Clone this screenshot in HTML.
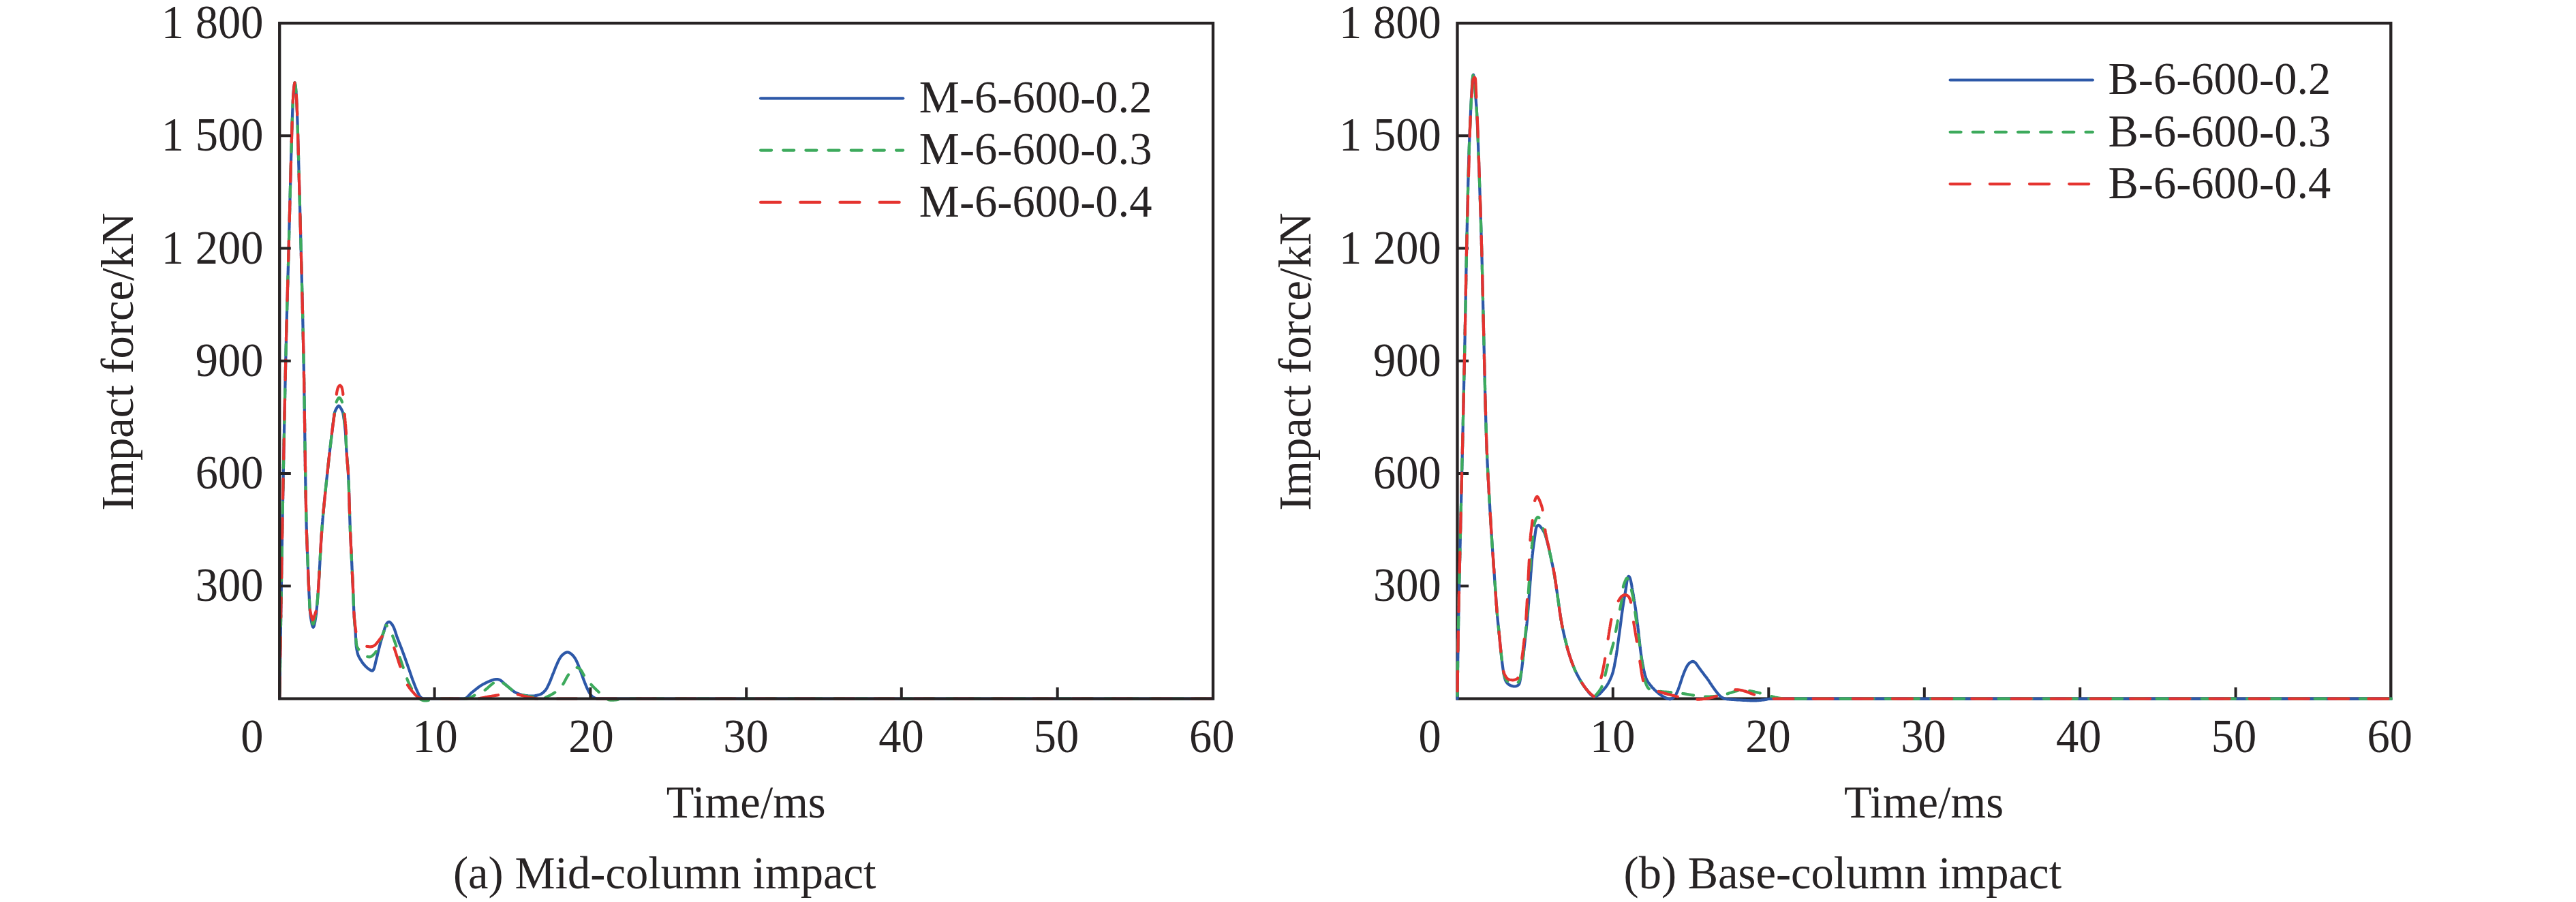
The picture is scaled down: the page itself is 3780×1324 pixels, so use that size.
<!DOCTYPE html>
<html lang="en">
<head>
<meta charset="utf-8">
<title>Impact force time histories</title>
<style>
html,body{margin:0;padding:0;background:#fff;}
body{width:3780px;height:1324px;overflow:hidden;}
svg{display:block;}
svg text{font-family:"Liberation Serif","Times New Roman",serif;font-size:66.5px;fill:#272324;}
</style>
</head>
<body>
<svg width="3780" height="1324" viewBox="0 0 3780 1324">
<rect width="3780" height="1324" fill="#ffffff"/>
<g id="chart-a">
<path d="M410.2,1025.6 410.2,1024.1 410.2,1022.6 410.3,1021.1 410.3,1019.6 410.3,1018.1 410.3,1016.6 410.4,1015.1 410.4,1013.6 410.4,1012.1 410.4,1010.6 410.5,1009.1 410.5,1007.6 410.5,1006.1 410.5,1004.6 410.6,1003.1 410.6,1001.6 410.6,1000.1 410.6,998.6 410.7,997.1 410.7,995.6 410.7,994.1 410.7,992.6 410.8,991.1 410.8,989.6 410.8,988.1 410.8,986.6 410.9,985.1 410.9,983.6 410.9,982.1 410.9,980.6 411,979.1 411,977.6 411,976.1 411,974.6 411.1,973.1 411.1,971.6 411.1,970.1 411.1,968.6 411.2,967.1 411.2,965.6 411.2,964.1 411.2,962.6 411.3,961.1 411.3,959.6 411.3,958.1 411.3,956.6 411.4,955.1 411.4,953.6 411.4,952.1 411.4,950.6 411.5,949.1 411.5,947.6 411.5,946.1 411.5,944.6 411.5,943.1 411.6,941.6 411.6,940.1 411.6,938.6 411.6,937.1 411.7,935.6 411.7,934.1 411.7,932.6 411.7,931.1 411.8,929.6 411.8,928.1 411.8,926.6 411.8,925.1 411.9,923.6 411.9,922.1 411.9,920.6 411.9,919.1 412,917.6 412,916.1 412,914.6 412,913.1 412.1,911.6 412.1,910.1 412.1,908.6 412.1,907.1 412.2,905.6 412.2,904.1 412.2,902.6 412.2,901.1 412.2,899.6 412.3,898.1 412.3,896.6 412.3,895.1 412.3,893.6 412.4,892.1 412.4,890.6 412.4,889.1 412.4,887.5 412.5,886 412.5,884.5 412.5,883 412.5,881.5 412.6,880 412.6,878.5 412.6,877 412.6,875.5 412.7,874 412.7,872.5 412.7,871 412.7,869.5 412.7,868 412.8,866.5 412.8,865 412.8,863.5 412.8,862 412.9,860.5 412.9,859 412.9,857.5 412.9,856 413,854.5 413,853 413,851.5 413,850 413.1,848.5 413.1,847 413.1,845.5 413.1,844 413.2,842.5 413.2,841 413.2,839.5 413.2,838 413.2,836.5 413.3,835 413.3,833.5 413.3,832 413.3,830.5 413.4,829 413.4,827.5 413.4,826 413.4,824.5 413.5,823 413.5,821.5 413.5,820 413.5,818.5 413.6,817 413.6,815.5 413.6,814 413.6,812.5 413.7,811 413.7,809.5 413.7,808 413.7,806.5 413.8,805 413.8,803.5 413.8,802 413.8,800.5 413.9,799 413.9,797.5 413.9,796 413.9,794.5 414,793 414,791.5 414,790 414.1,788.5 414.1,787 414.1,785.5 414.1,784 414.2,782.5 414.2,781 414.2,779.5 414.2,778 414.3,776.5 414.3,775 414.3,773.5 414.3,772 414.4,770.5 414.4,769 414.4,767.5 414.4,766 414.5,764.5 414.5,763 414.5,761.5 414.6,760 414.6,758.5 414.6,757 414.6,755.5 414.7,754 414.7,752.5 414.7,751 414.7,749.5 414.8,748 414.8,746.5 414.8,745 414.9,743.5 414.9,742 414.9,740.5 414.9,739 415,737.5 415,736 415,734.5 415.1,733 415.1,731.5 415.1,730 415.1,728.5 415.2,727 415.2,725.5 415.2,724 415.2,722.5 415.3,721 415.3,719.5 415.3,718 415.4,716.5 415.4,715 415.4,713.5 415.4,712 415.5,710.5 415.5,709 415.5,707.5 415.6,706 415.6,704.5 415.6,703 415.6,701.5 415.7,700 415.7,698.5 415.7,697 415.8,695.5 415.8,694 415.8,692.5 415.8,691 415.9,689.5 415.9,688 415.9,686.5 416,685 416,683.5 416,682 416.1,680.5 416.1,679 416.1,677.5 416.1,676 416.2,674.5 416.2,673 416.2,671.5 416.3,670 416.3,668.5 416.3,667 416.3,665.5 416.4,664 416.4,662.5 416.4,661 416.5,659.5 416.5,658 416.5,656.5 416.6,655 416.6,653.5 416.6,652 416.6,650.5 416.7,649 416.7,647.5 416.7,646 416.8,644.5 416.8,643 416.8,641.5 416.9,640 416.9,638.5 416.9,637 417,635.5 417,634 417,632.5 417,631 417.1,629.5 417.1,628 417.1,626.5 417.2,625 417.2,623.5 417.2,622 417.3,620.5 417.3,619 417.3,617.5 417.4,616 417.4,614.5 417.4,613 417.4,611.5 417.5,610 417.5,608.5 417.5,607 417.6,605.5 417.6,604 417.6,602.5 417.7,601 417.7,599.5 417.7,598 417.8,596.5 417.8,595 417.8,593.5 417.9,592 417.9,590.5 417.9,589 418,587.5 418,586 418,584.5 418.1,583 418.1,581.5 418.1,579.9 418.2,578.4 418.2,576.9 418.2,575.4 418.3,573.9 418.3,572.4 418.3,570.9 418.4,569.4 418.4,567.9 418.4,566.4 418.5,564.9 418.5,563.4 418.5,561.9 418.6,560.4 418.6,558.9 418.6,557.4 418.7,555.9 418.7,554.4 418.7,552.9 418.8,551.4 418.8,549.9 418.8,548.4 418.9,546.9 418.9,545.4 418.9,543.9 419,542.4 419,540.9 419,539.4 419.1,537.9 419.1,536.4 419.1,534.9 419.2,533.4 419.2,531.9 419.2,530.4 419.3,528.9 419.3,527.4 419.3,525.9 419.4,524.4 419.4,522.9 419.4,521.4 419.5,519.9 419.5,518.4 419.5,516.9 419.6,515.4 419.6,513.9 419.6,512.4 419.7,510.9 419.7,509.4 419.7,507.9 419.8,506.4 419.8,504.9 419.9,503.4 419.9,501.9 419.9,500.4 420,498.9 420,497.4 420,495.9 420.1,494.4 420.1,492.9 420.2,491.4 420.2,489.9 420.2,488.4 420.3,486.9 420.3,485.4 420.3,483.9 420.4,482.4 420.4,480.9 420.5,479.4 420.5,477.9 420.5,476.4 420.6,474.9 420.6,473.4 420.7,471.9 420.7,470.4 420.7,468.9 420.8,467.4 420.8,465.9 420.9,464.4 420.9,462.9 420.9,461.4 421,459.9 421,458.4 421.1,456.9 421.1,455.4 421.2,453.9 421.2,452.4 421.2,450.9 421.3,449.4 421.3,447.9 421.4,446.4 421.4,444.9 421.4,443.4 421.5,441.9 421.5,440.4 421.6,438.9 421.6,437.4 421.7,435.9 421.7,434.4 421.7,432.9 421.8,431.4 421.8,429.9 421.9,428.4 421.9,426.9 422,425.4 422,423.9 422,422.4 422.1,420.9 422.1,419.4 422.2,417.9 422.2,416.4 422.3,414.9 422.3,413.4 422.3,411.9 422.4,410.4 422.4,408.9 422.5,407.4 422.5,405.9 422.5,404.4 422.6,402.9 422.6,401.4 422.7,399.9 422.7,398.4 422.8,396.9 422.8,395.4 422.8,393.9 422.9,392.4 422.9,390.9 423,389.4 423,387.9 423.1,386.4 423.1,384.9 423.1,383.4 423.2,381.9 423.2,380.4 423.3,378.9 423.3,377.4 423.3,375.9 423.4,374.4 423.4,372.9 423.5,371.4 423.5,369.9 423.5,368.4 423.6,366.9 423.6,365.4 423.7,363.9 423.7,362.4 423.7,360.9 423.8,359.4 423.8,357.9 423.9,356.4 423.9,354.9 423.9,353.4 424,351.9 424,350.4 424.1,348.9 424.1,347.4 424.1,345.9 424.2,344.4 424.2,342.9 424.3,341.4 424.3,339.9 424.3,338.4 424.4,336.9 424.4,335.4 424.5,333.9 424.5,332.4 424.5,330.9 424.6,329.4 424.6,327.9 424.6,326.4 424.7,324.9 424.7,323.4 424.8,321.9 424.8,320.4 424.8,318.9 424.9,317.4 424.9,315.9 425,314.4 425,312.9 425,311.4 425.1,309.9 425.1,308.4 425.2,306.9 425.2,305.4 425.2,303.9 425.3,302.4 425.3,300.9 425.4,299.4 425.4,297.9 425.4,296.4 425.5,294.9 425.5,293.4 425.5,291.9 425.6,290.4 425.6,288.9 425.7,287.4 425.7,285.9 425.7,284.4 425.8,282.9 425.8,281.4 425.9,279.9 425.9,278.4 425.9,276.9 426,275.4 426,273.9 426.1,272.4 426.1,270.9 426.1,269.4 426.2,267.9 426.2,266.4 426.3,264.9 426.3,263.4 426.3,261.9 426.4,260.4 426.4,258.9 426.5,257.4 426.5,255.9 426.5,254.4 426.6,252.9 426.6,251.4 426.7,249.9 426.7,248.4 426.7,246.9 426.8,245.4 426.8,243.9 426.9,242.4 426.9,240.9 426.9,239.4 427,237.9 427,236.4 427.1,234.9 427.1,233.4 427.1,231.9 427.2,230.4 427.2,228.9 427.3,227.4 427.3,225.9 427.4,224.4 427.4,222.9 427.4,221.4 427.5,219.9 427.5,218.4 427.6,216.9 427.6,215.4 427.7,213.9 427.7,212.4 427.7,210.9 427.8,209.4 427.8,207.9 427.9,206.4 427.9,204.9 428,203.4 428,201.9 428,200.4 428.1,198.9 428.1,197.4 428.2,195.9 428.2,194.4 428.3,192.9 428.3,191.4 428.4,189.9 428.4,188.4 428.5,186.9 428.5,185.4 428.6,183.9 428.6,182.4 428.6,180.9 428.7,179.4 428.7,177.9 428.8,176.4 428.8,174.9 428.9,173.4 428.9,171.9 429,170.4 429,168.9 429.1,167.4 429.1,165.9 429.2,164.4 429.2,162.9 429.3,161.4 429.4,159.9 429.4,158.4 429.5,156.9 429.5,155.4 429.6,153.9 429.7,152.4 429.8,150.9 429.8,149.4 429.9,147.9 430,146.4 430.1,144.9 430.2,143.4 430.2,141.9 430.3,140.4 430.4,138.9 430.5,137.4 430.7,135.9 430.8,134.4 430.9,132.8 431.1,131 431.3,129.1 431.5,127.1 431.7,125.3 432,123.6 432.2,122.4 432.4,121.7 432.7,121.5 432.9,122.1 433.1,123.1 433.4,124.6 433.6,126.4 433.9,128.3 434.1,130.3 434.2,132.2 434.4,133.8 434.5,135.3 434.6,136.8 434.7,138.3 434.8,139.8 434.9,141.3 435,142.8 435.1,144.3 435.2,145.8 435.3,147.3 435.3,148.8 435.4,150.3 435.5,151.8 435.6,153.3 435.6,154.8 435.7,156.3 435.8,157.8 435.8,159.3 435.9,160.8 435.9,162.3 436,163.8 436,165.3 436.1,166.8 436.1,168.3 436.2,169.8 436.2,171.3 436.3,172.8 436.3,174.3 436.4,175.8 436.4,177.3 436.5,178.8 436.5,180.3 436.6,181.8 436.6,183.3 436.7,184.8 436.7,186.3 436.8,187.8 436.8,189.3 436.9,190.8 436.9,192.3 436.9,193.8 437,195.3 437,196.8 437.1,198.3 437.1,199.8 437.2,201.3 437.2,202.8 437.3,204.3 437.3,205.8 437.4,207.3 437.4,208.8 437.4,210.3 437.5,211.8 437.5,213.3 437.6,214.8 437.6,216.3 437.7,217.8 437.7,219.3 437.7,220.8 437.8,222.3 437.8,223.8 437.9,225.3 437.9,226.8 438,228.3 438,229.8 438,231.3 438.1,232.8 438.1,234.3 438.2,235.8 438.2,237.3 438.2,238.8 438.3,240.3 438.3,241.8 438.4,243.3 438.4,244.8 438.5,246.3 438.5,247.8 438.5,249.3 438.6,250.8 438.6,252.3 438.7,253.8 438.7,255.3 438.8,256.8 438.8,258.3 438.8,259.8 438.9,261.3 438.9,262.8 439,264.3 439,265.8 439,267.3 439.1,268.8 439.1,270.3 439.2,271.8 439.2,273.3 439.3,274.8 439.3,276.3 439.3,277.8 439.4,279.3 439.4,280.8 439.5,282.3 439.5,283.8 439.5,285.3 439.6,286.8 439.6,288.3 439.7,289.8 439.7,291.3 439.7,292.8 439.8,294.3 439.8,295.8 439.9,297.3 439.9,298.8 440,300.3 440,301.8 440,303.3 440.1,304.8 440.1,306.3 440.2,307.8 440.2,309.3 440.2,310.8 440.3,312.3 440.3,313.8 440.4,315.3 440.4,316.8 440.4,318.3 440.5,319.8 440.5,321.3 440.6,322.8 440.6,324.3 440.6,325.8 440.7,327.3 440.7,328.8 440.8,330.3 440.8,331.8 440.8,333.3 440.9,334.8 440.9,336.3 441,337.8 441,339.3 441,340.8 441.1,342.3 441.1,343.8 441.2,345.3 441.2,346.8 441.2,348.3 441.3,349.8 441.3,351.3 441.4,352.8 441.4,354.3 441.4,355.8 441.5,357.3 441.5,358.8 441.6,360.3 441.6,361.8 441.6,363.3 441.7,364.8 441.7,366.3 441.7,367.8 441.8,369.3 441.8,370.8 441.9,372.3 441.9,373.8 441.9,375.3 442,376.8 442,378.3 442.1,379.8 442.1,381.3 442.1,382.8 442.2,384.3 442.2,385.8 442.2,387.3 442.3,388.8 442.3,390.3 442.4,391.8 442.4,393.3 442.4,394.8 442.5,396.3 442.5,397.8 442.6,399.3 442.6,400.8 442.6,402.3 442.7,403.8 442.7,405.3 442.7,406.8 442.8,408.3 442.8,409.8 442.9,411.3 442.9,412.8 442.9,414.3 443,415.8 443,417.3 443,418.8 443.1,420.3 443.1,421.8 443.2,423.3 443.2,424.8 443.2,426.3 443.3,427.8 443.3,429.3 443.3,430.8 443.4,432.3 443.4,433.8 443.5,435.3 443.5,436.8 443.5,438.3 443.6,439.8 443.6,441.3 443.6,442.8 443.7,444.3 443.7,445.8 443.8,447.3 443.8,448.8 443.8,450.3 443.9,451.8 443.9,453.3 443.9,454.8 444,456.3 444,457.8 444,459.3 444.1,460.8 444.1,462.3 444.2,463.8 444.2,465.3 444.2,466.8 444.3,468.3 444.3,469.8 444.3,471.3 444.4,472.8 444.4,474.3 444.4,475.8 444.5,477.3 444.5,478.8 444.5,480.3 444.6,481.8 444.6,483.3 444.6,484.8 444.7,486.4 444.7,487.9 444.7,489.4 444.8,490.9 444.8,492.4 444.8,493.9 444.9,495.4 444.9,496.9 444.9,498.4 445,499.9 445,501.4 445,502.9 445.1,504.4 445.1,505.9 445.1,507.4 445.2,508.9 445.2,510.4 445.2,511.9 445.3,513.4 445.3,514.9 445.3,516.4 445.4,517.9 445.4,519.4 445.4,520.9 445.5,522.4 445.5,523.9 445.5,525.4 445.5,526.9 445.6,528.4 445.6,529.9 445.6,531.4 445.7,532.9 445.7,534.4 445.7,535.9 445.7,537.4 445.8,538.9 445.8,540.4 445.8,541.9 445.9,543.4 445.9,544.9 445.9,546.4 445.9,547.9 446,549.4 446,550.9 446,552.4 446,553.9 446.1,555.4 446.1,556.9 446.1,558.4 446.1,559.9 446.2,561.4 446.2,562.9 446.2,564.4 446.2,565.9 446.3,567.4 446.3,568.9 446.3,570.4 446.3,571.9 446.4,573.4 446.4,574.9 446.4,576.4 446.4,577.9 446.4,579.4 446.5,580.9 446.5,582.4 446.5,583.9 446.5,585.4 446.6,586.9 446.6,588.4 446.6,589.9 446.6,591.4 446.6,592.9 446.7,594.4 446.7,595.9 446.7,597.4 446.7,598.9 446.8,600.4 446.8,601.9 446.8,603.4 446.8,604.9 446.8,606.4 446.9,607.9 446.9,609.4 446.9,610.9 446.9,612.4 446.9,613.9 447,615.4 447,616.9 447,618.4 447,619.9 447.1,621.4 447.1,622.9 447.1,624.4 447.1,625.9 447.1,627.4 447.2,628.9 447.2,630.4 447.2,631.9 447.2,633.4 447.2,634.9 447.3,636.4 447.3,637.9 447.3,639.4 447.3,640.9 447.3,642.4 447.4,643.9 447.4,645.4 447.4,646.9 447.4,648.4 447.4,649.9 447.5,651.4 447.5,652.9 447.5,654.4 447.5,655.9 447.6,657.4 447.6,658.9 447.6,660.4 447.6,661.9 447.6,663.4 447.7,664.9 447.7,666.4 447.7,667.9 447.7,669.4 447.8,670.9 447.8,672.4 447.8,673.9 447.8,675.4 447.8,676.9 447.9,678.4 447.9,679.9 447.9,681.4 447.9,682.9 448,684.4 448,685.9 448,687.4 448,688.9 448,690.4 448.1,691.9 448.1,693.4 448.1,694.9 448.1,696.4 448.2,697.9 448.2,699.4 448.2,700.9 448.2,702.4 448.3,703.9 448.3,705.4 448.3,706.9 448.3,708.4 448.4,709.9 448.4,711.4 448.4,712.9 448.5,714.4 448.5,715.9 448.5,717.4 448.5,718.9 448.6,720.4 448.6,721.9 448.6,723.4 448.6,724.9 448.7,726.4 448.7,727.9 448.7,729.4 448.8,730.9 448.8,732.4 448.8,733.9 448.8,735.4 448.9,736.9 448.9,738.4 448.9,739.9 449,741.4 449,742.9 449,744.4 449.1,745.9 449.1,747.4 449.1,748.9 449.2,750.4 449.2,751.9 449.2,753.4 449.3,754.9 449.3,756.4 449.3,757.9 449.4,759.4 449.4,760.9 449.4,762.4 449.5,763.9 449.5,765.4 449.5,766.9 449.6,768.4 449.6,769.9 449.6,771.4 449.7,772.9 449.7,774.4 449.8,775.9 449.8,777.4 449.8,778.9 449.9,780.4 449.9,781.9 450,783.4 450,784.9 450.1,786.4 450.1,787.9 450.2,789.4 450.2,790.9 450.3,792.4 450.3,793.9 450.4,795.4 450.4,796.9 450.5,798.4 450.6,799.9 450.6,801.4 450.7,802.9 450.7,804.4 450.8,805.9 450.9,807.4 450.9,808.9 451,810.4 451,811.9 451.1,813.4 451.2,814.9 451.2,816.4 451.3,817.9 451.3,819.4 451.4,820.9 451.5,822.4 451.5,823.9 451.6,825.4 451.7,826.9 451.7,828.4 451.8,829.9 451.8,831.4 451.9,832.9 452,834.4 452,835.9 452.1,837.4 452.2,838.9 452.2,840.4 452.3,841.9 452.3,843.4 452.4,844.9 452.5,846.4 452.5,847.9 452.6,849.4 452.6,850.9 452.7,852.4 452.8,853.9 452.8,855.4 452.9,856.9 452.9,858.4 453,859.9 453.1,861.4 453.1,862.9 453.2,864.4 453.3,865.9 453.3,867.4 453.4,868.9 453.5,870.4 453.5,871.9 453.6,873.4 453.7,874.9 453.8,876.4 453.8,877.9 453.9,879.4 454,880.9 454.1,882.4 454.1,883.9 454.2,885.4 454.3,886.9 454.4,888.4 454.4,889.9 454.5,891.4 454.6,892.9 454.7,894.4 454.8,895.9 455,897.4 455.1,898.9 455.3,900.4 455.4,901.9 455.6,903.4 455.8,904.9 456,906.4 456.2,907.8 456.5,909.3 456.7,910.8 457,912.3 457.3,913.8 457.6,915.4 458,917.3 458.6,919 459.1,920.3 459.6,920.8 460.1,920.2 460.7,918.9 461.2,917.1 461.6,915.2 462,913.6 462.3,912.1 462.5,910.7 462.8,909.2 463,907.7 463.3,906.2 463.5,904.7 463.7,903.2 463.9,901.8 464.1,900.3 464.2,898.8 464.4,897.3 464.5,895.8 464.7,894.3 464.8,892.8 465,891.3 465.1,889.8 465.2,888.3 465.4,886.8 465.5,885.3 465.6,883.8 465.7,882.3 465.9,880.8 466,879.3 466.1,877.8 466.2,876.3 466.3,874.9 466.4,873.4 466.6,871.9 466.7,870.4 466.8,868.9 466.9,867.4 467,865.9 467.1,864.4 467.2,862.9 467.3,861.4 467.4,859.9 467.5,858.4 467.6,856.9 467.7,855.4 467.8,853.9 467.9,852.4 468,850.9 468.1,849.4 468.2,847.9 468.3,846.4 468.3,844.9 468.4,843.4 468.5,841.9 468.6,840.4 468.7,838.9 468.8,837.4 468.9,835.9 468.9,834.4 469,832.9 469.1,831.4 469.2,829.9 469.3,828.4 469.4,826.9 469.4,825.4 469.5,823.9 469.6,822.4 469.7,820.9 469.8,819.4 469.8,817.9 469.9,816.4 470,814.9 470.1,813.4 470.2,811.9 470.3,810.4 470.3,808.9 470.4,807.4 470.5,805.9 470.6,804.4 470.7,802.9 470.8,801.4 470.8,799.9 470.9,798.4 471,796.9 471.1,795.4 471.2,793.9 471.3,792.4 471.4,791 471.5,789.5 471.6,788 471.7,786.5 471.8,785 471.9,783.5 472,782 472.1,780.5 472.2,779 472.3,777.5 472.4,776 472.5,774.5 472.7,773 472.8,771.5 472.9,770 473,768.5 473.1,767 473.3,765.5 473.4,764 473.5,762.5 473.6,761 473.8,759.5 473.9,758 474,756.5 474.2,755 474.3,753.6 474.4,752.1 474.6,750.6 474.7,749.1 474.9,747.6 475,746.1 475.1,744.6 475.3,743.1 475.4,741.6 475.6,740.1 475.7,738.6 475.9,737.1 476,735.6 476.2,734.1 476.3,732.6 476.5,731.1 476.6,729.7 476.8,728.2 476.9,726.7 477.1,725.2 477.2,723.7 477.4,722.2 477.5,720.7 477.7,719.2 477.9,717.7 478,716.2 478.2,714.7 478.3,713.2 478.5,711.7 478.6,710.2 478.8,708.8 479,707.3 479.1,705.8 479.3,704.3 479.4,702.8 479.6,701.3 479.8,699.8 479.9,698.3 480.1,696.8 480.2,695.3 480.4,693.8 480.6,692.3 480.7,690.8 480.9,689.4 481,687.9 481.2,686.4 481.3,684.9 481.5,683.4 481.7,681.9 481.8,680.4 482,678.9 482.2,677.4 482.3,675.9 482.5,674.4 482.7,672.9 482.8,671.4 483,670 483.2,668.5 483.4,667 483.5,665.5 483.7,664 483.9,662.5 484,661 484.2,659.5 484.4,658 484.6,656.5 484.7,655 484.9,653.6 485.1,652.1 485.3,650.6 485.5,649.1 485.6,647.6 485.8,646.1 486,644.6 486.2,643.1 486.3,641.6 486.5,640.1 486.7,638.7 486.9,637.2 487,635.7 487.2,634.2 487.4,632.7 487.6,631.2 487.7,629.7 487.9,628.2 488.1,626.7 488.3,625.2 488.4,623.7 488.6,622.2 488.8,620.7 489,619.2 489.2,617.7 489.4,616.2 489.6,614.7 489.8,613.2 490,611.8 490.3,610.3 490.5,608.8 490.7,607.4 491,605.9 491.4,604.5 492,603.1 492.6,601.7 493.3,600.3 494,599 494.9,597.6 495.9,596.3 497,595.7 498.1,596.3 499.1,597.6 500,599.1 500.8,600.4 501.5,601.7 502.1,603.1 502.7,604.5 503.2,605.9 503.5,607.4 503.7,608.8 504,610.3 504.2,611.7 504.4,613.2 504.6,614.7 504.9,616.2 505.1,617.7 505.3,619.1 505.5,620.6 505.7,622.1 505.8,623.6 506,625.2 506.2,626.7 506.3,628.2 506.5,629.7 506.6,631.2 506.8,632.7 506.9,634.2 507,635.7 507.1,637.2 507.2,638.7 507.3,640.2 507.4,641.7 507.4,643.2 507.5,644.7 507.6,646.2 507.7,647.7 507.8,649.2 507.8,650.7 507.9,652.1 508,653.6 508.1,655.1 508.2,656.6 508.2,658.1 508.3,659.6 508.4,661.1 508.5,662.6 508.6,664.1 508.7,665.6 508.8,667.1 508.9,668.6 509,670.1 509.2,671.6 509.3,673.1 509.4,674.6 509.5,676.1 509.7,677.6 509.8,679.1 509.9,680.6 510.1,682.1 510.2,683.6 510.3,685.1 510.4,686.6 510.6,688.1 510.7,689.6 510.8,691.1 510.9,692.6 511,694.1 511,695.6 511.1,697.1 511.2,698.6 511.2,700.1 511.3,701.6 511.4,703.1 511.5,704.6 511.5,706.1 511.6,707.6 511.6,709.1 511.7,710.6 511.8,712.1 511.8,713.6 511.9,715.1 511.9,716.6 512,718.1 512,719.6 512.1,721.1 512.1,722.6 512.2,724.1 512.2,725.6 512.3,727.1 512.3,728.6 512.4,730.1 512.4,731.6 512.5,733.1 512.5,734.6 512.5,736.1 512.6,737.6 512.6,739.1 512.7,740.6 512.7,742.1 512.8,743.6 512.8,745.1 512.8,746.6 512.9,748.1 512.9,749.6 513,751.1 513,752.6 513.1,754.1 513.1,755.6 513.2,757.1 513.2,758.6 513.3,760.1 513.3,761.6 513.4,763.1 513.4,764.6 513.5,766.1 513.5,767.6 513.6,769.1 513.6,770.6 513.7,772.1 513.7,773.6 513.8,775.1 513.9,776.6 513.9,778.1 514,779.6 514,781.1 514.1,782.6 514.2,784.1 514.2,785.6 514.3,787.1 514.4,788.6 514.4,790.1 514.5,791.6 514.6,793.1 514.7,794.5 514.7,796 514.8,797.5 514.9,799 514.9,800.5 515,802 515.1,803.5 515.2,805 515.2,806.5 515.3,808 515.4,809.5 515.4,811 515.5,812.5 515.6,814 515.7,815.5 515.7,817 515.8,818.5 515.9,820 516,821.5 516,823 516.1,824.5 516.2,826 516.3,827.5 516.3,829 516.4,830.5 516.5,832 516.5,833.5 516.6,835 516.7,836.5 516.8,838 516.8,839.5 516.9,841 517,842.5 517.1,844 517.1,845.5 517.2,847 517.3,848.5 517.3,850 517.4,851.5 517.5,853 517.5,854.5 517.6,856 517.7,857.5 517.8,859 517.8,860.5 517.9,862 518,863.5 518,865 518.1,866.5 518.1,868 518.2,869.5 518.2,871 518.3,872.5 518.4,874 518.4,875.5 518.5,877 518.5,878.5 518.6,880 518.6,881.5 518.7,883 518.7,884.5 518.8,886 518.9,887.5 518.9,889 519,890.5 519.1,892 519.1,893.5 519.2,895 519.3,896.5 519.3,898 519.4,899.5 519.5,901 519.6,902.5 519.7,904 519.8,905.5 519.9,907 520,908.5 520.1,910 520.3,911.5 520.4,913 520.5,914.5 520.6,916 520.7,917.5 520.9,918.9 521,920.4 521.1,921.9 521.2,923.4 521.3,924.9 521.4,926.4 521.6,927.9 521.7,929.4 521.8,930.9 521.8,932.4 521.9,933.9 522,935.4 522.1,936.9 522.1,938.4 522.2,939.9 522.3,941.4 522.4,942.9 522.4,944.4 522.5,945.9 522.7,947.4 522.8,948.9 523,950.4 523.3,951.9 523.5,953.4 523.8,954.9 524.1,956.4 524.4,957.8 524.8,959.2 525.2,960.6 525.7,962 526.3,963.4 527,964.8 527.7,966.1 528.5,967.4 529.3,968.7 530.1,970 530.9,971.2 531.7,972.5 532.6,973.7 533.6,974.9 534.5,976 535.6,977.2 536.6,978.3 537.7,979.3 538.8,980.3 540.2,981.4 541.7,982.5 543.2,983.5 544.6,984.2 545.8,984.6 546.7,984.5 547.3,983.9 548,983.1 548.5,981.9 549.1,980.5 549.5,979 550,977.3 550.4,975.5 550.8,973.7 551.2,971.9 551.6,970.3 552,968.7 552.4,967.3 552.7,965.8 553.1,964.4 553.5,962.9 553.8,961.5 554.1,960 554.5,958.5 554.8,957.1 555.2,955.6 555.5,954.2 555.9,952.7 556.3,951.2 556.7,949.8 557,948.3 557.4,946.9 557.8,945.4 558.2,944 558.6,942.5 559,941.1 559.4,939.6 559.9,938.2 560.3,936.8 560.7,935.3 561.1,933.9 561.5,932.4 561.9,931 562.4,929.6 562.8,928.1 563.2,926.7 563.7,925.2 564.1,923.8 564.5,922.3 565,920.8 565.5,919.4 566,918 566.6,916.7 567.3,915.4 568.4,914.2 569.7,913.1 571,912.8 572.1,913.2 573.2,914.1 574.3,915.3 575.4,916.6 576.3,918.1 577,919.5 577.7,920.8 578.3,922.2 578.8,923.5 579.3,924.9 579.8,926.4 580.3,927.8 580.7,929.3 581.2,930.7 581.6,932.2 582.1,933.6 582.6,935 583.1,936.4 583.7,937.9 584.2,939.3 584.7,940.7 585.3,942.1 585.8,943.5 586.4,944.8 586.9,946.2 587.5,947.6 588,949 588.6,950.4 589.1,951.8 589.6,953.2 590.2,954.6 590.7,956 591.2,957.4 591.7,958.9 592.3,960.3 592.8,961.7 593.3,963.1 593.8,964.5 594.3,965.9 594.8,967.3 595.3,968.7 595.8,970.2 596.3,971.6 596.8,973 597.3,974.4 597.8,975.8 598.3,977.2 598.8,978.6 599.3,980.1 599.8,981.5 600.3,982.9 600.8,984.3 601.3,985.7 601.8,987.2 602.3,988.6 602.7,990 603.2,991.4 603.7,992.8 604.2,994.2 604.7,995.7 605.2,997.1 605.7,998.5 606.3,999.9 606.8,1001.3 607.3,1002.7 607.9,1004.1 608.4,1005.5 609,1006.9 609.5,1008.3 610.1,1009.7 610.7,1011.1 611.3,1012.4 611.9,1013.8 612.5,1015.2 613.2,1016.7 613.9,1018.2 614.6,1019.7 615.4,1021.1 616.3,1022.4 617.2,1023.4 618.2,1024.3 619.3,1024.8 620.7,1025.2 622.3,1025.5 623.9,1025.6 625.4,1025.6 626.9,1025.6 628.4,1025.6 629.9,1025.6 631.4,1025.6 632.9,1025.6 634.4,1025.6 635.9,1025.6 637.4,1025.6 638.9,1025.6 640.4,1025.6 641.9,1025.6 643.4,1025.6 644.9,1025.6 646.4,1025.6 647.9,1025.6 649.4,1025.6 650.9,1025.6 652.4,1025.6 653.9,1025.6 655.4,1025.6 656.9,1025.6 658.4,1025.6 659.9,1025.6 661.4,1025.6 662.9,1025.6 664.4,1025.6 665.9,1025.6 667.4,1025.6 668.9,1025.6 670.4,1025.6 671.9,1025.6 673.4,1025.6 674.9,1025.6 676.4,1025.6 678,1025.6 679.5,1025.6 680.9,1025.6 682.2,1025.4 683.4,1024.9 684.6,1024.1 685.8,1023.1 686.9,1022 688.1,1020.8 689.2,1019.5 690.3,1018.3 691.5,1017.2 692.6,1016.3 693.8,1015.4 695,1014.4 696.2,1013.5 697.3,1012.5 698.5,1011.6 699.7,1010.6 700.9,1009.7 702.1,1008.8 703.3,1007.9 704.5,1007.1 705.8,1006.2 707,1005.5 708.3,1004.7 709.6,1004 711,1003.3 712.3,1002.6 713.7,1002 715,1001.3 716.4,1000.7 717.8,1000.1 719.2,999.5 720.6,999 722,998.4 723.4,998 724.8,997.6 726.3,997.3 727.8,997.1 729.3,997 730.8,997.2 732.3,997.6 733.6,998.2 734.9,998.9 736.1,999.8 737.2,1000.8 738.4,1001.8 739.5,1002.8 740.7,1003.8 741.9,1004.8 743,1005.8 744.2,1006.8 745.3,1007.8 746.4,1008.8 747.6,1009.8 748.7,1010.8 749.9,1011.8 751,1012.8 752.2,1013.7 753.4,1014.6 754.6,1015.4 755.9,1016.2 757.2,1016.8 758.5,1017.5 759.9,1018 761.3,1018.6 762.7,1019.1 764.2,1019.5 765.7,1019.9 767.1,1020.2 768.6,1020.5 770.1,1020.7 771.6,1021 773.1,1021.2 774.6,1021.4 776.1,1021.5 777.6,1021.6 779.1,1021.7 780.6,1021.7 782.1,1021.6 783.6,1021.5 785.1,1021.2 786.6,1020.9 788.1,1020.6 789.5,1020.2 791,1019.8 792.3,1019.4 793.7,1018.8 795,1018.1 796.3,1017.2 797.5,1016.2 798.6,1015.1 799.6,1014.1 800.5,1013 801.4,1011.8 802.2,1010.5 802.9,1009.2 803.6,1007.8 804.3,1006.4 805,1005 805.6,1003.7 806.2,1002.3 806.8,1000.9 807.4,999.6 808,998.2 808.5,996.8 809,995.4 809.6,994 810.1,992.6 810.7,991.1 811.2,989.7 811.8,988.4 812.4,987 812.9,985.6 813.5,984.2 814,982.8 814.6,981.3 815.1,979.9 815.7,978.5 816.3,977.2 816.9,975.8 817.5,974.4 818.1,973 818.7,971.7 819.3,970.4 820,969 820.7,967.7 821.5,966.3 822.3,965 823.2,963.8 824.1,962.6 825.1,961.6 826.2,960.6 827.5,959.5 828.8,958.6 830.2,957.9 831.6,957.4 832.9,957.3 834.3,957.6 835.7,958.2 837,959.1 838.4,960 839.5,961.1 840.6,962.1 841.6,963.2 842.5,964.4 843.4,965.7 844.2,967 844.9,968.3 845.6,969.6 846.3,971 846.9,972.3 847.5,973.7 848.1,975.1 848.6,976.4 849.2,977.9 849.7,979.3 850.3,980.7 850.8,982.1 851.3,983.5 851.8,984.9 852.4,986.3 852.9,987.7 853.4,989.1 853.9,990.6 854.4,992 854.9,993.4 855.4,994.8 855.9,996.2 856.4,997.6 857,999 857.5,1000.4 858,1001.8 858.6,1003.2 859.1,1004.6 859.7,1006 860.3,1007.4 860.9,1008.8 861.5,1010.2 862.1,1011.6 862.8,1012.9 863.4,1014.3 864.1,1015.5 864.9,1016.9 865.7,1018.2 866.6,1019.5 867.5,1020.7 868.6,1021.8 869.6,1022.7 870.8,1023.5 872.1,1024.2 873.6,1024.9 875.1,1025.3 876.6,1025.6 878,1025.6 879.5,1025.6 881,1025.6 882.6,1025.6 884.1,1025.6 885.6,1025.6 887.1,1025.6 888.6,1025.6 890.1,1025.6 891.6,1025.6 893.1,1025.6 894.6,1025.6 896.1,1025.6 897.6,1025.6 899.1,1025.6 900.6,1025.6 902.1,1025.6 903.6,1025.6 905.1,1025.6 906.6,1025.6 908.1,1025.6 909.6,1025.6 911.1,1025.6 912.6,1025.6 914.1,1025.6 915.6,1025.6 917.1,1025.6 918.6,1025.6 920.1,1025.6 921.6,1025.6 923.1,1025.6 924.6,1025.6 926.1,1025.6 927.6,1025.6 929.1,1025.6 930.6,1025.6 932.1,1025.6 933.6,1025.6 935.1,1025.6 936.6,1025.6 938.1,1025.6 939.6,1025.6 941.1,1025.6 942.6,1025.6 944.1,1025.6 945.6,1025.6 947.1,1025.6 948.6,1025.6 950.1,1025.6 951.6,1025.6 953.1,1025.6 954.6,1025.6 956.1,1025.6 957.6,1025.6 959.1,1025.6 960.6,1025.6 962.1,1025.6 963.6,1025.6 965.1,1025.6 966.6,1025.6 968.1,1025.6 969.6,1025.6 971.1,1025.6 972.6,1025.6 974.1,1025.6 975.6,1025.6 977.1,1025.6 978.6,1025.6 980.1,1025.6 981.6,1025.6 983.1,1025.6 984.6,1025.6 986.1,1025.6 987.6,1025.6 989.1,1025.6 990.6,1025.6 992.1,1025.6 993.6,1025.6 995.1,1025.6 996.6,1025.6 998.1,1025.6 999.6,1025.6 1001.1,1025.6 1002.6,1025.6 1004.1,1025.6 1005.6,1025.6 1007.1,1025.6 1008.6,1025.6 1010.1,1025.6 1011.6,1025.6 1013.1,1025.6 1014.6,1025.6 1016.1,1025.6 1017.6,1025.6 1019.1,1025.6 1020.6,1025.6 1022.1,1025.6 1023.6,1025.6 1025.1,1025.6 1026.6,1025.6 1028.1,1025.6 1029.6,1025.6 1031.1,1025.6 1032.6,1025.6 1034.1,1025.6 1035.6,1025.6 1037.1,1025.6 1038.6,1025.6 1040.1,1025.6 1041.6,1025.6 1043.1,1025.6 1044.6,1025.6 1046.1,1025.6 1047.6,1025.6 1049.1,1025.6 1050.6,1025.6 1052.1,1025.6 1053.6,1025.6 1055.1,1025.6 1056.6,1025.6 1058.1,1025.6 1059.6,1025.6 1061.1,1025.6 1062.6,1025.6 1064.1,1025.6 1065.6,1025.6 1067.1,1025.6 1068.6,1025.6 1070.1,1025.6 1071.6,1025.6 1073.2,1025.6 1074.7,1025.6 1076.2,1025.6 1077.7,1025.6 1079.2,1025.6 1080.7,1025.6 1082.2,1025.6 1083.7,1025.6 1085.2,1025.6 1086.7,1025.6 1088.2,1025.6 1089.7,1025.6 1091.2,1025.6 1092.7,1025.6 1094.2,1025.6 1095.7,1025.6 1097.2,1025.6 1098.7,1025.6 1100.2,1025.6 1101.7,1025.6 1103.2,1025.6 1104.7,1025.6 1106.2,1025.6 1107.7,1025.6 1109.2,1025.6 1110.7,1025.6 1112.2,1025.6 1113.7,1025.6 1115.2,1025.6 1116.7,1025.6 1118.2,1025.6 1119.7,1025.6 1121.2,1025.6 1122.7,1025.6 1124.2,1025.6 1125.7,1025.6 1127.2,1025.6 1128.7,1025.6 1130.2,1025.6 1131.7,1025.6 1133.2,1025.6 1134.7,1025.6 1136.2,1025.6 1137.7,1025.6 1139.2,1025.6 1140.7,1025.6 1142.2,1025.6 1143.7,1025.6 1145.2,1025.6 1146.7,1025.6 1148.2,1025.6 1149.7,1025.6 1151.2,1025.6 1152.7,1025.6 1154.2,1025.6 1155.7,1025.6 1157.2,1025.6 1158.7,1025.6 1160.2,1025.6 1161.7,1025.6 1163.2,1025.6 1164.7,1025.6 1166.2,1025.6 1167.7,1025.6 1169.2,1025.6 1170.7,1025.6 1172.2,1025.6 1173.7,1025.6 1175.2,1025.6 1176.7,1025.6 1178.2,1025.6 1179.7,1025.6 1181.2,1025.6 1182.7,1025.6 1184.2,1025.6 1185.7,1025.6 1187.2,1025.6 1188.7,1025.6 1190.2,1025.6 1191.7,1025.6 1193.2,1025.6 1194.7,1025.6 1196.2,1025.6 1197.7,1025.6 1199.2,1025.6 1200.7,1025.6 1202.2,1025.6 1203.7,1025.6 1205.2,1025.6 1206.7,1025.6 1208.2,1025.6 1209.7,1025.6 1211.2,1025.6 1212.7,1025.6 1214.2,1025.6 1215.7,1025.6 1217.2,1025.6 1218.7,1025.6 1220.2,1025.6 1221.7,1025.6 1223.2,1025.6 1224.7,1025.6 1226.2,1025.6 1227.7,1025.6 1229.2,1025.6 1230.7,1025.6 1232.2,1025.6 1233.7,1025.6 1235.2,1025.6 1236.7,1025.6 1238.2,1025.6 1239.7,1025.6 1241.2,1025.6 1242.7,1025.6 1244.2,1025.6 1245.7,1025.6 1247.2,1025.6 1248.7,1025.6 1250.2,1025.6 1251.7,1025.6 1253.2,1025.6 1254.7,1025.6 1256.2,1025.6 1257.7,1025.6 1259.2,1025.6 1260.7,1025.6 1262.2,1025.6 1263.7,1025.6 1265.2,1025.6 1266.7,1025.6 1268.2,1025.6 1269.7,1025.6 1271.2,1025.6 1272.7,1025.6 1274.2,1025.6 1275.8,1025.6 1277.3,1025.6 1278.8,1025.6 1280.3,1025.6 1281.8,1025.6 1283.3,1025.6 1284.8,1025.6 1286.3,1025.6 1287.8,1025.6 1289.3,1025.6 1290.8,1025.6 1292.3,1025.6 1293.8,1025.6 1295.3,1025.6 1296.8,1025.6 1298.3,1025.6 1299.8,1025.6 1301.3,1025.6 1302.8,1025.6 1304.3,1025.6 1305.8,1025.6 1307.3,1025.6 1308.8,1025.6 1310.3,1025.6 1311.8,1025.6 1313.3,1025.6 1314.8,1025.6 1316.3,1025.6 1317.8,1025.6 1319.3,1025.6 1320.8,1025.6 1322.3,1025.6 1323.8,1025.6 1325.3,1025.6 1326.8,1025.6 1328.3,1025.6 1329.8,1025.6 1331.3,1025.6 1332.8,1025.6 1334.3,1025.6 1335.8,1025.6 1337.3,1025.6 1338.8,1025.6 1340.3,1025.6 1341.8,1025.6 1343.3,1025.6 1344.8,1025.6 1346.3,1025.6 1347.8,1025.6 1349.3,1025.6 1350.8,1025.6 1352.3,1025.6 1353.8,1025.6 1355.3,1025.6 1356.8,1025.6 1358.3,1025.6 1359.8,1025.6 1361.3,1025.6 1362.8,1025.6 1364.3,1025.6 1365.8,1025.6 1367.3,1025.6 1368.8,1025.6 1370.3,1025.6 1371.8,1025.6 1373.3,1025.6 1374.8,1025.6 1376.3,1025.6 1377.8,1025.6 1379.3,1025.6 1380.8,1025.6 1382.3,1025.6 1383.8,1025.6 1385.3,1025.6 1386.8,1025.6 1388.3,1025.6 1389.8,1025.6 1391.3,1025.6 1392.8,1025.6 1394.3,1025.6 1395.8,1025.6 1397.3,1025.6 1398.8,1025.6 1400.3,1025.6 1401.8,1025.6 1403.3,1025.6 1404.8,1025.6 1406.3,1025.6 1407.8,1025.6 1409.3,1025.6 1410.8,1025.6 1412.3,1025.6 1413.8,1025.6 1415.3,1025.6 1416.8,1025.6 1418.3,1025.6 1419.8,1025.6 1421.3,1025.6 1422.8,1025.6 1424.3,1025.6 1425.8,1025.6 1427.3,1025.6 1428.8,1025.6 1430.3,1025.6 1431.8,1025.6 1433.3,1025.6 1434.8,1025.6 1436.3,1025.6 1437.8,1025.6 1439.3,1025.6 1440.8,1025.6 1442.3,1025.6 1443.8,1025.6 1445.3,1025.6 1446.8,1025.6 1448.3,1025.6 1449.8,1025.6 1451.3,1025.6 1452.8,1025.6 1454.3,1025.6 1455.8,1025.6 1457.3,1025.6 1458.8,1025.6 1460.3,1025.6 1461.8,1025.6 1463.3,1025.6 1464.8,1025.6 1466.3,1025.6 1467.8,1025.6 1469.3,1025.6 1470.8,1025.6 1472.3,1025.6 1473.8,1025.6 1475.3,1025.6 1476.8,1025.6 1478.4,1025.6 1479.9,1025.6 1481.4,1025.6 1482.9,1025.6 1484.4,1025.6 1485.9,1025.6 1487.4,1025.6 1488.9,1025.6 1490.4,1025.6 1491.9,1025.6 1493.4,1025.6 1494.9,1025.6 1496.4,1025.6 1497.9,1025.6 1499.4,1025.6 1500.9,1025.6 1502.4,1025.6 1503.9,1025.6 1505.4,1025.6 1506.9,1025.6 1508.4,1025.6 1509.9,1025.6 1511.4,1025.6 1512.9,1025.6 1514.4,1025.6 1515.9,1025.6 1517.4,1025.6 1518.9,1025.6 1520.4,1025.6 1521.9,1025.6 1523.4,1025.6 1524.9,1025.6 1526.4,1025.6 1527.9,1025.6 1529.4,1025.6 1530.9,1025.6 1532.4,1025.6 1533.9,1025.6 1535.4,1025.6 1536.9,1025.6 1538.4,1025.6 1539.9,1025.6 1541.4,1025.6 1542.9,1025.6 1544.4,1025.6 1545.9,1025.6 1547.4,1025.6 1548.9,1025.6 1550.4,1025.6 1551.9,1025.6 1553.4,1025.6 1554.9,1025.6 1556.4,1025.6 1557.9,1025.6 1559.4,1025.6 1560.9,1025.6 1562.4,1025.6 1563.9,1025.6 1565.4,1025.6 1566.9,1025.6 1568.4,1025.6 1569.9,1025.6 1571.4,1025.6 1572.9,1025.6 1574.4,1025.6 1575.9,1025.6 1577.4,1025.6 1578.9,1025.6 1580.4,1025.6 1581.9,1025.6 1583.4,1025.6 1584.9,1025.6 1586.4,1025.6 1587.9,1025.6 1589.4,1025.6 1590.9,1025.6 1592.4,1025.6 1593.9,1025.6 1595.4,1025.6 1596.9,1025.6 1598.4,1025.6 1599.9,1025.6 1601.4,1025.6 1602.9,1025.6 1604.4,1025.6 1605.9,1025.6 1607.4,1025.6 1608.9,1025.6 1610.4,1025.6 1611.9,1025.6 1613.4,1025.6 1614.9,1025.6 1616.4,1025.6 1617.9,1025.6 1619.4,1025.6 1620.9,1025.6 1622.4,1025.6 1623.9,1025.6 1625.4,1025.6 1626.9,1025.6 1628.4,1025.6 1629.9,1025.6 1631.4,1025.6 1632.9,1025.6 1634.4,1025.6 1635.9,1025.6 1637.4,1025.6 1638.9,1025.6 1640.4,1025.6 1641.9,1025.6 1643.4,1025.6 1644.9,1025.6 1646.4,1025.6 1647.9,1025.6 1649.4,1025.6 1650.9,1025.6 1652.4,1025.6 1653.9,1025.6 1655.4,1025.6 1656.9,1025.6 1658.4,1025.6 1659.9,1025.6 1661.4,1025.6 1662.9,1025.6 1664.4,1025.6 1665.9,1025.6 1667.4,1025.6 1668.9,1025.6 1670.4,1025.6 1671.9,1025.6 1673.4,1025.6 1674.9,1025.6 1676.4,1025.6 1677.9,1025.6 1679.5,1025.6 1681,1025.6 1682.5,1025.6 1684,1025.6 1685.5,1025.6 1687,1025.6 1688.5,1025.6 1690,1025.6 1691.5,1025.6 1693,1025.6 1694.5,1025.6 1696,1025.6 1697.5,1025.6 1699,1025.6 1700.5,1025.6 1702,1025.6 1703.5,1025.6 1705,1025.6 1706.5,1025.6 1708,1025.6 1709.5,1025.6 1711,1025.6 1712.5,1025.6 1714,1025.6 1715.5,1025.6 1717,1025.6 1718.5,1025.6 1720,1025.6 1721.5,1025.6 1723,1025.6 1724.5,1025.6 1726,1025.6 1727.5,1025.6 1729,1025.6 1730.5,1025.6 1732,1025.6 1733.5,1025.6 1735,1025.6 1736.5,1025.6 1738,1025.6 1739.5,1025.6 1741,1025.6 1742.5,1025.6 1744,1025.6 1745.5,1025.6 1747,1025.6 1748.5,1025.6 1750,1025.6 1751.5,1025.6 1753,1025.6 1754.5,1025.6 1756,1025.6 1757.5,1025.6 1759,1025.6 1760.5,1025.6 1762,1025.6 1763.5,1025.6 1765,1025.6 1766.5,1025.6 1768,1025.6 1769.5,1025.6 1771,1025.6 1772.5,1025.6 1774,1025.6 1775.5,1025.6 1777,1025.6 1778.5,1025.6 1780,1025.6" fill="none" stroke="#2d58a8" stroke-width="4.2" stroke-linecap="round" stroke-linejoin="round"/>
<path d="M410.2,1025.6 410.2,1024.1 410.2,1022.6 410.3,1021.1 410.3,1019.6 410.3,1018.1 410.3,1016.6 410.4,1015.1 410.4,1013.6 410.4,1012.1 410.4,1010.6 410.5,1009.1 410.5,1007.6 410.5,1006.1 410.5,1004.6 410.6,1003.1 410.6,1001.6 410.6,1000.1 410.6,998.6 410.7,997.1 410.7,995.6 410.7,994.1 410.7,992.6 410.8,991.1 410.8,989.6 410.8,988.1 410.8,986.6 410.9,985.1 410.9,983.6 410.9,982.1 410.9,980.6 411,979.1 411,977.6 411,976.1 411,974.6 411.1,973.1 411.1,971.6 411.1,970.1 411.1,968.5 411.2,967 411.2,965.5 411.2,964 411.2,962.5 411.3,961 411.3,959.5 411.3,958 411.3,956.5 411.4,955 411.4,953.5 411.4,952 411.4,950.5 411.5,949 411.5,947.5 411.5,946 411.5,944.5 411.6,943 411.6,941.5 411.6,940 411.6,938.5 411.6,937 411.7,935.5 411.7,934 411.7,932.5 411.7,931 411.8,929.5 411.8,928 411.8,926.5 411.8,925 411.9,923.5 411.9,922 411.9,920.5 411.9,919 412,917.5 412,916 412,914.5 412,913 412.1,911.5 412.1,910 412.1,908.5 412.1,907 412.2,905.5 412.2,904 412.2,902.5 412.2,901 412.2,899.5 412.3,898 412.3,896.5 412.3,895 412.3,893.5 412.4,892 412.4,890.5 412.4,889 412.4,887.5 412.5,886 412.5,884.5 412.5,883 412.5,881.5 412.6,880 412.6,878.5 412.6,877 412.6,875.5 412.7,874 412.7,872.5 412.7,871 412.7,869.5 412.7,868 412.8,866.5 412.8,865 412.8,863.5 412.8,862 412.9,860.5 412.9,859 412.9,857.4 412.9,855.9 413,854.4 413,852.9 413,851.4 413,849.9 413.1,848.4 413.1,846.9 413.1,845.4 413.1,843.9 413.2,842.4 413.2,840.9 413.2,839.4 413.2,837.9 413.2,836.4 413.3,834.9 413.3,833.4 413.3,831.9 413.3,830.4 413.4,828.9 413.4,827.4 413.4,825.9 413.4,824.4 413.5,822.9 413.5,821.4 413.5,819.9 413.5,818.4 413.6,816.9 413.6,815.4 413.6,813.9 413.6,812.4 413.7,810.9 413.7,809.4 413.7,807.9 413.7,806.4 413.8,804.9 413.8,803.4 413.8,801.9 413.8,800.4 413.9,798.9 413.9,797.4 413.9,795.9 413.9,794.4 414,792.9 414,791.4 414,789.9 414.1,788.4 414.1,786.9 414.1,785.4 414.1,783.9 414.2,782.4 414.2,780.9 414.2,779.4 414.2,777.9 414.3,776.4 414.3,774.9 414.3,773.4 414.3,771.9 414.4,770.4 414.4,768.9 414.4,767.4 414.5,765.9 414.5,764.4 414.5,762.9 414.5,761.4 414.6,759.9 414.6,758.4 414.6,756.9 414.6,755.4 414.7,753.9 414.7,752.4 414.7,750.9 414.8,749.4 414.8,747.9 414.8,746.4 414.8,744.9 414.9,743.3 414.9,741.8 414.9,740.3 414.9,738.8 415,737.3 415,735.8 415,734.3 415.1,732.8 415.1,731.3 415.1,729.8 415.1,728.3 415.2,726.8 415.2,725.3 415.2,723.8 415.2,722.3 415.3,720.8 415.3,719.3 415.3,717.8 415.4,716.3 415.4,714.8 415.4,713.3 415.4,711.8 415.5,710.3 415.5,708.8 415.5,707.3 415.6,705.8 415.6,704.3 415.6,702.8 415.6,701.3 415.7,699.8 415.7,698.3 415.7,696.8 415.8,695.3 415.8,693.8 415.8,692.3 415.8,690.8 415.9,689.3 415.9,687.8 415.9,686.3 416,684.8 416,683.3 416,681.8 416.1,680.3 416.1,678.8 416.1,677.3 416.1,675.8 416.2,674.3 416.2,672.8 416.2,671.3 416.3,669.8 416.3,668.3 416.3,666.8 416.3,665.3 416.4,663.8 416.4,662.3 416.4,660.8 416.5,659.3 416.5,657.8 416.5,656.3 416.6,654.8 416.6,653.3 416.6,651.8 416.7,650.3 416.7,648.8 416.7,647.3 416.7,645.8 416.8,644.3 416.8,642.8 416.8,641.3 416.9,639.8 416.9,638.3 416.9,636.8 417,635.3 417,633.8 417,632.3 417,630.8 417.1,629.3 417.1,627.8 417.1,626.3 417.2,624.7 417.2,623.2 417.2,621.7 417.3,620.2 417.3,618.7 417.3,617.2 417.4,615.7 417.4,614.2 417.4,612.7 417.5,611.2 417.5,609.7 417.5,608.2 417.5,606.7 417.6,605.2 417.6,603.7 417.6,602.2 417.7,600.7 417.7,599.2 417.7,597.7 417.8,596.2 417.8,594.7 417.8,593.2 417.9,591.7 417.9,590.2 417.9,588.7 418,587.2 418,585.7 418,584.2 418.1,582.7 418.1,581.2 418.1,579.7 418.2,578.2 418.2,576.7 418.2,575.2 418.3,573.7 418.3,572.2 418.3,570.7 418.4,569.2 418.4,567.7 418.4,566.2 418.5,564.7 418.5,563.2 418.5,561.7 418.6,560.2 418.6,558.7 418.6,557.2 418.7,555.7 418.7,554.2 418.7,552.7 418.8,551.2 418.8,549.7 418.8,548.2 418.9,546.7 418.9,545.2 418.9,543.7 419,542.2 419,540.7 419,539.2 419.1,537.7 419.1,536.2 419.1,534.7 419.2,533.2 419.2,531.7 419.2,530.2 419.3,528.7 419.3,527.2 419.3,525.7 419.4,524.2 419.4,522.7 419.4,521.2 419.5,519.7 419.5,518.2 419.5,516.7 419.6,515.2 419.6,513.7 419.6,512.2 419.7,510.7 419.7,509.2 419.8,507.7 419.8,506.2 419.8,504.7 419.9,503.2 419.9,501.7 419.9,500.2 420,498.7 420,497.1 420,495.6 420.1,494.1 420.1,492.6 420.2,491.1 420.2,489.6 420.2,488.1 420.3,486.6 420.3,485.1 420.4,483.6 420.4,482.1 420.4,480.6 420.5,479.1 420.5,477.6 420.5,476.1 420.6,474.6 420.6,473.1 420.7,471.6 420.7,470.1 420.7,468.6 420.8,467.1 420.8,465.6 420.9,464.1 420.9,462.6 421,461.1 421,459.6 421,458.1 421.1,456.6 421.1,455.1 421.2,453.6 421.2,452.1 421.2,450.6 421.3,449.1 421.3,447.6 421.4,446.1 421.4,444.6 421.5,443.1 421.5,441.6 421.5,440.1 421.6,438.6 421.6,437.1 421.7,435.6 421.7,434.1 421.7,432.6 421.8,431.1 421.8,429.6 421.9,428.1 421.9,426.6 422,425.1 422,423.6 422,422.1 422.1,420.6 422.1,419.1 422.2,417.6 422.2,416.1 422.3,414.6 422.3,413.1 422.3,411.6 422.4,410.1 422.4,408.6 422.5,407.1 422.5,405.6 422.6,404.1 422.6,402.6 422.6,401.1 422.7,399.6 422.7,398.1 422.8,396.6 422.8,395.1 422.9,393.6 422.9,392.1 422.9,390.6 423,389.1 423,387.6 423.1,386.1 423.1,384.6 423.1,383.1 423.2,381.6 423.2,380.1 423.3,378.6 423.3,377.1 423.3,375.6 423.4,374.1 423.4,372.6 423.5,371.1 423.5,369.6 423.6,368.1 423.6,366.6 423.6,365.1 423.7,363.6 423.7,362.1 423.8,360.6 423.8,359.1 423.8,357.6 423.9,356.1 423.9,354.6 424,353.1 424,351.6 424,350.1 424.1,348.6 424.1,347.1 424.1,345.6 424.2,344 424.2,342.5 424.3,341 424.3,339.5 424.3,338 424.4,336.5 424.4,335 424.5,333.5 424.5,332 424.5,330.5 424.6,329 424.6,327.5 424.7,326 424.7,324.5 424.7,323 424.8,321.5 424.8,320 424.9,318.5 424.9,317 424.9,315.5 425,314 425,312.5 425,311 425.1,309.5 425.1,308 425.2,306.5 425.2,305 425.2,303.5 425.3,302 425.3,300.5 425.4,299 425.4,297.5 425.4,296 425.5,294.5 425.5,293 425.6,291.5 425.6,290 425.6,288.5 425.7,287 425.7,285.5 425.8,284 425.8,282.5 425.8,281 425.9,279.5 425.9,278 426,276.5 426,275 426,273.5 426.1,272 426.1,270.5 426.1,269 426.2,267.5 426.2,266 426.3,264.5 426.3,263 426.3,261.5 426.4,260 426.4,258.5 426.5,257 426.5,255.5 426.5,254 426.6,252.5 426.6,251 426.7,249.5 426.7,248 426.8,246.5 426.8,245 426.8,243.5 426.9,242 426.9,240.5 427,239 427,237.5 427,236 427.1,234.5 427.1,233 427.2,231.5 427.2,230 427.2,228.5 427.3,227 427.3,225.5 427.4,224 427.4,222.5 427.5,221 427.5,219.5 427.5,218 427.6,216.5 427.6,215 427.7,213.5 427.7,212 427.8,210.5 427.8,209 427.8,207.5 427.9,206 427.9,204.5 428,203 428,201.5 428.1,200 428.1,198.5 428.2,196.9 428.2,195.4 428.2,193.9 428.3,192.4 428.3,190.9 428.4,189.4 428.4,187.9 428.5,186.4 428.5,184.9 428.6,183.4 428.6,181.9 428.7,180.4 428.7,178.9 428.8,177.4 428.8,175.9 428.9,174.4 428.9,172.9 429,171.4 429,169.9 429.1,168.4 429.1,166.9 429.2,165.4 429.2,163.9 429.3,162.4 429.3,160.9 429.4,159.4 429.4,157.9 429.5,156.4 429.6,154.9 429.6,153.4 429.7,151.9 429.8,150.4 429.9,148.9 429.9,147.4 430,145.9 430.1,144.4 430.2,142.9 430.3,141.4 430.4,139.9 430.5,138.4 430.6,136.9 430.7,135.4 430.8,133.9 430.9,132.3 431.1,130.4 431.3,128.4 431.6,126.5 431.8,124.7 432,123.2 432.3,122.1 432.5,121.5 432.7,121.6 433,122.3 433.2,123.6 433.5,125.1 433.7,127 433.9,128.9 434.1,130.9 434.3,132.7 434.4,134.3 434.5,135.8 434.6,137.3 434.7,138.8 434.8,140.3 434.9,141.8 435,143.3 435.1,144.8 435.2,146.3 435.3,147.8 435.4,149.3 435.4,150.8 435.5,152.3 435.6,153.8 435.7,155.3 435.7,156.8 435.8,158.3 435.8,159.8 435.9,161.3 436,162.8 436,164.3 436.1,165.8 436.1,167.3 436.2,168.8 436.2,170.3 436.3,171.8 436.3,173.3 436.4,174.8 436.4,176.3 436.5,177.8 436.5,179.3 436.5,180.8 436.6,182.3 436.6,183.8 436.7,185.3 436.7,186.8 436.8,188.3 436.8,189.8 436.9,191.3 436.9,192.8 437,194.3 437,195.8 437.1,197.3 437.1,198.8 437.1,200.3 437.2,201.8 437.2,203.3 437.3,204.8 437.3,206.3 437.4,207.8 437.4,209.3 437.5,210.8 437.5,212.3 437.5,213.8 437.6,215.3 437.6,216.8 437.7,218.3 437.7,219.8 437.8,221.3 437.8,222.8 437.8,224.3 437.9,225.8 437.9,227.3 438,228.8 438,230.3 438.1,231.9 438.1,233.4 438.1,234.9 438.2,236.4 438.2,237.9 438.3,239.4 438.3,240.9 438.3,242.4 438.4,243.9 438.4,245.4 438.5,246.9 438.5,248.4 438.6,249.9 438.6,251.4 438.6,252.9 438.7,254.4 438.7,255.9 438.8,257.4 438.8,258.9 438.8,260.4 438.9,261.9 438.9,263.4 439,264.9 439,266.4 439.1,267.9 439.1,269.4 439.1,270.9 439.2,272.4 439.2,273.9 439.3,275.4 439.3,276.9 439.3,278.4 439.4,279.9 439.4,281.4 439.5,282.9 439.5,284.4 439.6,285.9 439.6,287.4 439.6,288.9 439.7,290.4 439.7,291.9 439.8,293.4 439.8,294.9 439.8,296.4 439.9,297.9 439.9,299.4 440,300.9 440,302.4 440,303.9 440.1,305.4 440.1,306.9 440.2,308.4 440.2,309.9 440.3,311.4 440.3,312.9 440.3,314.4 440.4,315.9 440.4,317.4 440.5,318.9 440.5,320.4 440.5,321.9 440.6,323.4 440.6,324.9 440.7,326.4 440.7,327.9 440.7,329.4 440.8,330.9 440.8,332.4 440.9,333.9 440.9,335.4 440.9,336.9 441,338.4 441,339.9 441.1,341.4 441.1,342.9 441.1,344.4 441.2,345.9 441.2,347.4 441.3,348.9 441.3,350.4 441.3,351.9 441.4,353.4 441.4,354.9 441.4,356.4 441.5,357.9 441.5,359.4 441.6,360.9 441.6,362.4 441.6,363.9 441.7,365.4 441.7,366.9 441.8,368.4 441.8,369.9 441.8,371.4 441.9,372.9 441.9,374.4 442,375.9 442,377.4 442,378.9 442.1,380.4 442.1,382 442.1,383.5 442.2,385 442.2,386.5 442.3,388 442.3,389.5 442.3,391 442.4,392.5 442.4,394 442.5,395.5 442.5,397 442.5,398.5 442.6,400 442.6,401.5 442.6,403 442.7,404.5 442.7,406 442.8,407.5 442.8,409 442.8,410.5 442.9,412 442.9,413.5 442.9,415 443,416.5 443,418 443.1,419.5 443.1,421 443.1,422.5 443.2,424 443.2,425.5 443.2,427 443.3,428.5 443.3,430 443.4,431.5 443.4,433 443.4,434.5 443.5,436 443.5,437.5 443.5,439 443.6,440.5 443.6,442 443.7,443.5 443.7,445 443.7,446.5 443.8,448 443.8,449.5 443.8,451 443.9,452.5 443.9,454 444,455.5 444,457 444,458.5 444.1,460 444.1,461.5 444.1,463 444.2,464.5 444.2,466 444.2,467.5 444.3,469 444.3,470.5 444.3,472 444.4,473.5 444.4,475 444.4,476.5 444.5,478 444.5,479.5 444.6,481 444.6,482.5 444.6,484 444.7,485.5 444.7,487 444.7,488.5 444.8,490 444.8,491.5 444.8,493 444.9,494.5 444.9,496 444.9,497.5 445,499 445,500.5 445,502 445.1,503.5 445.1,505 445.1,506.5 445.2,508 445.2,509.5 445.2,511 445.3,512.5 445.3,514 445.3,515.5 445.3,517.1 445.4,518.6 445.4,520.1 445.4,521.6 445.5,523.1 445.5,524.6 445.5,526.1 445.6,527.6 445.6,529.1 445.6,530.6 445.6,532.1 445.7,533.6 445.7,535.1 445.7,536.6 445.8,538.1 445.8,539.6 445.8,541.1 445.8,542.6 445.9,544.1 445.9,545.6 445.9,547.1 445.9,548.6 446,550.1 446,551.6 446,553.1 446,554.6 446.1,556.1 446.1,557.6 446.1,559.1 446.1,560.6 446.2,562.1 446.2,563.6 446.2,565.1 446.2,566.6 446.3,568.1 446.3,569.6 446.3,571.1 446.3,572.6 446.4,574.1 446.4,575.6 446.4,577.1 446.4,578.6 446.5,580.1 446.5,581.6 446.5,583.1 446.5,584.6 446.5,586.1 446.6,587.6 446.6,589.1 446.6,590.6 446.6,592.1 446.7,593.6 446.7,595.1 446.7,596.6 446.7,598.1 446.7,599.6 446.8,601.1 446.8,602.6 446.8,604.1 446.8,605.6 446.9,607.1 446.9,608.6 446.9,610.1 446.9,611.6 446.9,613.1 447,614.6 447,616.1 447,617.6 447,619.1 447,620.6 447.1,622.1 447.1,623.6 447.1,625.2 447.1,626.7 447.1,628.2 447.2,629.7 447.2,631.2 447.2,632.7 447.2,634.2 447.3,635.7 447.3,637.2 447.3,638.7 447.3,640.2 447.3,641.7 447.4,643.2 447.4,644.7 447.4,646.2 447.4,647.7 447.4,649.2 447.5,650.7 447.5,652.2 447.5,653.7 447.5,655.2 447.5,656.7 447.6,658.2 447.6,659.7 447.6,661.2 447.6,662.7 447.7,664.2 447.7,665.7 447.7,667.2 447.7,668.7 447.7,670.2 447.8,671.7 447.8,673.2 447.8,674.7 447.8,676.2 447.9,677.7 447.9,679.2 447.9,680.7 447.9,682.2 447.9,683.7 448,685.2 448,686.7 448,688.2 448,689.7 448.1,691.2 448.1,692.7 448.1,694.2 448.1,695.7 448.2,697.2 448.2,698.7 448.2,700.2 448.2,701.7 448.3,703.2 448.3,704.7 448.3,706.2 448.3,707.7 448.4,709.2 448.4,710.7 448.4,712.2 448.4,713.7 448.5,715.2 448.5,716.7 448.5,718.2 448.5,719.7 448.6,721.2 448.6,722.7 448.6,724.2 448.7,725.7 448.7,727.2 448.7,728.7 448.7,730.2 448.8,731.7 448.8,733.2 448.8,734.7 448.9,736.3 448.9,737.8 448.9,739.3 448.9,740.8 449,742.3 449,743.8 449,745.3 449.1,746.8 449.1,748.3 449.1,749.8 449.2,751.3 449.2,752.8 449.2,754.3 449.3,755.8 449.3,757.3 449.3,758.8 449.4,760.3 449.4,761.8 449.4,763.3 449.5,764.8 449.5,766.3 449.5,767.8 449.6,769.3 449.6,770.8 449.7,772.3 449.7,773.8 449.7,775.3 449.8,776.8 449.8,778.3 449.9,779.8 449.9,781.3 450,782.8 450,784.3 450.1,785.8 450.1,787.3 450.2,788.8 450.2,790.3 450.3,791.8 450.3,793.3 450.4,794.8 450.4,796.3 450.5,797.8 450.5,799.3 450.6,800.8 450.7,802.3 450.7,803.8 450.8,805.3 450.8,806.8 450.9,808.3 451,809.8 451,811.3 451.1,812.8 451.1,814.3 451.2,815.8 451.3,817.3 451.3,818.8 451.4,820.3 451.5,821.8 451.5,823.3 451.6,824.8 451.6,826.3 451.7,827.8 451.8,829.3 451.8,830.8 451.9,832.3 451.9,833.8 452,835.3 452.1,836.8 452.1,838.3 452.2,839.8 452.3,841.3 452.3,842.8 452.4,844.3 452.4,845.8 452.5,847.3 452.5,848.8 452.6,850.3 452.7,851.8 452.7,853.3 452.8,854.8 452.9,856.3 452.9,857.8 453,859.3 453,860.8 453.1,862.3 453.2,863.8 453.2,865.3 453.3,866.8 453.4,868.3 453.4,869.8 453.5,871.3 453.6,872.8 453.6,874.3 453.7,875.8 453.8,877.3 453.9,878.8 453.9,880.3 454,881.8 454.1,883.3 454.2,884.8 454.2,886.3 454.3,887.8 454.4,889.3 454.5,890.8 454.6,892.3 454.7,893.8 454.8,895.3 455,896.8 455.2,898.3 455.4,899.8 455.6,901.3 455.8,902.7 456.1,904.2 456.4,905.7 456.6,907.2 456.9,908.7 457.2,910.1 457.6,911.9 458.1,913.7 458.6,915.3 459.2,916.2 459.7,915.9 460.3,914.7 460.8,913 461.3,911.1 461.7,909.5 462.1,908.1 462.4,906.6 462.7,905.1 463.1,903.7 463.3,902.2 463.6,900.7 463.9,899.2 464.1,897.7 464.4,896.3 464.6,894.8 464.8,893.3 464.9,891.8 465.1,890.3 465.2,888.8 465.3,887.3 465.5,885.8 465.6,884.3 465.7,882.8 465.8,881.3 466,879.9 466.1,878.4 466.2,876.9 466.3,875.4 466.4,873.9 466.5,872.4 466.7,870.9 466.8,869.4 466.9,867.9 467,866.4 467.1,864.9 467.2,863.4 467.3,861.9 467.4,860.4 467.5,858.9 467.6,857.4 467.7,855.9 467.8,854.4 467.9,852.9 467.9,851.4 468,849.9 468.1,848.4 468.2,846.9 468.3,845.4 468.4,843.9 468.5,842.4 468.6,840.9 468.6,839.4 468.7,837.9 468.8,836.4 468.9,834.9 469,833.4 469.1,831.9 469.1,830.4 469.2,828.9 469.3,827.4 469.4,825.9 469.5,824.4 469.6,822.9 469.6,821.4 469.7,819.9 469.8,818.4 469.9,816.9 470,815.4 470,813.9 470.1,812.4 470.2,810.9 470.3,809.4 470.4,807.9 470.5,806.4 470.6,804.9 470.6,803.4 470.7,801.9 470.8,800.4 470.9,798.9 471,797.4 471.1,795.9 471.2,794.4 471.3,792.9 471.4,791.4 471.5,789.9 471.6,788.4 471.7,786.9 471.8,785.4 471.9,783.9 472,782.4 472.1,780.9 472.2,779.4 472.3,777.9 472.4,776.4 472.5,774.9 472.6,773.4 472.7,771.9 472.9,770.4 473,768.9 473.1,767.4 473.2,765.9 473.3,764.5 473.5,763 473.6,761.5 473.7,760 473.9,758.5 474,757 474.1,755.5 474.3,754 474.4,752.5 474.5,751 474.7,749.5 474.8,748 475,746.5 475.1,745 475.2,743.5 475.4,742 475.5,740.5 475.7,739 475.8,737.5 476,736 476.1,734.6 476.3,733.1 476.4,731.6 476.6,730.1 476.7,728.6 476.9,727.1 477,725.6 477.2,724.1 477.3,722.6 477.5,721.1 477.7,719.6 477.8,718.1 478,716.6 478.1,715.1 478.3,713.6 478.4,712.1 478.6,710.6 478.8,709.2 478.9,707.7 479.1,706.2 479.2,704.7 479.4,703.2 479.6,701.7 479.7,700.2 479.9,698.7 480,697.2 480.2,695.7 480.4,694.2 480.5,692.7 480.7,691.2 480.8,689.7 481,688.3 481.1,686.8 481.3,685.3 481.5,683.8 481.6,682.3 481.8,680.8 482,679.3 482.1,677.8 482.3,676.3 482.4,674.8 482.6,673.3 482.8,671.8 483,670.3 483.1,668.8 483.3,667.4 483.5,665.9 483.6,664.4 483.8,662.9 484,661.4 484.2,659.9 484.3,658.4 484.5,656.9 484.7,655.4 484.9,653.9 485,652.4 485.2,650.9 485.4,649.5 485.6,648 485.7,646.5 485.9,645 486.1,643.5 486.3,642 486.5,640.5 486.6,639 486.8,637.5 487,636 487.2,634.6 487.4,633.1 487.5,631.6 487.7,630.1 487.9,628.6 488.1,627.1 488.3,625.6 488.5,624.1 488.7,622.6 488.9,621.1 489.1,619.7 489.3,618.2 489.5,616.7 489.7,615.2 489.9,613.7 490.1,612.2 490.3,610.7 490.5,609.2 490.7,607.8 490.9,606.3 491.1,604.8 491.3,603.3 491.5,601.8 491.8,600.3 492,598.8 492.2,597.3 492.5,595.8 492.8,594.4 493,592.9 493.3,591.5 493.7,590 494.2,588.6 494.9,587.2 495.6,585.9 496.6,584.5 497.7,583.7 498.9,584.3 499.9,585.7 500.7,587 501.3,588.4 501.9,589.8 502.3,591.2 502.6,592.7 502.8,594.1 503.1,595.6 503.3,597.1 503.5,598.6 503.7,600.1 503.9,601.6 504,603.1 504.2,604.6 504.4,606.1 504.5,607.6 504.6,609.1 504.8,610.6 504.9,612.1 505.1,613.6 505.2,615 505.4,616.5 505.5,618 505.6,619.5 505.8,621 505.9,622.5 506,624 506.2,625.5 506.3,627 506.4,628.5 506.6,630 506.7,631.5 506.8,633 506.9,634.5 507,636 507.1,637.5 507.2,639 507.3,640.5 507.4,642 507.5,643.5 507.6,645 507.6,646.5 507.7,648 507.8,649.5 507.9,651 508,652.5 508,654 508.1,655.5 508.2,657 508.3,658.5 508.4,660 508.5,661.5 508.5,663 508.6,664.5 508.7,666 508.8,667.5 508.9,669 509.1,670.5 509.2,672 509.3,673.5 509.4,675 509.6,676.5 509.7,678 509.8,679.5 510,680.9 510.1,682.4 510.2,683.9 510.3,685.4 510.5,686.9 510.6,688.4 510.7,689.9 510.8,691.4 510.9,692.9 511,694.4 511,695.9 511.1,697.4 511.2,698.9 511.3,700.4 511.3,701.9 511.4,703.4 511.5,704.9 511.5,706.4 511.6,707.9 511.7,709.4 511.7,710.9 511.8,712.4 511.8,713.9 511.9,715.4 511.9,716.9 512,718.4 512,719.9 512.1,721.4 512.1,722.9 512.2,724.4 512.2,725.9 512.3,727.4 512.3,728.9 512.4,730.4 512.4,731.9 512.5,733.4 512.5,734.9 512.6,736.4 512.6,737.9 512.6,739.4 512.7,740.9 512.7,742.4 512.8,743.9 512.8,745.4 512.9,746.9 512.9,748.4 512.9,749.9 513,751.4 513,752.9 513.1,754.4 513.1,755.9 513.2,757.4 513.2,758.9 513.3,760.4 513.3,761.9 513.4,763.4 513.4,764.9 513.5,766.5 513.5,768 513.6,769.5 513.6,771 513.7,772.5 513.8,774 513.8,775.5 513.9,777 513.9,778.5 514,780 514.1,781.5 514.1,783 514.2,784.5 514.3,786 514.3,787.5 514.4,789 514.5,790.5 514.5,792 514.6,793.5 514.7,795 514.7,796.5 514.8,798 514.9,799.5 515,801 515,802.5 515.1,804 515.2,805.5 515.2,807 515.3,808.5 515.4,810 515.5,811.5 515.5,813 515.6,814.5 515.7,816 515.8,817.5 515.8,819 515.9,820.5 516,822 516.1,823.5 516.1,825 516.2,826.5 516.3,828 516.3,829.5 516.4,831 516.5,832.5 516.6,834 516.6,835.4 516.7,836.9 516.8,838.4 516.9,839.9 516.9,841.4 517,842.9 517.1,844.4 517.1,845.9 517.2,847.4 517.3,848.9 517.4,850.4 517.4,851.9 517.5,853.4 517.6,854.9 517.6,856.4 517.7,857.9 517.8,859.4 517.8,860.9 517.9,862.4 518,863.9 518,865.4 518.1,866.9 518.2,868.4 518.2,870 518.3,871.5 518.3,873 518.4,874.5 518.4,876 518.5,877.5 518.5,879 518.6,880.5 518.7,882 518.7,883.5 518.8,885 518.8,886.5 518.9,888 519,889.5 519,891 519.1,892.5 519.2,894 519.2,895.5 519.3,897 519.4,898.5 519.5,900 519.5,901.5 519.6,903 519.7,904.4 519.8,905.9 519.9,907.4 520,908.9 520.1,910.4 520.3,911.9 520.4,913.4 520.5,914.9 520.6,916.4 520.7,917.9 520.9,919.4 521,920.9 521.1,922.4 521.2,923.9 521.3,925.4 521.5,926.9 521.6,928.4 521.7,929.9 521.8,931.4 521.9,932.9 522,934.4 522.2,936 522.3,937.5 522.4,939 522.5,940.5 522.7,942 522.8,943.5 523,945 523.2,946.4 523.5,947.8 523.9,949.2 524.6,950.5 525.4,951.9 526.3,953.2 527.2,954.4 528.2,955.6 529.1,956.8 530,957.9 531.1,959 532.2,960 533.4,961 534.7,961.8 536,962.5 537.4,963.2 538.9,963.8 540.4,964.2 541.9,964.3 543.2,964.2 544.6,963.6 545.9,962.8 547.1,961.8 548.2,960.8 549.3,959.7 550.3,958.5 551.2,957.3 552.1,956.1 552.8,954.8 553.4,953.4 553.9,952.1 554.4,950.7 554.9,949.3 555.4,947.8 555.8,946.4 556.3,944.9 556.8,943.5 557.3,942 557.8,940.6 558.3,939.2 558.9,937.8 559.5,936.4 560.1,935 560.7,933.7 561.2,932.3 561.8,930.9 562.4,929.5 563,928.1 563.5,926.5" fill="none" stroke="#3daa5c" stroke-width="4.2" stroke-linecap="round" stroke-linejoin="round" stroke-dasharray="16 17.15" stroke-dashoffset="25.7"/>
<path d="M566.4,918 567.3,918.3 568.6,919.4 569.8,920.7 570.6,922 571.4,923.2 572.2,924.6 572.9,925.9 573.5,927.3 574.1,928.7 574.7,930 575.3,931.4 575.9,932.8 576.4,934.2 576.9,935.6 577.5,937 578,938.4 578.5,939.8 579,941.2 579.5,942.7 580,944.1 580.5,945.5 581,946.9 581.5,948.4 581.9,949.8 582.4,951.2 582.8,952.6 583.3,954.1 583.7,955.5 584.1,957 584.6,958.4 585,959.8 585.5,961.3 585.9,962.7 586.4,964.1 586.8,965.6 587.3,967 587.8,968.4 588.3,969.8 588.8,971.2 589.2,972.7 589.7,974.1 590.2,975.5 590.7,976.9 591.2,978.4 591.7,979.8 592.1,981.2 592.6,982.6 593.1,984.1 593.5,985.5 594,986.9 594.4,988.4 594.9,989.8 595.4,991.2 595.9,992.6 596.4,994 596.9,995.4 597.5,996.8 598,998.2 598.6,999.6 599.2,1001 599.8,1002.4 600.4,1003.7 601.1,1005.1 601.7,1006.4 602.4,1007.8 603.1,1009.2 603.8,1010.5 604.5,1011.9 605.3,1013.2 606,1014.5 606.8,1015.8 607.6,1017.1 608.4,1018.3 609.2,1019.5 610.1,1020.7 611.1,1021.8 612.1,1023 613.2,1024.1 614.4,1025 615.7,1025.8 616.9,1026.5 618.3,1027.1 619.8,1027.7 621.3,1028.2 622.8,1028.5 624.2,1028.5 625.7,1028.4 627.2,1028.2 628.7,1027.9 630.1,1027.6 631.6,1027.3 633.1,1027 634.6,1026.6 636,1026.2 637.5,1025.9 639,1025.7 640.5,1025.6 642,1025.6 643.5,1025.6 645,1025.6 646.5,1025.6 648,1025.6 649.5,1025.6 651,1025.6 652.5,1025.6 654,1025.6 655.5,1025.6 657,1025.6 658.5,1025.6 660,1025.6" fill="none" stroke="#3daa5c" stroke-width="4.2" stroke-linecap="round" stroke-linejoin="round" stroke-dasharray="16 17.15" stroke-dashoffset="14.5"/>
<path d="M660,1025.6 661.5,1025.6 663.1,1025.6 664.6,1025.6 666.1,1025.6 667.6,1025.6 669.2,1025.6 670.7,1025.6 672.2,1025.6 673.8,1025.6 675.3,1025.6 676.8,1025.6 678.4,1025.6 679.9,1025.6 681.4,1025.6 683,1025.6 684.5,1025.6 686,1025.5 687.4,1025.2 688.8,1024.7 690.2,1024.1 691.6,1023.3 693,1022.5 694.4,1021.7 695.7,1021 697.1,1020.3 698.5,1019.7 699.9,1019.1 701.3,1018.4 702.8,1017.8 704.2,1017.1 705.5,1016.5 706.9,1015.8 708.2,1015.1 709.5,1014.3 710.8,1013.5 712,1012.6 713.2,1011.7 714.4,1010.8 715.6,1009.8 716.7,1008.7 717.9,1007.7 719,1006.7 720.2,1005.7 721.4,1004.7 722.6,1003.7 723.8,1002.7 725,1001.6 726.3,1000.5 727.5,999.6 728.8,998.8 730.1,998.5 731.5,998.6 732.9,999.2 734.3,1000 735.7,1000.9 737.1,1001.7 738.3,1002.6 739.6,1003.5 740.8,1004.4 742,1005.3 743.2,1006.3 744.4,1007.3 745.6,1008.2 746.8,1009.2 748,1010.2 749.2,1011.1 750.4,1012 751.6,1012.9 752.9,1013.8 754.2,1014.6 755.5,1015.4 756.8,1016.2 758.2,1017 759.5,1017.7 760.9,1018.4 762.3,1019 763.7,1019.5 765.2,1019.9 766.6,1020.2 768.1,1020.6 769.6,1020.9 771.1,1021.2 772.6,1021.5 774.1,1021.8 775.7,1022.1 777.2,1022.3 778.7,1022.6 780.2,1022.9 781.7,1023.1 783.2,1023.4 784.7,1023.7 786.2,1023.9 787.7,1024.2 789.2,1024.4 790.7,1024.7 792.3,1024.9 793.8,1025.2 795.3,1025.4 796.8,1025.6" fill="none" stroke="#3daa5c" stroke-width="4.2" stroke-linecap="round" stroke-linejoin="round" stroke-dasharray="16 17.15" stroke-dashoffset="11.6"/>
<path d="M796.8,1025.6 798.2,1025 799.5,1024.4 800.9,1023.7 802.2,1023 803.6,1022.4 805,1021.7 806.3,1021 807.7,1020.3 809,1019.6 810.3,1018.9 811.6,1018.1 812.9,1017.4 814.1,1016.5 815.3,1015.6 816.5,1014.7 817.7,1013.8 818.8,1012.8 819.9,1011.7 821,1010.6 822.1,1009.6 823.1,1008.4 824.1,1007.3 825,1006.2 825.8,1005 826.6,1003.7 827.4,1002.4 828.1,1001.1 828.8,999.8 829.5,998.4 830.2,997.1 830.9,995.7 831.7,994.4 832.4,993.1 833.2,991.8 834,990.5 834.8,989.2 835.6,987.9 836.5,986.6 837.4,985.4 838.3,984.2 839.3,983.1 840.4,982.2 841.7,981.3 843.1,980.5 844.6,980 846,979.8 847.4,980 848.8,980.6 850.2,981.5 851.4,982.4 852.4,983.5 853.3,984.7 854,986 854.7,987.3 855.4,988.7 856.1,990.1 857,991.3 857.8,992.6 858.7,993.8 859.6,995 860.5,996.2 861.4,997.5 862.3,998.6 863.2,999.8 864.2,1001 865.1,1002.2 866.1,1003.3 867.1,1004.4 868.1,1005.5 869.1,1006.6 870.2,1007.7 871.2,1008.8 872.3,1009.8 873.4,1010.9 874.5,1011.9 875.6,1013 876.6,1014 877.7,1015 878.8,1016.1 879.9,1017.2 880.9,1018.3 882,1019.3 883.1,1020.4 884.1,1021.4 885.3,1022.4 886.4,1023.3 887.7,1024.3 888.9,1025.2 890.2,1026 891.6,1026.7 893,1027.1 894.4,1027.4 895.9,1027.6 897.4,1027.7 898.9,1027.7 900.4,1027.6 902,1027.5 903.5,1027.4 904.9,1027.2 906.4,1026.9 907.9,1026.5 909.3,1026.1 910.8,1025.7 912.3,1025.6 913.8,1025.6 915.3,1025.6 916.8,1025.6 918.3,1025.6 919.8,1025.6 921.3,1025.6 922.8,1025.6 924.3,1025.6 925.8,1025.6 927.3,1025.6 928.8,1025.6 930.3,1025.6 931.8,1025.6 933.3,1025.6 934.8,1025.6 936.3,1025.6 937.9,1025.6 939.4,1025.6 940.9,1025.6 942.4,1025.6 943.9,1025.6 945.4,1025.6 946.9,1025.6 948.4,1025.6 949.9,1025.6 951.4,1025.6 952.9,1025.6 954.4,1025.6 955.9,1025.6 957.4,1025.6 958.9,1025.6 960.4,1025.6 961.9,1025.6 963.4,1025.6 964.9,1025.6 966.4,1025.6 967.9,1025.6 969.4,1025.6 970.9,1025.6 972.4,1025.6 973.9,1025.6 975.4,1025.6 977,1025.6 978.5,1025.6 980,1025.6 981.5,1025.6 983,1025.6 984.5,1025.6 986,1025.6 987.5,1025.6 989,1025.6 990.5,1025.6 992,1025.6 993.5,1025.6 995,1025.6 996.5,1025.6 998,1025.6 999.5,1025.6 1001,1025.6 1002.5,1025.6 1004,1025.6 1005.5,1025.6 1007,1025.6 1008.5,1025.6 1010,1025.6 1011.5,1025.6 1013,1025.6 1014.5,1025.6 1016.1,1025.6 1017.6,1025.6 1019.1,1025.6 1020.6,1025.6 1022.1,1025.6 1023.6,1025.6 1025.1,1025.6 1026.6,1025.6 1028.1,1025.6 1029.6,1025.6 1031.1,1025.6 1032.6,1025.6 1034.1,1025.6 1035.6,1025.6 1037.1,1025.6 1038.6,1025.6 1040.1,1025.6 1041.6,1025.6 1043.1,1025.6 1044.6,1025.6 1046.1,1025.6 1047.6,1025.6 1049.1,1025.6 1050.6,1025.6 1052.1,1025.6 1053.6,1025.6 1055.2,1025.6 1056.7,1025.6 1058.2,1025.6 1059.7,1025.6 1061.2,1025.6 1062.7,1025.6 1064.2,1025.6 1065.7,1025.6 1067.2,1025.6 1068.7,1025.6 1070.2,1025.6 1071.7,1025.6 1073.2,1025.6 1074.7,1025.6 1076.2,1025.6 1077.7,1025.6 1079.2,1025.6 1080.7,1025.6 1082.2,1025.6 1083.7,1025.6 1085.2,1025.6 1086.7,1025.6 1088.2,1025.6 1089.7,1025.6 1091.2,1025.6 1092.7,1025.6 1094.3,1025.6 1095.8,1025.6 1097.3,1025.6 1098.8,1025.6 1100.3,1025.6 1101.8,1025.6 1103.3,1025.6 1104.8,1025.6 1106.3,1025.6 1107.8,1025.6 1109.3,1025.6 1110.8,1025.6 1112.3,1025.6 1113.8,1025.6 1115.3,1025.6 1116.8,1025.6 1118.3,1025.6 1119.8,1025.6 1121.3,1025.6 1122.8,1025.6 1124.3,1025.6 1125.8,1025.6 1127.3,1025.6 1128.8,1025.6 1130.3,1025.6 1131.8,1025.6 1133.3,1025.6 1134.9,1025.6 1136.4,1025.6 1137.9,1025.6 1139.4,1025.6 1140.9,1025.6 1142.4,1025.6 1143.9,1025.6 1145.4,1025.6 1146.9,1025.6 1148.4,1025.6 1149.9,1025.6 1151.4,1025.6 1152.9,1025.6 1154.4,1025.6 1155.9,1025.6 1157.4,1025.6 1158.9,1025.6 1160.4,1025.6 1161.9,1025.6 1163.4,1025.6 1164.9,1025.6 1166.4,1025.6 1167.9,1025.6 1169.4,1025.6 1170.9,1025.6 1172.4,1025.6 1174,1025.6 1175.5,1025.6 1177,1025.6 1178.5,1025.6 1180,1025.6 1181.5,1025.6 1183,1025.6 1184.5,1025.6 1186,1025.6 1187.5,1025.6 1189,1025.6 1190.5,1025.6 1192,1025.6 1193.5,1025.6 1195,1025.6 1196.5,1025.6 1198,1025.6 1199.5,1025.6 1201,1025.6 1202.5,1025.6 1204,1025.6 1205.5,1025.6 1207,1025.6 1208.5,1025.6 1210,1025.6 1211.5,1025.6 1213.1,1025.6 1214.6,1025.6 1216.1,1025.6 1217.6,1025.6 1219.1,1025.6 1220.6,1025.6 1222.1,1025.6 1223.6,1025.6 1225.1,1025.6 1226.6,1025.6 1228.1,1025.6 1229.6,1025.6 1231.1,1025.6 1232.6,1025.6 1234.1,1025.6 1235.6,1025.6 1237.1,1025.6 1238.6,1025.6 1240.1,1025.6 1241.6,1025.6 1243.1,1025.6 1244.6,1025.6 1246.1,1025.6 1247.6,1025.6 1249.1,1025.6 1250.6,1025.6 1252.2,1025.6 1253.7,1025.6 1255.2,1025.6 1256.7,1025.6 1258.2,1025.6 1259.7,1025.6 1261.2,1025.6 1262.7,1025.6 1264.2,1025.6 1265.7,1025.6 1267.2,1025.6 1268.7,1025.6 1270.2,1025.6 1271.7,1025.6 1273.2,1025.6 1274.7,1025.6 1276.2,1025.6 1277.7,1025.6 1279.2,1025.6 1280.7,1025.6 1282.2,1025.6 1283.7,1025.6 1285.2,1025.6 1286.7,1025.6 1288.2,1025.6 1289.7,1025.6 1291.3,1025.6 1292.8,1025.6 1294.3,1025.6 1295.8,1025.6 1297.3,1025.6 1298.8,1025.6 1300.3,1025.6 1301.8,1025.6 1303.3,1025.6 1304.8,1025.6 1306.3,1025.6 1307.8,1025.6 1309.3,1025.6 1310.8,1025.6 1312.3,1025.6 1313.8,1025.6 1315.3,1025.6 1316.8,1025.6 1318.3,1025.6 1319.8,1025.6 1321.3,1025.6 1322.8,1025.6 1324.3,1025.6 1325.8,1025.6 1327.3,1025.6 1328.8,1025.6 1330.4,1025.6 1331.9,1025.6 1333.4,1025.6 1334.9,1025.6 1336.4,1025.6 1337.9,1025.6 1339.4,1025.6 1340.9,1025.6 1342.4,1025.6 1343.9,1025.6 1345.4,1025.6 1346.9,1025.6 1348.4,1025.6 1349.9,1025.6 1351.4,1025.6 1352.9,1025.6 1354.4,1025.6 1355.9,1025.6 1357.4,1025.6 1358.9,1025.6 1360.4,1025.6 1361.9,1025.6 1363.4,1025.6 1364.9,1025.6 1366.4,1025.6 1367.9,1025.6 1369.5,1025.6 1371,1025.6 1372.5,1025.6 1374,1025.6 1375.5,1025.6 1377,1025.6 1378.5,1025.6 1380,1025.6 1381.5,1025.6 1383,1025.6 1384.5,1025.6 1386,1025.6 1387.5,1025.6 1389,1025.6 1390.5,1025.6 1392,1025.6 1393.5,1025.6 1395,1025.6 1396.5,1025.6 1398,1025.6 1399.5,1025.6 1401,1025.6 1402.5,1025.6 1404,1025.6 1405.5,1025.6 1407,1025.6 1408.6,1025.6 1410.1,1025.6 1411.6,1025.6 1413.1,1025.6 1414.6,1025.6 1416.1,1025.6 1417.6,1025.6 1419.1,1025.6 1420.6,1025.6 1422.1,1025.6 1423.6,1025.6 1425.1,1025.6 1426.6,1025.6 1428.1,1025.6 1429.6,1025.6 1431.1,1025.6 1432.6,1025.6 1434.1,1025.6 1435.6,1025.6 1437.1,1025.6 1438.6,1025.6 1440.1,1025.6 1441.6,1025.6 1443.1,1025.6 1444.6,1025.6 1446.1,1025.6 1447.7,1025.6 1449.2,1025.6 1450.7,1025.6 1452.2,1025.6 1453.7,1025.6 1455.2,1025.6 1456.7,1025.6 1458.2,1025.6 1459.7,1025.6 1461.2,1025.6 1462.7,1025.6 1464.2,1025.6 1465.7,1025.6 1467.2,1025.6 1468.7,1025.6 1470.2,1025.6 1471.7,1025.6 1473.2,1025.6 1474.7,1025.6 1476.2,1025.6 1477.7,1025.6 1479.2,1025.6 1480.7,1025.6 1482.2,1025.6 1483.7,1025.6 1485.2,1025.6 1486.8,1025.6 1488.3,1025.6 1489.8,1025.6 1491.3,1025.6 1492.8,1025.6 1494.3,1025.6 1495.8,1025.6 1497.3,1025.6 1498.8,1025.6 1500.3,1025.6 1501.8,1025.6 1503.3,1025.6 1504.8,1025.6 1506.3,1025.6 1507.8,1025.6 1509.3,1025.6 1510.8,1025.6 1512.3,1025.6 1513.8,1025.6 1515.3,1025.6 1516.8,1025.6 1518.3,1025.6 1519.8,1025.6 1521.3,1025.6 1522.8,1025.6 1524.3,1025.6 1525.9,1025.6 1527.4,1025.6 1528.9,1025.6 1530.4,1025.6 1531.9,1025.6 1533.4,1025.6 1534.9,1025.6 1536.4,1025.6 1537.9,1025.6 1539.4,1025.6 1540.9,1025.6 1542.4,1025.6 1543.9,1025.6 1545.4,1025.6 1546.9,1025.6 1548.4,1025.6 1549.9,1025.6 1551.4,1025.6 1552.9,1025.6 1554.4,1025.6 1555.9,1025.6 1557.4,1025.6 1558.9,1025.6 1560.4,1025.6 1561.9,1025.6 1563.4,1025.6 1565,1025.6 1566.5,1025.6 1568,1025.6 1569.5,1025.6 1571,1025.6 1572.5,1025.6 1574,1025.6 1575.5,1025.6 1577,1025.6 1578.5,1025.6 1580,1025.6 1581.5,1025.6 1583,1025.6 1584.5,1025.6 1586,1025.6 1587.5,1025.6 1589,1025.6 1590.5,1025.6 1592,1025.6 1593.5,1025.6 1595,1025.6 1596.5,1025.6 1598,1025.6 1599.5,1025.6 1601,1025.6 1602.5,1025.6 1604.1,1025.6 1605.6,1025.6 1607.1,1025.6 1608.6,1025.6 1610.1,1025.6 1611.6,1025.6 1613.1,1025.6 1614.6,1025.6 1616.1,1025.6 1617.6,1025.6 1619.1,1025.6 1620.6,1025.6 1622.1,1025.6 1623.6,1025.6 1625.1,1025.6 1626.6,1025.6 1628.1,1025.6 1629.6,1025.6 1631.1,1025.6 1632.6,1025.6 1634.1,1025.6 1635.6,1025.6 1637.1,1025.6 1638.6,1025.6 1640.1,1025.6 1641.6,1025.6 1643.2,1025.6 1644.7,1025.6 1646.2,1025.6 1647.7,1025.6 1649.2,1025.6 1650.7,1025.6 1652.2,1025.6 1653.7,1025.6 1655.2,1025.6 1656.7,1025.6 1658.2,1025.6 1659.7,1025.6 1661.2,1025.6 1662.7,1025.6 1664.2,1025.6 1665.7,1025.6 1667.2,1025.6 1668.7,1025.6 1670.2,1025.6 1671.7,1025.6 1673.2,1025.6 1674.7,1025.6 1676.2,1025.6 1677.7,1025.6 1679.2,1025.6 1680.7,1025.6 1682.3,1025.6 1683.8,1025.6 1685.3,1025.6 1686.8,1025.6 1688.3,1025.6 1689.8,1025.6 1691.3,1025.6 1692.8,1025.6 1694.3,1025.6 1695.8,1025.6 1697.3,1025.6 1698.8,1025.6 1700.3,1025.6 1701.8,1025.6 1703.3,1025.6 1704.8,1025.6 1706.3,1025.6 1707.8,1025.6 1709.3,1025.6 1710.8,1025.6 1712.3,1025.6 1713.8,1025.6 1715.3,1025.6 1716.8,1025.6 1718.3,1025.6 1719.8,1025.6 1721.4,1025.6 1722.9,1025.6 1724.4,1025.6 1725.9,1025.6 1727.4,1025.6 1728.9,1025.6 1730.4,1025.6 1731.9,1025.6 1733.4,1025.6 1734.9,1025.6 1736.4,1025.6 1737.9,1025.6 1739.4,1025.6 1740.9,1025.6 1742.4,1025.6 1743.9,1025.6 1745.4,1025.6 1746.9,1025.6 1748.4,1025.6 1749.9,1025.6 1751.4,1025.6 1752.9,1025.6 1754.4,1025.6 1755.9,1025.6 1757.4,1025.6 1758.9,1025.6 1760.5,1025.6 1762,1025.6 1763.5,1025.6 1765,1025.6 1766.5,1025.6 1768,1025.6 1769.5,1025.6 1771,1025.6 1772.5,1025.6 1774,1025.6 1775.5,1025.6 1777,1025.6 1778.5,1025.6 1780,1025.6" fill="none" stroke="#3daa5c" stroke-width="4.2" stroke-linecap="round" stroke-linejoin="round" stroke-dasharray="16 17.15" stroke-dashoffset="29.4"/>
<path d="M410.2,1025.6 410.2,1024.1 410.2,1022.6 410.3,1021.1 410.3,1019.6 410.3,1018.1 410.3,1016.6 410.4,1015.1 410.4,1013.6 410.4,1012.1 410.4,1010.6 410.5,1009.1 410.5,1007.6 410.5,1006.1 410.5,1004.6 410.6,1003.1 410.6,1001.6 410.6,1000.1 410.6,998.6 410.7,997.1 410.7,995.6 410.7,994.1 410.7,992.6 410.8,991.1 410.8,989.6 410.8,988.1 410.8,986.6 410.9,985.1 410.9,983.6 410.9,982.1 410.9,980.6 411,979.1 411,977.6 411,976.1 411,974.5 411.1,973 411.1,971.5 411.1,970 411.1,968.5 411.2,967 411.2,965.5 411.2,964 411.2,962.5 411.3,961 411.3,959.5 411.3,958 411.3,956.5 411.4,955 411.4,953.5 411.4,952 411.4,950.5 411.5,949 411.5,947.5 411.5,946 411.5,944.5 411.6,943 411.6,941.5 411.6,940 411.6,938.5 411.6,937 411.7,935.5 411.7,934 411.7,932.5 411.7,931 411.8,929.5 411.8,928 411.8,926.5 411.8,925 411.9,923.5 411.9,922 411.9,920.5 411.9,919 412,917.5 412,916 412,914.5 412,913 412.1,911.5 412.1,910 412.1,908.5 412.1,907 412.2,905.5 412.2,904 412.2,902.5 412.2,901 412.2,899.5 412.3,898 412.3,896.5 412.3,895 412.3,893.5 412.4,892 412.4,890.5 412.4,889 412.4,887.5 412.5,886 412.5,884.5 412.5,883 412.5,881.5 412.6,880 412.6,878.5 412.6,877 412.6,875.4 412.7,873.9 412.7,872.4 412.7,870.9 412.7,869.4 412.7,867.9 412.8,866.4 412.8,864.9 412.8,863.4 412.8,861.9 412.9,860.4 412.9,858.9 412.9,857.4 412.9,855.9 413,854.4 413,852.9 413,851.4 413,849.9 413.1,848.4 413.1,846.9 413.1,845.4 413.1,843.9 413.2,842.4 413.2,840.9 413.2,839.4 413.2,837.9 413.3,836.4 413.3,834.9 413.3,833.4 413.3,831.9 413.3,830.4 413.4,828.9 413.4,827.4 413.4,825.9 413.4,824.4 413.5,822.9 413.5,821.4 413.5,819.9 413.5,818.4 413.6,816.9 413.6,815.4 413.6,813.9 413.6,812.4 413.7,810.9 413.7,809.4 413.7,807.9 413.7,806.4 413.8,804.9 413.8,803.4 413.8,801.9 413.8,800.4 413.9,798.9 413.9,797.4 413.9,795.9 413.9,794.4 414,792.9 414,791.4 414,789.9 414.1,788.4 414.1,786.9 414.1,785.4 414.1,783.9 414.2,782.4 414.2,780.9 414.2,779.4 414.2,777.9 414.3,776.4 414.3,774.8 414.3,773.3 414.3,771.8 414.4,770.3 414.4,768.8 414.4,767.3 414.5,765.8 414.5,764.3 414.5,762.8 414.5,761.3 414.6,759.8 414.6,758.3 414.6,756.8 414.6,755.3 414.7,753.8 414.7,752.3 414.7,750.8 414.8,749.3 414.8,747.8 414.8,746.3 414.8,744.8 414.9,743.3 414.9,741.8 414.9,740.3 414.9,738.8 415,737.3 415,735.8 415,734.3 415.1,732.8 415.1,731.3 415.1,729.8 415.1,728.3 415.2,726.8 415.2,725.3 415.2,723.8 415.3,722.3 415.3,720.8 415.3,719.3 415.3,717.8 415.4,716.3 415.4,714.8 415.4,713.3 415.4,711.8 415.5,710.3 415.5,708.8 415.5,707.3 415.6,705.8 415.6,704.3 415.6,702.8 415.6,701.3 415.7,699.8 415.7,698.3 415.7,696.8 415.8,695.3 415.8,693.8 415.8,692.3 415.9,690.8 415.9,689.3 415.9,687.8 415.9,686.3 416,684.8 416,683.3 416,681.8 416.1,680.3 416.1,678.8 416.1,677.3 416.1,675.8 416.2,674.3 416.2,672.8 416.2,671.3 416.3,669.7 416.3,668.2 416.3,666.7 416.4,665.2 416.4,663.7 416.4,662.2 416.4,660.7 416.5,659.2 416.5,657.7 416.5,656.2 416.6,654.7 416.6,653.2 416.6,651.7 416.7,650.2 416.7,648.7 416.7,647.2 416.7,645.7 416.8,644.2 416.8,642.7 416.8,641.2 416.9,639.7 416.9,638.2 416.9,636.7 417,635.2 417,633.7 417,632.2 417,630.7 417.1,629.2 417.1,627.7 417.1,626.2 417.2,624.7 417.2,623.2 417.2,621.7 417.3,620.2 417.3,618.7 417.3,617.2 417.4,615.7 417.4,614.2 417.4,612.7 417.5,611.2 417.5,609.7 417.5,608.2 417.5,606.7 417.6,605.2 417.6,603.7 417.6,602.2 417.7,600.7 417.7,599.2 417.7,597.7 417.8,596.2 417.8,594.7 417.8,593.2 417.9,591.7 417.9,590.2 417.9,588.7 418,587.2 418,585.7 418,584.2 418.1,582.7 418.1,581.2 418.1,579.7 418.2,578.2 418.2,576.7 418.2,575.2 418.3,573.7 418.3,572.2 418.3,570.7 418.4,569.2 418.4,567.7 418.4,566.2 418.5,564.7 418.5,563.2 418.5,561.7 418.6,560.1 418.6,558.6 418.6,557.1 418.7,555.6 418.7,554.1 418.7,552.6 418.8,551.1 418.8,549.6 418.8,548.1 418.9,546.6 418.9,545.1 418.9,543.6 419,542.1 419,540.6 419,539.1 419.1,537.6 419.1,536.1 419.1,534.6 419.2,533.1 419.2,531.6 419.2,530.1 419.3,528.6 419.3,527.1 419.3,525.6 419.4,524.1 419.4,522.6 419.4,521.1 419.5,519.6 419.5,518.1 419.5,516.6 419.6,515.1 419.6,513.6 419.7,512.1 419.7,510.6 419.7,509.1 419.8,507.6 419.8,506.1 419.8,504.6 419.9,503.1 419.9,501.6 419.9,500.1 420,498.6 420,497.1 420,495.6 420.1,494.1 420.1,492.6 420.2,491.1 420.2,489.6 420.2,488.1 420.3,486.6 420.3,485.1 420.4,483.6 420.4,482.1 420.4,480.6 420.5,479.1 420.5,477.6 420.6,476.1 420.6,474.6 420.6,473.1 420.7,471.6 420.7,470.1 420.8,468.6 420.8,467.1 420.8,465.6 420.9,464.1 420.9,462.6 421,461.1 421,459.6 421,458.1 421.1,456.6 421.1,455.1 421.2,453.6 421.2,452.1 421.2,450.6 421.3,449.1 421.3,447.6 421.4,446.1 421.4,444.6 421.5,443.1 421.5,441.6 421.5,440.1 421.6,438.5 421.6,437 421.7,435.5 421.7,434 421.8,432.5 421.8,431 421.8,429.5 421.9,428 421.9,426.5 422,425 422,423.5 422,422 422.1,420.5 422.1,419 422.2,417.5 422.2,416 422.3,414.5 422.3,413 422.3,411.5 422.4,410 422.4,408.5 422.5,407 422.5,405.5 422.6,404 422.6,402.5 422.6,401 422.7,399.5 422.7,398 422.8,396.5 422.8,395 422.9,393.5 422.9,392 422.9,390.5 423,389 423,387.5 423.1,386 423.1,384.5 423.1,383 423.2,381.5 423.2,380 423.3,378.5 423.3,377 423.4,375.5 423.4,374 423.4,372.5 423.5,371 423.5,369.5 423.6,368 423.6,366.5 423.6,365 423.7,363.5 423.7,362 423.8,360.5 423.8,359 423.8,357.5 423.9,356 423.9,354.5 424,353 424,351.5 424,350 424.1,348.5 424.1,347 424.2,345.5 424.2,344 424.2,342.5 424.3,341 424.3,339.5 424.3,338 424.4,336.5 424.4,335 424.5,333.5 424.5,332 424.5,330.5 424.6,329 424.6,327.5 424.7,326 424.7,324.5 424.7,323 424.8,321.5 424.8,320 424.9,318.5 424.9,317 424.9,315.5 425,314 425,312.5 425.1,311 425.1,309.5 425.1,307.9 425.2,306.4 425.2,304.9 425.2,303.4 425.3,301.9 425.3,300.4 425.4,298.9 425.4,297.4 425.4,295.9 425.5,294.4 425.5,292.9 425.6,291.4 425.6,289.9 425.6,288.4 425.7,286.9 425.7,285.4 425.8,283.9 425.8,282.4 425.8,280.9 425.9,279.4 425.9,277.9 426,276.4 426,274.9 426,273.4 426.1,271.9 426.1,270.4 426.2,268.9 426.2,267.4 426.2,265.9 426.3,264.4 426.3,262.9 426.4,261.4 426.4,259.9 426.4,258.4 426.5,256.9 426.5,255.4 426.6,253.9 426.6,252.4 426.6,250.9 426.7,249.4 426.7,247.9 426.8,246.4 426.8,244.9 426.8,243.4 426.9,241.9 426.9,240.4 427,238.9 427,237.4 427,235.9 427.1,234.4 427.1,232.9 427.2,231.4 427.2,229.9 427.2,228.4 427.3,226.9 427.3,225.4 427.4,223.9 427.4,222.4 427.5,220.9 427.5,219.4 427.5,217.9 427.6,216.4 427.6,214.9 427.7,213.4 427.7,211.9 427.8,210.4 427.8,208.9 427.8,207.4 427.9,205.9 427.9,204.4 428,202.9 428,201.4 428.1,199.9 428.1,198.4 428.2,196.9 428.2,195.4 428.2,193.9 428.3,192.4 428.3,190.9 428.4,189.4 428.4,187.9 428.5,186.4 428.5,184.9 428.6,183.4 428.6,181.9 428.7,180.4 428.7,178.9 428.8,177.4 428.8,175.9 428.9,174.3 428.9,172.8 429,171.3 429,169.8 429.1,168.3 429.1,166.8 429.2,165.3 429.2,163.8 429.3,162.3 429.3,160.8 429.4,159.3 429.4,157.8 429.5,156.3 429.6,154.8 429.6,153.3 429.7,151.8 429.8,150.3 429.9,148.8 429.9,147.3 430,145.8 430.1,144.3 430.2,142.8 430.3,141.3 430.4,139.8 430.5,138.3 430.6,136.8 430.7,135.3 430.8,133.9 431,132.2 431.1,130.3 431.3,128.3 431.6,126.4 431.8,124.6 432.1,123.1 432.3,122.1 432.5,121.5" fill="none" stroke="#e5332f" stroke-width="4.2" stroke-linecap="round" stroke-linejoin="round" stroke-dasharray="29 29.2" stroke-dashoffset="55.3"/>
<path d="M432.5,121.5 432.8,121.7 433,122.4 433.2,123.6 433.5,125.2 433.7,127.1 433.9,129.1 434.1,131 434.3,132.8 434.4,134.4 434.5,135.9 434.7,137.4 434.8,138.9 434.9,140.4 435,141.9 435,143.4 435.1,144.9 435.2,146.4 435.3,147.9 435.4,149.4 435.4,150.9 435.5,152.4 435.6,153.9 435.7,155.4 435.7,156.9 435.8,158.4 435.8,159.9 435.9,161.4 436,162.9 436,164.4 436.1,165.9 436.1,167.4 436.2,168.9 436.2,170.4 436.3,171.9 436.3,173.4 436.4,174.9 436.4,176.4 436.5,177.9 436.5,179.4 436.6,180.9 436.6,182.4 436.6,183.9 436.7,185.4 436.7,186.9 436.8,188.4 436.8,189.9 436.9,191.4 436.9,192.9 437,194.4 437,195.9 437.1,197.4 437.1,198.9 437.1,200.4 437.2,201.9 437.2,203.4 437.3,204.9 437.3,206.4 437.4,207.9 437.4,209.4 437.5,210.9 437.5,212.4 437.5,213.9 437.6,215.4 437.6,216.9 437.7,218.4 437.7,219.9 437.8,221.4 437.8,222.9 437.8,224.5 437.9,226 437.9,227.5 438,229 438,230.5 438.1,232 438.1,233.5 438.1,235 438.2,236.5 438.2,238 438.3,239.5 438.3,241 438.3,242.5 438.4,244 438.4,245.5 438.5,247 438.5,248.5 438.6,250 438.6,251.5 438.6,253 438.7,254.5 438.7,256 438.8,257.5 438.8,259 438.9,260.5 438.9,262 438.9,263.5 439,265 439,266.5 439.1,268 439.1,269.5 439.1,271 439.2,272.5 439.2,274 439.3,275.5 439.3,277 439.4,278.5 439.4,280 439.4,281.5 439.5,283 439.5,284.5 439.6,286 439.6,287.5 439.6,289 439.7,290.5 439.7,292 439.8,293.5 439.8,295 439.8,296.5 439.9,298 439.9,299.5 440,301 440,302.5 440.1,304 440.1,305.5 440.1,307 440.2,308.5 440.2,310 440.3,311.5 440.3,313 440.3,314.5 440.4,316 440.4,317.5 440.5,319 440.5,320.5 440.5,322 440.6,323.5 440.6,325 440.7,326.5 440.7,328 440.7,329.5 440.8,331 440.8,332.5 440.9,334 440.9,335.5 440.9,337 441,338.5 441,340 441.1,341.5 441.1,343 441.1,344.5 441.2,346 441.2,347.5 441.3,349 441.3,350.5 441.3,352 441.4,353.5 441.4,355 441.5,356.6 441.5,358.1 441.5,359.6 441.6,361.1 441.6,362.6 441.6,364.1 441.7,365.6 441.7,367.1 441.8,368.6 441.8,370.1 441.8,371.6 441.9,373.1 441.9,374.6 442,376.1 442,377.6 442,379.1 442.1,380.6 442.1,382.1 442.1,383.6 442.2,385.1 442.2,386.6 442.3,388.1 442.3,389.6 442.3,391.1 442.4,392.6 442.4,394.1 442.5,395.6 442.5,397.1 442.5,398.6 442.6,400.1 442.6,401.6 442.6,403.1 442.7,404.6 442.7,406.1 442.8,407.6 442.8,409.1 442.8,410.6 442.9,412.1 442.9,413.6 443,415.1 443,416.6 443,418.1 443.1,419.6 443.1,421.1 443.1,422.6 443.2,424.1 443.2,425.6 443.3,427.1 443.3,428.6 443.3,430.1 443.4,431.6 443.4,433.1 443.4,434.6 443.5,436.1 443.5,437.6 443.6,439.1 443.6,440.6 443.6,442.1 443.7,443.6 443.7,445.1 443.7,446.6 443.8,448.1 443.8,449.6 443.8,451.1 443.9,452.6 443.9,454.1 444,455.6 444,457.1 444,458.6 444.1,460.1 444.1,461.6 444.1,463.1 444.2,464.6 444.2,466.1 444.2,467.6 444.3,469.1 444.3,470.6 444.3,472.1 444.4,473.6 444.4,475.1 444.5,476.6 444.5,478.2 444.5,479.7 444.6,481.2 444.6,482.7 444.6,484.2 444.7,485.7 444.7,487.2 444.7,488.7 444.8,490.2 444.8,491.7 444.8,493.2 444.9,494.7 444.9,496.2 444.9,497.7 445,499.2 445,500.7 445,502.2 445.1,503.7 445.1,505.2 445.1,506.7 445.2,508.2 445.2,509.7 445.2,511.2 445.3,512.7 445.3,514.2 445.3,515.7 445.4,517.2 445.4,518.7 445.4,520.2 445.4,521.7 445.5,523.2 445.5,524.7 445.5,526.2 445.6,527.7 445.6,529.2 445.6,530.7 445.6,532.2 445.7,533.7 445.7,535.2 445.7,536.7 445.8,538.2 445.8,539.7 445.8,541.2 445.8,542.7 445.9,544.2 445.9,545.7 445.9,547.2 445.9,548.7 446,550.2 446,551.7 446,553.2 446.1,554.7 446.1,556.2 446.1,557.7 446.1,559.2 446.2,560.7 446.2,562.2 446.2,563.7 446.2,565.2 446.2,566.7 446.3,568.2 446.3,569.7 446.3,571.2 446.3,572.7 446.4,574.2 446.4,575.7 446.4,577.2 446.4,578.7 446.5,580.2 446.5,581.8 446.5,583.3 446.5,584.8 446.5,586.3 446.6,587.8 446.6,589.3 446.6,590.8 446.6,592.3 446.7,593.8 446.7,595.3 446.7,596.8 446.7,598.3 446.7,599.8 446.8,601.3 446.8,602.8 446.8,604.3 446.8,605.8 446.9,607.3 446.9,608.8 446.9,610.3 446.9,611.8 446.9,613.3 447,614.8 447,616.3 447,617.8 447,619.3 447,620.8 447.1,622.3 447.1,623.8 447.1,625.3 447.1,626.8 447.1,628.3 447.2,629.8 447.2,631.3 447.2,632.8 447.2,634.3 447.3,635.8 447.3,637.3 447.3,638.8 447.3,640.3 447.3,641.8 447.4,643.3 447.4,644.8 447.4,646.3 447.4,647.8 447.4,649.3 447.5,650.8 447.5,652.3 447.5,653.8 447.5,655.3 447.5,656.8 447.6,658.3 447.6,659.8 447.6,661.3 447.6,662.8 447.7,664.3 447.7,665.8 447.7,667.3 447.7,668.8 447.7,670.3 447.8,671.8 447.8,673.3 447.8,674.9 447.8,676.4 447.9,677.9 447.9,679.4 447.9,680.9 447.9,682.4 447.9,683.9 448,685.4 448,686.9 448,688.4 448,689.9 448.1,691.4 448.1,692.9 448.1,694.4 448.1,695.9 448.2,697.4 448.2,698.9 448.2,700.4 448.2,701.9 448.3,703.4 448.3,704.9 448.3,706.4 448.3,707.9 448.4,709.4 448.4,710.9 448.4,712.4 448.4,713.9 448.5,715.4 448.5,716.9 448.5,718.4 448.5,719.9 448.6,721.4 448.6,722.9 448.6,724.4 448.7,725.9 448.7,727.4 448.7,728.9 448.7,730.4 448.8,731.9 448.8,733.4 448.8,734.9 448.9,736.4 448.9,737.9 448.9,739.4 449,740.9 449,742.4 449,743.9 449,745.4 449.1,746.9 449.1,748.4 449.1,749.9 449.2,751.4 449.2,752.9 449.2,754.4 449.3,755.9 449.3,757.4 449.3,758.9 449.4,760.4 449.4,761.9 449.4,763.4 449.5,764.9 449.5,766.4 449.6,767.9 449.6,769.4 449.6,770.9 449.7,772.4 449.7,773.9 449.7,775.4 449.8,776.9 449.8,778.4 449.9,779.9 449.9,781.4 450,782.9 450,784.4 450.1,785.9 450.1,787.4 450.2,788.9 450.2,790.4 450.3,791.9 450.3,793.4 450.4,795 450.4,796.5 450.5,798 450.5,799.5 450.6,801 450.7,802.5 450.7,804 450.8,805.5 450.8,807 450.9,808.5 451,810 451,811.5 451.1,813 451.1,814.5 451.2,816 451.3,817.5 451.3,819 451.4,820.5 451.5,822 451.5,823.5 451.6,825 451.6,826.5 451.7,828 451.8,829.5 451.8,831 451.9,832.5 452,834 452,835.5 452.1,837 452.1,838.5 452.2,840 452.3,841.5 452.3,843 452.4,844.5 452.4,846 452.5,847.5 452.6,849 452.6,850.5 452.7,852 452.7,853.5 452.8,855 452.8,856.5 452.9,858 453,859.5 453,861 453.1,862.5 453.2,864 453.2,865.5 453.3,867 453.4,868.5 453.4,870 453.5,871.5 453.6,873 453.6,874.5 453.7,876 453.8,877.5 453.8,879 453.9,880.5 454,882 454.1,883.5 454.2,885 454.2,886.5 454.3,888 454.4,889.5 454.5,891 454.6,892.5 454.8,894 455,895.4 455.2,896.9 455.5,898.4 455.8,899.9 456.1,901.4 456.5,902.8 456.8,904.3 457.2,905.8 457.7,907.7 458.2,909.3 458.8,910 459.4,909.4 460,907.9 460.6,906.1 461.2,904.5 461.7,903.1 462.2,901.7 462.7,900.2 463.2,898.8 463.6,897.4 464,895.9 464.4,894.5 464.7,893 464.9,891.5 465.1,890.1 465.3,888.6 465.4,887.1 465.5,885.6 465.7,884.1 465.8,882.6 465.9,881.1 466.1,879.6 466.2,878.1 466.3,876.6 466.4,875.1 466.5,873.6 466.6,872.1 466.7,870.6 466.8,869.1 466.9,867.6 467,866.1 467.1,864.6 467.2,863.1 467.3,861.6 467.4,860.1 467.5,858.6 467.6,857.1 467.7,855.6 467.8,854.1 467.9,852.6 468,851.1 468,849.6 468.1,848.1 468.2,846.6 468.3,845.1 468.4,843.6 468.5,842.1 468.6,840.6 468.6,839.1 468.7,837.6 468.8,836.1 468.9,834.6 469,833.1 469.1,831.6 469.1,830.1 469.2,828.6 469.3,827.1 469.4,825.6 469.5,824.1 469.5,822.6 469.6,821.1 469.7,819.6 469.8,818.1 469.9,816.6 470,815.1 470,813.6 470.1,812.1 470.2,810.6 470.3,809.1 470.4,807.6 470.5,806.1 470.6,804.6 470.6,803.1 470.7,801.6 470.8,800.1 470.9,798.6 471,797.1 471.1,795.6 471.2,794.1 471.3,792.6 471.4,791.1 471.5,789.6 471.6,788.1 471.7,786.6 471.8,785.1 471.9,783.6 472,782.1 472.1,780.6 472.2,779.1 472.3,777.7 472.4,776.2 472.5,774.7 472.6,773.2 472.8,771.7 472.9,770.2 473,768.7 473.1,767.2 473.2,765.7 473.4,764.2 473.5,762.7 473.6,761.2 473.7,759.7 473.9,758.2 474,756.7 474.1,755.2 474.3,753.7 474.4,752.2 474.6,750.7 474.7,749.2 474.8,747.7 475,746.2 475.1,744.7 475.3,743.2 475.4,741.8 475.6,740.3 475.7,738.8 475.9,737.3 476,735.8 476.2,734.3 476.3,732.8 476.5,731.3 476.6,729.8 476.8,728.3 476.9,726.8 477.1,725.3 477.2,723.8 477.4,722.3 477.5,720.8 477.7,719.3 477.8,717.8 478,716.3 478.2,714.9 478.3,713.4 478.5,711.9 478.6,710.4 478.8,708.9 479,707.4 479.1,705.9 479.3,704.4 479.4,702.9 479.6,701.4 479.7,699.9 479.9,698.4 480.1,696.9 480.2,695.4 480.4,693.9 480.5,692.5 480.7,691 480.9,689.5 481,688 481.2,686.5 481.3,685 481.5,683.5 481.7,682 481.8,680.5 482,679 482.1,677.5 482.3,676 482.5,674.5 482.6,673 482.8,671.6 483,670.1 483.2,668.6 483.3,667.1 483.5,665.6 483.7,664.1 483.8,662.6 484,661.1 484.2,659.6 484.4,658.1 484.5,656.6 484.7,655.1 484.9,653.6 485.1,652.2 485.2,650.7 485.4,649.2 485.6,647.7 485.8,646.2 485.9,644.7 486.1,643.2 486.3,641.7 486.5,640.2 486.7,638.7 486.8,637.2 487,635.8 487.2,634.3 487.4,632.8 487.6,631.3 487.8,629.8 488,628.3 488.2,626.8 488.4,625.3 488.6,623.8 488.8,622.4 489,620.9 489.2,619.4 489.4,617.9 489.6,616.4 489.8,614.9 490,613.4 490.1,611.9 490.3,610.4 490.5,609 490.7,607.5 490.9,606 491.1,604.5 491.2,603 491.4,601.5 491.6,600 491.7,598.5 491.9,597 492,595.5 492.2,594 492.3,592.5 492.5,591 492.6,589.5 492.8,588 492.9,586.5 493.1,585 493.2,583.5 493.4,582 493.6,580.6 493.8,579.1 494,577.6 494.2,576.1 494.5,574.6 494.8,573.1 495.2,571.6 495.6,570.2 496.1,568.8 496.8,567.5 497.9,566.2 499.1,565.7 500.3,566.6 501.2,568 501.7,569.4 502.1,570.8 502.4,572.2 502.7,573.8 503,575.3 503.2,576.8 503.3,578.3 503.5,579.8 503.6,581.3 503.7,582.8 503.8,584.3 503.9,585.7 504.1,587.2 504.2,588.7 504.3,590.2 504.4,591.7 504.5,593.2 504.6,594.7 504.7,596.2 504.9,597.7 505,599.2 505.1,600.7 505.2,602.2 505.3,603.7 505.4,605.2 505.5,606.7 505.7,608.2 505.8,609.7 505.9,611.2 506,612.7 506.2,614.2 506.3,615.7 506.4,617.2 506.6,618.7 506.7,620.2 506.8,621.7 507,623.2 507.1,624.7 507.2,626.2 507.3,627.7 507.4,629.2 507.6,630.7 507.7,632.2 507.8,633.7 507.9,635.2 507.9,636.7 508,638.2 508.1,639.7 508.1,641.2 508.2,642.7 508.2,644.2 508.3,645.7 508.3,647.2 508.3,648.7 508.3,650.2 508.4,651.7 508.4,653.2 508.4,654.7 508.4,656.2 508.5,657.7 508.5,659.2 508.5,660.7 508.6,662.2 508.6,663.7 508.7,665.2 508.8,666.7 508.9,668.2 509,669.7 509.1,671.2 509.2,672.7 509.3,674.2 509.4,675.7 509.6,677.2 509.7,678.7 509.8,680.2 510,681.7 510.1,683.2 510.2,684.7 510.4,686.2 510.5,687.7 510.6,689.2 510.7,690.7 510.8,692.2 510.9,693.7 511,695.2 511.1,696.6 511.2,698.1 511.2,699.6 511.3,701.1 511.4,702.6 511.4,704.1 511.5,705.6 511.5,707.1 511.6,708.6 511.7,710.1 511.7,711.6 511.8,713.1 511.8,714.6 511.9,716.1 511.9,717.6 512,719.1 512,720.7 512.1,722.2 512.1,723.7 512.2,725.2 512.2,726.7 512.3,728.2 512.3,729.7 512.4,731.2 512.4,732.7 512.5,734.2 512.5,735.7 512.6,737.2 512.6,738.7 512.6,740.2 512.7,741.7 512.7,743.2 512.8,744.7 512.8,746.2 512.9,747.7 512.9,749.2 513,750.7 513,752.2 513.1,753.7 513.1,755.2 513.1,756.7 513.2,758.2 513.2,759.7 513.3,761.2 513.3,762.7 513.4,764.2 513.4,765.7 513.5,767.2 513.6,768.7 513.6,770.2 513.7,771.7 513.7,773.2 513.8,774.7 513.8,776.2 513.9,777.7 514,779.2 514,780.7 514.1,782.2 514.2,783.7 514.2,785.2 514.3,786.7 514.4,788.2 514.4,789.7 514.5,791.2 514.6,792.7 514.6,794.2 514.7,795.7 514.8,797.2 514.8,798.7 514.9,800.2 515,801.7 515.1,803.2 515.1,804.7 515.2,806.2 515.3,807.7 515.4,809.2 515.4,810.7 515.5,812.2 515.6,813.7 515.6,815.2 515.7,816.7 515.8,818.2 515.9,819.7 515.9,821.2 516,822.7 516.1,824.2 516.2,825.7 516.2,827.2 516.3,828.7 516.4,830.2 516.5,831.7 516.5,833.2 516.6,834.7 516.7,836.2 516.7,837.7 516.8,839.2 516.9,840.7 517,842.2 517,843.7 517.1,845.2 517.2,846.7 517.2,848.2 517.3,849.7 517.4,851.2 517.5,852.7 517.5,854.2 517.6,855.7 517.7,857.2 517.7,858.7 517.8,860.2 517.9,861.7 517.9,863.2 518,864.7 518.1,866.2 518.1,867.7 518.2,869.2 518.2,870.7 518.3,872.2 518.4,873.7 518.4,875.2 518.5,876.7 518.5,878.2 518.6,879.7 518.6,881.2 518.7,882.7 518.8,884.2 518.8,885.7 518.9,887.2 518.9,888.7 519,890.2 519.1,891.7 519.1,893.2 519.2,894.7 519.3,896.2 519.3,897.7 519.4,899.2 519.5,900.7 519.6,902.2 519.7,903.7 519.8,905.2 519.9,906.7 520.1,908.2 520.2,909.7 520.4,911.2 520.5,912.7 520.7,914.2 520.9,915.7 521,917.2 521.2,918.7 521.4,920.2 521.6,921.7 521.8,923.1 522,924.6 522.1,926.1 522.4,927.6 522.7,929.1 523,930.6 523.4,932.1 523.8,933.6 524.2,935 524.7,936.5 525.2,937.9 525.7,939.2 526.2,940.5 526.9,941.9 527.8,943.2 528.8,944.5 529.9,945.6 531.1,946.5 532.3,947.1 533.6,947.7 535.1,948.1 536.6,948.5 538.1,948.8 539.6,949 541.1,949.2 542.7,949.3 544.2,949.3 545.6,949.2 547.1,948.8 548.5,948 549.7,947.2 550.8,946.3 551.9,945.3 552.8,944.1 553.8,942.9 554.7,941.7 555.6,940.4 556.6,939.3 557.5,938.1 558.4,936.9 559.3,935.7 560.3,934.5 561.2,933.3 562.1,932.2 563.1,930.9 564.1,929.4 565.1,928 566.1,926.7 567.1,925.9 568.1,925.5" fill="none" stroke="#e5332f" stroke-width="4.2" stroke-linecap="round" stroke-linejoin="round" stroke-dasharray="29 29.2" stroke-dashoffset="40.0"/>
<path d="M568.1,925.5 569,926 570,927.2 570.9,928.7 571.7,930.4 572.3,931.8 572.9,933.1 573.4,934.5 573.9,935.9 574.3,937.4 574.8,938.8 575.2,940.3 575.6,941.7 576,943.2 576.4,944.6 576.8,946.1 577.3,947.5 577.7,949 578.2,950.4 578.7,951.8 579.1,953.2 579.6,954.7 580.1,956.1 580.5,957.5 581,958.9 581.5,960.4 581.9,961.8 582.4,963.2 582.9,964.7 583.3,966.1 583.8,967.5 584.2,969 584.7,970.4 585.1,971.8 585.6,973.3 586.1,974.7 586.5,976.1 587,977.5 587.5,978.9 588,980.4 588.4,981.8 588.9,983.3 589.4,984.7 589.9,986.1 590.4,987.6 590.9,989 591.4,990.4 591.9,991.9 592.4,993.3 593,994.7 593.5,996.1 594.1,997.4 594.7,998.8 595.2,1000.2 595.9,1001.5 596.5,1002.8 597.2,1004.1 597.9,1005.4 598.8,1006.7 599.6,1007.9 600.5,1009.2 601.4,1010.4 602.3,1011.6 603.3,1012.8 604.2,1014 605.2,1015.1 606.2,1016.2 607.2,1017.3 608.2,1018.5 609.3,1019.7 610.4,1020.8 611.5,1021.8 612.7,1022.8 613.9,1023.6 615.2,1024.3 616.5,1024.9 617.9,1025.3 619.5,1025.6 620.9,1025.6 622.4,1025.6 623.9,1025.6 625.5,1025.6 627,1025.6 628.5,1025.6 630,1025.6 631.5,1025.6 633,1025.6 634.5,1025.6 636,1025.6 637.5,1025.6 639,1025.6 640.5,1025.6 642,1025.6 643.5,1025.6 645,1025.6 646.5,1025.6 648,1025.6 649.5,1025.6 651,1025.6 652.5,1025.6 654,1025.6 655.5,1025.6 657,1025.6 658.5,1025.6 660,1025.6" fill="none" stroke="#e5332f" stroke-width="4.2" stroke-linecap="round" stroke-linejoin="round" stroke-dasharray="29 29.2" stroke-dashoffset="30.4"/>
<path d="M660,1025.6 661.5,1025.6 663,1025.6 664.5,1025.6 666,1025.6 667.5,1025.6 669,1025.6 670.5,1025.6 672,1025.6 673.5,1025.6 675,1025.6 676.5,1025.6 678,1025.6 679.5,1025.6 681,1025.6 682.6,1025.6 684.1,1025.6 685.6,1025.6 687.1,1025.6 688.6,1025.6 690.1,1025.6 691.6,1025.6 693.1,1025.6 694.6,1025.6 696.1,1025.6 697.6,1025.6 699.1,1025.6 700.6,1025.6 702.1,1025.5 703.6,1025.2 705,1024.9 706.5,1024.6 708,1024.3 709.5,1024 711,1023.7 712.4,1023.4 713.9,1023.1 715.4,1022.9 716.9,1022.6 718.3,1022.3 719.8,1022 721.3,1021.8 722.8,1021.5 724.3,1021.3 725.7,1021.1 727.2,1020.8 728.7,1020.6 730.2,1020.4 731.7,1020.1 733.2,1019.9 734.7,1019.6 736.1,1019.3 737.6,1019 739.1,1018.7 740.6,1018.4 742.1,1018.1 743.5,1017.9 745,1017.7 746.5,1017.5 748,1017.5 749.5,1017.5 751,1017.7 752.5,1017.9 753.9,1018.2 755.4,1018.5 756.9,1018.8 758.4,1019.2 759.9,1019.5 761.3,1019.8 762.8,1020.2 764.3,1020.5 765.7,1020.9 767.2,1021.3 768.6,1021.7 770.1,1022 771.6,1022.4 773,1022.7 774.5,1023.1 775.9,1023.4 777.4,1023.7 778.9,1024 780.4,1024.3 781.8,1024.6 783.3,1024.9 784.8,1025.1 786.3,1025.3 787.8,1025.5 789.3,1025.6 790.8,1025.6 792.3,1025.6 793.8,1025.6 795.3,1025.6 796.8,1025.6 798.3,1025.6 799.8,1025.6 801.3,1025.6 802.8,1025.6 804.3,1025.6 805.8,1025.6 807.3,1025.6 808.8,1025.6 810.3,1025.6 811.8,1025.6 813.4,1025.6 814.9,1025.6 816.4,1025.6 817.9,1025.6 819.4,1025.6 820.9,1025.6 822.4,1025.6 823.9,1025.6 825.4,1025.6 826.9,1025.6 828.4,1025.6 829.9,1025.6 831.4,1025.6 832.9,1025.6 834.4,1025.6 835.9,1025.6 837.4,1025.6 838.9,1025.6 840.4,1025.6 841.9,1025.6 843.4,1025.6 844.9,1025.6 846.4,1025.6 847.9,1025.6 849.4,1025.6 850.9,1025.6 852.4,1025.6 853.9,1025.6 855.4,1025.6 856.9,1025.6 858.5,1025.6 860,1025.6 861.5,1025.6 863,1025.6 864.5,1025.6 866,1025.6 867.5,1025.6 869,1025.6 870.5,1025.6 872,1025.6 873.5,1025.6 875,1025.6 876.5,1025.6 878,1025.6 879.5,1025.6 881,1025.6 882.5,1025.6 884,1025.6 885.5,1025.6 887,1025.6 888.5,1025.6 890,1025.6 891.5,1025.6 893,1025.6 894.5,1025.6 896,1025.6 897.5,1025.6 899,1025.6 900.5,1025.6 902,1025.6 903.6,1025.6 905.1,1025.6 906.6,1025.6 908.1,1025.6 909.6,1025.6 911.1,1025.6 912.6,1025.6 914.1,1025.6 915.6,1025.6 917.1,1025.6 918.6,1025.6 920.1,1025.6 921.6,1025.6 923.1,1025.6 924.6,1025.6 926.1,1025.6 927.6,1025.6 929.1,1025.6 930.6,1025.6 932.1,1025.6 933.6,1025.6 935.1,1025.6 936.6,1025.6 938.1,1025.6 939.6,1025.6 941.1,1025.6 942.6,1025.6 944.1,1025.6 945.6,1025.6 947.1,1025.6 948.7,1025.6 950.2,1025.6 951.7,1025.6 953.2,1025.6 954.7,1025.6 956.2,1025.6 957.7,1025.6 959.2,1025.6 960.7,1025.6 962.2,1025.6 963.7,1025.6 965.2,1025.6 966.7,1025.6 968.2,1025.6 969.7,1025.6 971.2,1025.6 972.7,1025.6 974.2,1025.6 975.7,1025.6 977.2,1025.6 978.7,1025.6 980.2,1025.6 981.7,1025.6 983.2,1025.6 984.7,1025.6 986.2,1025.6 987.7,1025.6 989.2,1025.6 990.7,1025.6 992.2,1025.6 993.8,1025.6 995.3,1025.6 996.8,1025.6 998.3,1025.6 999.8,1025.6 1001.3,1025.6 1002.8,1025.6 1004.3,1025.6 1005.8,1025.6 1007.3,1025.6 1008.8,1025.6 1010.3,1025.6 1011.8,1025.6 1013.3,1025.6 1014.8,1025.6 1016.3,1025.6 1017.8,1025.6 1019.3,1025.6 1020.8,1025.6 1022.3,1025.6 1023.8,1025.6 1025.3,1025.6 1026.8,1025.6 1028.3,1025.6 1029.8,1025.6 1031.3,1025.6 1032.8,1025.6 1034.3,1025.6 1035.8,1025.6 1037.3,1025.6 1038.9,1025.6 1040.4,1025.6 1041.9,1025.6 1043.4,1025.6 1044.9,1025.6 1046.4,1025.6 1047.9,1025.6 1049.4,1025.6 1050.9,1025.6 1052.4,1025.6 1053.9,1025.6 1055.4,1025.6 1056.9,1025.6 1058.4,1025.6 1059.9,1025.6 1061.4,1025.6 1062.9,1025.6 1064.4,1025.6 1065.9,1025.6 1067.4,1025.6 1068.9,1025.6 1070.4,1025.6 1071.9,1025.6 1073.4,1025.6 1074.9,1025.6 1076.4,1025.6 1077.9,1025.6 1079.4,1025.6 1080.9,1025.6 1082.4,1025.6 1084,1025.6 1085.5,1025.6 1087,1025.6 1088.5,1025.6 1090,1025.6 1091.5,1025.6 1093,1025.6 1094.5,1025.6 1096,1025.6 1097.5,1025.6 1099,1025.6 1100.5,1025.6 1102,1025.6 1103.5,1025.6 1105,1025.6 1106.5,1025.6 1108,1025.6 1109.5,1025.6 1111,1025.6 1112.5,1025.6 1114,1025.6 1115.5,1025.6 1117,1025.6 1118.5,1025.6 1120,1025.6 1121.5,1025.6 1123,1025.6 1124.5,1025.6 1126,1025.6 1127.6,1025.6 1129.1,1025.6 1130.6,1025.6 1132.1,1025.6 1133.6,1025.6 1135.1,1025.6 1136.6,1025.6 1138.1,1025.6 1139.6,1025.6 1141.1,1025.6 1142.6,1025.6 1144.1,1025.6 1145.6,1025.6 1147.1,1025.6 1148.6,1025.6 1150.1,1025.6 1151.6,1025.6 1153.1,1025.6 1154.6,1025.6 1156.1,1025.6 1157.6,1025.6 1159.1,1025.6 1160.6,1025.6 1162.1,1025.6 1163.6,1025.6 1165.1,1025.6 1166.6,1025.6 1168.1,1025.6 1169.6,1025.6 1171.1,1025.6 1172.7,1025.6 1174.2,1025.6 1175.7,1025.6 1177.2,1025.6 1178.7,1025.6 1180.2,1025.6 1181.7,1025.6 1183.2,1025.6 1184.7,1025.6 1186.2,1025.6 1187.7,1025.6 1189.2,1025.6 1190.7,1025.6 1192.2,1025.6 1193.7,1025.6 1195.2,1025.6 1196.7,1025.6 1198.2,1025.6 1199.7,1025.6 1201.2,1025.6 1202.7,1025.6 1204.2,1025.6 1205.7,1025.6 1207.2,1025.6 1208.7,1025.6 1210.2,1025.6 1211.7,1025.6 1213.2,1025.6 1214.7,1025.6 1216.2,1025.6 1217.8,1025.6 1219.3,1025.6 1220.8,1025.6 1222.3,1025.6 1223.8,1025.6 1225.3,1025.6 1226.8,1025.6 1228.3,1025.6 1229.8,1025.6 1231.3,1025.6 1232.8,1025.6 1234.3,1025.6 1235.8,1025.6 1237.3,1025.6 1238.8,1025.6 1240.3,1025.6 1241.8,1025.6 1243.3,1025.6 1244.8,1025.6 1246.3,1025.6 1247.8,1025.6 1249.3,1025.6 1250.8,1025.6 1252.3,1025.6 1253.8,1025.6 1255.3,1025.6 1256.8,1025.6 1258.3,1025.6 1259.8,1025.6 1261.3,1025.6 1262.9,1025.6 1264.4,1025.6 1265.9,1025.6 1267.4,1025.6 1268.9,1025.6 1270.4,1025.6 1271.9,1025.6 1273.4,1025.6 1274.9,1025.6 1276.4,1025.6 1277.9,1025.6 1279.4,1025.6 1280.9,1025.6 1282.4,1025.6 1283.9,1025.6 1285.4,1025.6 1286.9,1025.6 1288.4,1025.6 1289.9,1025.6 1291.4,1025.6 1292.9,1025.6 1294.4,1025.6 1295.9,1025.6 1297.4,1025.6 1298.9,1025.6 1300.4,1025.6 1301.9,1025.6 1303.4,1025.6 1304.9,1025.6 1306.4,1025.6 1308,1025.6 1309.5,1025.6 1311,1025.6 1312.5,1025.6 1314,1025.6 1315.5,1025.6 1317,1025.6 1318.5,1025.6 1320,1025.6 1321.5,1025.6 1323,1025.6 1324.5,1025.6 1326,1025.6 1327.5,1025.6 1329,1025.6 1330.5,1025.6 1332,1025.6 1333.5,1025.6 1335,1025.6 1336.5,1025.6 1338,1025.6 1339.5,1025.6 1341,1025.6 1342.5,1025.6 1344,1025.6 1345.5,1025.6 1347,1025.6 1348.5,1025.6 1350,1025.6 1351.5,1025.6 1353.1,1025.6 1354.6,1025.6 1356.1,1025.6 1357.6,1025.6 1359.1,1025.6 1360.6,1025.6 1362.1,1025.6 1363.6,1025.6 1365.1,1025.6 1366.6,1025.6 1368.1,1025.6 1369.6,1025.6 1371.1,1025.6 1372.6,1025.6 1374.1,1025.6 1375.6,1025.6 1377.1,1025.6 1378.6,1025.6 1380.1,1025.6 1381.6,1025.6 1383.1,1025.6 1384.6,1025.6 1386.1,1025.6 1387.6,1025.6 1389.1,1025.6 1390.6,1025.6 1392.1,1025.6 1393.6,1025.6 1395.1,1025.6 1396.6,1025.6 1398.2,1025.6 1399.7,1025.6 1401.2,1025.6 1402.7,1025.6 1404.2,1025.6 1405.7,1025.6 1407.2,1025.6 1408.7,1025.6 1410.2,1025.6 1411.7,1025.6 1413.2,1025.6 1414.7,1025.6 1416.2,1025.6 1417.7,1025.6 1419.2,1025.6 1420.7,1025.6 1422.2,1025.6 1423.7,1025.6 1425.2,1025.6 1426.7,1025.6 1428.2,1025.6 1429.7,1025.6 1431.2,1025.6 1432.7,1025.6 1434.2,1025.6 1435.7,1025.6 1437.2,1025.6 1438.7,1025.6 1440.2,1025.6 1441.7,1025.6 1443.3,1025.6 1444.8,1025.6 1446.3,1025.6 1447.8,1025.6 1449.3,1025.6 1450.8,1025.6 1452.3,1025.6 1453.8,1025.6 1455.3,1025.6 1456.8,1025.6 1458.3,1025.6 1459.8,1025.6 1461.3,1025.6 1462.8,1025.6 1464.3,1025.6 1465.8,1025.6 1467.3,1025.6 1468.8,1025.6 1470.3,1025.6 1471.8,1025.6 1473.3,1025.6 1474.8,1025.6 1476.3,1025.6 1477.8,1025.6 1479.3,1025.6 1480.8,1025.6 1482.3,1025.6 1483.8,1025.6 1485.3,1025.6 1486.8,1025.6 1488.4,1025.6 1489.9,1025.6 1491.4,1025.6 1492.9,1025.6 1494.4,1025.6 1495.9,1025.6 1497.4,1025.6 1498.9,1025.6 1500.4,1025.6 1501.9,1025.6 1503.4,1025.6 1504.9,1025.6 1506.4,1025.6 1507.9,1025.6 1509.4,1025.6 1510.9,1025.6 1512.4,1025.6 1513.9,1025.6 1515.4,1025.6 1516.9,1025.6 1518.4,1025.6 1519.9,1025.6 1521.4,1025.6 1522.9,1025.6 1524.4,1025.6 1525.9,1025.6 1527.4,1025.6 1528.9,1025.6 1530.4,1025.6 1531.9,1025.6 1533.5,1025.6 1535,1025.6 1536.5,1025.6 1538,1025.6 1539.5,1025.6 1541,1025.6 1542.5,1025.6 1544,1025.6 1545.5,1025.6 1547,1025.6 1548.5,1025.6 1550,1025.6 1551.5,1025.6 1553,1025.6 1554.5,1025.6 1556,1025.6 1557.5,1025.6 1559,1025.6 1560.5,1025.6 1562,1025.6 1563.5,1025.6 1565,1025.6 1566.5,1025.6 1568,1025.6 1569.5,1025.6 1571,1025.6 1572.5,1025.6 1574,1025.6 1575.5,1025.6 1577,1025.6 1578.6,1025.6 1580.1,1025.6 1581.6,1025.6 1583.1,1025.6 1584.6,1025.6 1586.1,1025.6 1587.6,1025.6 1589.1,1025.6 1590.6,1025.6 1592.1,1025.6 1593.6,1025.6 1595.1,1025.6 1596.6,1025.6 1598.1,1025.6 1599.6,1025.6 1601.1,1025.6 1602.6,1025.6 1604.1,1025.6 1605.6,1025.6 1607.1,1025.6 1608.6,1025.6 1610.1,1025.6 1611.6,1025.6 1613.1,1025.6 1614.6,1025.6 1616.1,1025.6 1617.6,1025.6 1619.1,1025.6 1620.6,1025.6 1622.1,1025.6 1623.7,1025.6 1625.2,1025.6 1626.7,1025.6 1628.2,1025.6 1629.7,1025.6 1631.2,1025.6 1632.7,1025.6 1634.2,1025.6 1635.7,1025.6 1637.2,1025.6 1638.7,1025.6 1640.2,1025.6 1641.7,1025.6 1643.2,1025.6 1644.7,1025.6 1646.2,1025.6 1647.7,1025.6 1649.2,1025.6 1650.7,1025.6 1652.2,1025.6 1653.7,1025.6 1655.2,1025.6 1656.7,1025.6 1658.2,1025.6 1659.7,1025.6 1661.2,1025.6 1662.7,1025.6 1664.2,1025.6 1665.7,1025.6 1667.2,1025.6 1668.8,1025.6 1670.3,1025.6 1671.8,1025.6 1673.3,1025.6 1674.8,1025.6 1676.3,1025.6 1677.8,1025.6 1679.3,1025.6 1680.8,1025.6 1682.3,1025.6 1683.8,1025.6 1685.3,1025.6 1686.8,1025.6 1688.3,1025.6 1689.8,1025.6 1691.3,1025.6 1692.8,1025.6 1694.3,1025.6 1695.8,1025.6 1697.3,1025.6 1698.8,1025.6 1700.3,1025.6 1701.8,1025.6 1703.3,1025.6 1704.8,1025.6 1706.3,1025.6 1707.8,1025.6 1709.3,1025.6 1710.8,1025.6 1712.3,1025.6 1713.9,1025.6 1715.4,1025.6 1716.9,1025.6 1718.4,1025.6 1719.9,1025.6 1721.4,1025.6 1722.9,1025.6 1724.4,1025.6 1725.9,1025.6 1727.4,1025.6 1728.9,1025.6 1730.4,1025.6 1731.9,1025.6 1733.4,1025.6 1734.9,1025.6 1736.4,1025.6 1737.9,1025.6 1739.4,1025.6 1740.9,1025.6 1742.4,1025.6 1743.9,1025.6 1745.4,1025.6 1746.9,1025.6 1748.4,1025.6 1749.9,1025.6 1751.4,1025.6 1752.9,1025.6 1754.4,1025.6 1755.9,1025.6 1757.4,1025.6 1759,1025.6 1760.5,1025.6 1762,1025.6 1763.5,1025.6 1765,1025.6 1766.5,1025.6 1768,1025.6 1769.5,1025.6 1771,1025.6 1772.5,1025.6 1774,1025.6 1775.5,1025.6 1777,1025.6 1778.5,1025.6 1780,1025.6" fill="none" stroke="#e5332f" stroke-width="4.2" stroke-linecap="round" stroke-linejoin="round" stroke-dasharray="29 29.2" stroke-dashoffset="15.6"/>
<rect x="410.2" y="34.0" width="1369.8" height="991.6" fill="none" stroke="#272324" stroke-width="4.3"/>
<path d="M410.2,860.3h16.6 M410.2,695.1h16.6 M410.2,529.8h16.6 M410.2,364.5h16.6 M410.2,199.3h16.6 M637.6,1025.6v-16.6 M866.4,1025.6v-16.6 M1095.2,1025.6v-16.6 M1322.8,1025.6v-16.6 M1551.7,1025.6v-16.6" fill="none" stroke="#272324" stroke-width="4.0"/>
<text transform="translate(386.4,882.3) scale(1,1.045)" text-anchor="end">300</text>
<text transform="translate(386.4,717.1) scale(1,1.045)" text-anchor="end">600</text>
<text transform="translate(386.4,551.8) scale(1,1.045)" text-anchor="end">900</text>
<text transform="translate(386.4,386.5) scale(1,1.045)" text-anchor="end">1 200</text>
<text transform="translate(386.4,221.3) scale(1,1.045)" text-anchor="end">1 500</text>
<text transform="translate(386.4,56.0) scale(1,1.045)" text-anchor="end">1 800</text>
<text transform="translate(369.9,1103.8) scale(1,1.045)" text-anchor="middle">0</text>
<text transform="translate(638.5,1103.8) scale(1,1.045)" text-anchor="middle">10</text>
<text transform="translate(867.5,1103.8) scale(1,1.045)" text-anchor="middle">20</text>
<text transform="translate(1094.5,1103.8) scale(1,1.045)" text-anchor="middle">30</text>
<text transform="translate(1322.5,1103.8) scale(1,1.045)" text-anchor="middle">40</text>
<text transform="translate(1550.0,1103.8) scale(1,1.045)" text-anchor="middle">50</text>
<text transform="translate(1778.3,1103.8) scale(1,1.045)" text-anchor="middle">60</text>
<text transform="translate(1094.7,1200.2) scale(1,1.015)" text-anchor="middle">Time/ms</text>
<text transform="translate(975.2,1303.7) scale(1,1.015)" text-anchor="middle">(a) Mid-column impact</text>
<text transform="translate(194.8,531) rotate(-90) scale(1,1.015)" text-anchor="middle">Impact force/kN</text>
<path d="M1116.1,144.3H1325.2" fill="none" stroke="#2d58a8" stroke-width="4.2" stroke-linecap="round"/>
<text transform="translate(1348.8,164.9) scale(1,1.02)" text-anchor="start">M-6-600-0.2</text>
<path d="M1116.1,220.6H1325.2" fill="none" stroke="#3daa5c" stroke-width="4.2" stroke-linecap="round" stroke-dasharray="16 17.15"/>
<text transform="translate(1348.8,241.3) scale(1,1.02)" text-anchor="start">M-6-600-0.3</text>
<path d="M1116.1,296.9H1325.2" fill="none" stroke="#e5332f" stroke-width="4.2" stroke-linecap="round" stroke-dasharray="29 29.2"/>
<text transform="translate(1348.8,317.7) scale(1,1.02)" text-anchor="start">M-6-600-0.4</text>
</g>
<g id="chart-b">
<rect x="2138.5" y="34.0" width="1369.8" height="991.6" fill="none" stroke="#272324" stroke-width="4.3"/>
<path d="M2138.5,860.3h16.6 M2138.5,695.1h16.6 M2138.5,529.8h16.6 M2138.5,364.5h16.6 M2138.5,199.3h16.6 M2366.8,1025.6v-16.6 M2595.3,1025.6v-16.6 M2823.8,1025.6v-16.6 M3052.2,1025.6v-16.6 M3280.6,1025.6v-16.6" fill="none" stroke="#272324" stroke-width="4.0"/>
<path d="M2138.5,1025.6 2138.5,1024.1 2138.5,1022.6 2138.5,1021.1 2138.6,1019.6 2138.6,1018.1 2138.6,1016.6 2138.6,1015.1 2138.6,1013.6 2138.6,1012.1 2138.7,1010.6 2138.7,1009.1 2138.7,1007.6 2138.7,1006.1 2138.7,1004.6 2138.7,1003.1 2138.8,1001.6 2138.8,1000.1 2138.8,998.6 2138.8,997.1 2138.8,995.6 2138.9,994.1 2138.9,992.6 2138.9,991.1 2138.9,989.6 2138.9,988.1 2139,986.6 2139,985.1 2139,983.6 2139,982.1 2139,980.6 2139.1,979.1 2139.1,977.6 2139.1,976.1 2139.1,974.6 2139.1,973.1 2139.2,971.6 2139.2,970.1 2139.2,968.6 2139.2,967.1 2139.3,965.6 2139.3,964.1 2139.3,962.6 2139.3,961.1 2139.4,959.6 2139.4,958.1 2139.4,956.6 2139.4,955.1 2139.5,953.6 2139.5,952.1 2139.5,950.6 2139.5,949.1 2139.6,947.6 2139.6,946.1 2139.6,944.6 2139.6,943.1 2139.6,941.6 2139.7,940.1 2139.7,938.6 2139.7,937.1 2139.8,935.6 2139.8,934.1 2139.8,932.6 2139.8,931.1 2139.9,929.6 2139.9,928.1 2139.9,926.6 2139.9,925.1 2140,923.6 2140,922.1 2140,920.6 2140,919.1 2140.1,917.6 2140.1,916.1 2140.1,914.6 2140.1,913.1 2140.2,911.6 2140.2,910.1 2140.2,908.6 2140.3,907.1 2140.3,905.6 2140.3,904.1 2140.3,902.6 2140.4,901.1 2140.4,899.6 2140.4,898.1 2140.4,896.6 2140.5,895.1 2140.5,893.6 2140.5,892.1 2140.6,890.6 2140.6,889.1 2140.6,887.6 2140.7,886.1 2140.7,884.6 2140.7,883.1 2140.7,881.6 2140.8,880.1 2140.8,878.6 2140.8,877.1 2140.9,875.6 2140.9,874.1 2140.9,872.6 2141,871.1 2141,869.6 2141,868.1 2141.1,866.6 2141.1,865.1 2141.1,863.6 2141.2,862.1 2141.2,860.6 2141.2,859.1 2141.3,857.6 2141.3,856.1 2141.3,854.6 2141.4,853.1 2141.4,851.6 2141.4,850.1 2141.5,848.6 2141.5,847.1 2141.5,845.6 2141.6,844.1 2141.6,842.6 2141.6,841.1 2141.7,839.6 2141.7,838.1 2141.7,836.6 2141.8,835.1 2141.8,833.6 2141.8,832.1 2141.9,830.6 2141.9,829 2141.9,827.5 2142,826 2142,824.5 2142.1,823 2142.1,821.5 2142.1,820 2142.2,818.5 2142.2,817 2142.2,815.5 2142.3,814 2142.3,812.5 2142.3,811 2142.4,809.5 2142.4,808 2142.4,806.5 2142.5,805 2142.5,803.5 2142.5,802 2142.6,800.5 2142.6,799 2142.7,797.5 2142.7,796 2142.7,794.5 2142.8,793 2142.8,791.5 2142.8,790 2142.9,788.5 2142.9,787 2142.9,785.5 2143,784 2143,782.5 2143,781 2143.1,779.5 2143.1,778 2143.1,776.5 2143.2,775 2143.2,773.5 2143.3,772 2143.3,770.5 2143.3,769 2143.4,767.5 2143.4,766 2143.4,764.5 2143.5,763 2143.5,761.5 2143.5,760 2143.6,758.5 2143.6,757 2143.6,755.5 2143.7,754 2143.7,752.5 2143.7,751 2143.8,749.5 2143.8,748 2143.8,746.5 2143.9,745 2143.9,743.5 2144,742 2144,740.5 2144,739 2144.1,737.5 2144.1,736 2144.1,734.5 2144.2,733 2144.2,731.5 2144.2,730 2144.3,728.5 2144.3,727 2144.4,725.5 2144.4,724 2144.4,722.5 2144.5,721 2144.5,719.5 2144.5,718 2144.6,716.5 2144.6,715 2144.6,713.5 2144.7,712 2144.7,710.5 2144.8,709 2144.8,707.5 2144.8,706 2144.9,704.5 2144.9,703 2144.9,701.5 2145,700 2145,698.5 2145,697 2145.1,695.5 2145.1,694 2145.2,692.5 2145.2,691 2145.2,689.5 2145.3,688 2145.3,686.5 2145.3,685 2145.4,683.5 2145.4,682 2145.4,680.5 2145.5,679 2145.5,677.5 2145.6,676 2145.6,674.5 2145.6,673 2145.7,671.5 2145.7,670 2145.7,668.5 2145.8,667 2145.8,665.5 2145.8,664 2145.9,662.5 2145.9,661 2145.9,659.5 2146,658 2146,656.5 2146.1,655 2146.1,653.5 2146.1,652 2146.2,650.5 2146.2,649 2146.2,647.5 2146.3,646 2146.3,644.5 2146.3,643 2146.4,641.5 2146.4,640 2146.4,638.5 2146.5,637 2146.5,635.5 2146.5,634 2146.6,632.5 2146.6,631 2146.6,629.5 2146.7,628 2146.7,626.5 2146.7,625 2146.8,623.5 2146.8,622 2146.8,620.5 2146.9,619 2146.9,617.5 2146.9,616 2147,614.5 2147,613 2147.1,611.5 2147.1,610 2147.1,608.5 2147.2,607 2147.2,605.5 2147.2,604 2147.3,602.5 2147.3,601 2147.3,599.5 2147.4,598 2147.4,596.5 2147.4,595 2147.5,593.5 2147.5,592 2147.5,590.5 2147.6,589 2147.6,587.5 2147.6,586 2147.7,584.5 2147.7,583 2147.7,581.5 2147.8,580 2147.8,578.5 2147.8,577 2147.9,575.5 2147.9,574 2147.9,572.5 2148,571 2148,569.5 2148,568 2148.1,566.5 2148.1,565 2148.1,563.5 2148.2,562 2148.2,560.5 2148.2,559 2148.3,557.5 2148.3,556 2148.3,554.5 2148.4,553 2148.4,551.5 2148.4,550 2148.5,548.5 2148.5,547 2148.5,545.5 2148.6,544 2148.6,542.5 2148.6,541 2148.7,539.5 2148.7,538 2148.7,536.5 2148.8,535 2148.8,533.5 2148.8,532 2148.9,530.5 2148.9,529 2148.9,527.5 2149,526 2149,524.5 2149,523 2149,521.5 2149.1,520 2149.1,518.5 2149.1,517 2149.2,515.5 2149.2,514 2149.2,512.5 2149.3,511 2149.3,509.5 2149.3,508 2149.4,506.5 2149.4,505 2149.4,503.5 2149.5,502 2149.5,500.5 2149.5,499 2149.6,497.5 2149.6,496 2149.6,494.5 2149.6,493 2149.7,491.5 2149.7,490 2149.7,488.5 2149.8,487 2149.8,485.5 2149.8,484 2149.9,482.5 2149.9,481 2149.9,479.5 2149.9,478 2150,476.5 2150,475 2150,473.5 2150.1,472 2150.1,470.5 2150.1,469 2150.1,467.5 2150.2,466 2150.2,464.5 2150.2,463 2150.3,461.5 2150.3,460 2150.3,458.5 2150.3,457 2150.4,455.5 2150.4,454 2150.4,452.5 2150.5,451 2150.5,449.5 2150.5,448 2150.5,446.5 2150.6,445 2150.6,443.5 2150.6,442 2150.6,440.5 2150.7,439 2150.7,437.5 2150.7,436 2150.8,434.5 2150.8,433 2150.8,431.5 2150.8,430 2150.9,428.5 2150.9,427 2150.9,425.5 2151,424 2151,422.5 2151,421 2151,419.5 2151.1,418 2151.1,416.5 2151.1,415 2151.1,413.5 2151.2,412 2151.2,410.5 2151.2,409 2151.3,407.5 2151.3,406 2151.3,404.5 2151.3,403 2151.4,401.5 2151.4,400 2151.4,398.5 2151.5,397 2151.5,395.5 2151.5,394 2151.5,392.5 2151.6,391 2151.6,389.5 2151.6,388 2151.7,386.5 2151.7,385 2151.7,383.5 2151.8,382 2151.8,380.5 2151.8,379 2151.8,377.5 2151.9,376 2151.9,374.5 2151.9,373 2152,371.5 2152,370 2152,368.5 2152.1,367 2152.1,365.5 2152.1,364 2152.2,362.5 2152.2,361 2152.2,359.5 2152.3,358 2152.3,356.5 2152.3,355 2152.3,353.5 2152.4,352 2152.4,350.5 2152.4,349 2152.5,347.5 2152.5,346 2152.5,344.5 2152.6,343 2152.6,341.5 2152.6,340 2152.7,338.5 2152.7,337 2152.7,335.5 2152.8,334 2152.8,332.5 2152.8,331 2152.9,329.5 2152.9,328 2152.9,326.5 2153,325 2153,323.5 2153,322 2153.1,320.5 2153.1,319 2153.1,317.5 2153.2,316 2153.2,314.5 2153.2,313 2153.3,311.5 2153.3,310 2153.4,308.5 2153.4,307 2153.4,305.5 2153.5,304 2153.5,302.5 2153.5,301 2153.6,299.5 2153.6,298 2153.6,296.5 2153.7,295 2153.7,293.5 2153.7,292 2153.8,290.5 2153.8,289 2153.9,287.5 2153.9,286 2153.9,284.5 2154,283 2154,281.5 2154,280 2154.1,278.5 2154.1,277 2154.2,275.5 2154.2,274 2154.2,272.5 2154.3,271 2154.3,269.5 2154.3,268 2154.4,266.5 2154.4,265 2154.5,263.5 2154.5,262 2154.5,260.5 2154.6,259 2154.6,257.5 2154.7,256 2154.7,254.5 2154.7,253 2154.8,251.5 2154.8,250 2154.9,248.5 2154.9,247 2155,245.5 2155,244 2155,242.5 2155.1,241 2155.1,239.5 2155.2,238 2155.2,236.5 2155.3,235 2155.3,233.5 2155.3,232 2155.4,230.5 2155.4,229 2155.5,227.5 2155.5,226 2155.6,224.5 2155.6,223 2155.7,221.5 2155.7,220 2155.8,218.5 2155.8,217 2155.9,215.5 2155.9,214 2156,212.5 2156,211 2156.1,209.5 2156.2,208 2156.2,206.5 2156.3,205 2156.3,203.5 2156.4,202 2156.5,200.5 2156.5,199 2156.6,197.5 2156.6,196 2156.7,194.5 2156.8,193 2156.8,191.5 2156.9,190 2157,188.5 2157,187 2157.1,185.5 2157.2,184 2157.2,182.5 2157.3,181 2157.4,179.5 2157.4,178 2157.5,176.5 2157.6,175 2157.6,173.5 2157.7,172 2157.8,170.5 2157.8,169 2157.9,167.5 2158,166 2158,164.5 2158.1,163 2158.2,161.5 2158.2,160 2158.3,158.5 2158.4,157 2158.4,155.5 2158.5,154 2158.6,152.5 2158.7,151 2158.7,149.5 2158.8,148 2158.9,146.5 2159,145 2159,143.5 2159.1,142 2159.2,140.5 2159.3,139 2159.4,137.5 2159.4,136 2159.5,134.5 2159.6,133 2159.7,131.5 2159.8,130 2159.9,128.5 2160,127 2160,125.5 2160.1,124 2160.3,122.5 2160.4,121 2160.5,119.5 2160.6,118 2160.7,116.5 2160.9,114.9 2161.1,113 2161.4,111.2 2161.7,109.9 2162,109.7 2162.3,110.6 2162.6,112.2 2163,114.2 2163.2,115.9 2163.4,117.4 2163.5,118.9 2163.7,120.4 2163.8,121.9 2163.9,123.4 2164.1,124.9 2164.2,126.4 2164.3,127.9 2164.4,129.4 2164.5,130.9 2164.6,132.4 2164.7,133.9 2164.8,135.4 2164.9,136.9 2165.1,138.4 2165.2,139.9 2165.3,141.4 2165.4,142.9 2165.5,144.4 2165.7,145.9 2165.8,147.3 2165.9,148.8 2166,150.3 2166.1,151.8 2166.2,153.3 2166.4,154.8 2166.5,156.3 2166.6,157.8 2166.7,159.3 2166.8,160.8 2166.9,162.3 2166.9,163.8 2167,165.3 2167.1,166.8 2167.2,168.3 2167.2,169.8 2167.3,171.3 2167.4,172.8 2167.5,174.3 2167.5,175.8 2167.6,177.3 2167.7,178.8 2167.7,180.3 2167.8,181.8 2167.9,183.3 2168,184.8 2168,186.3 2168.1,187.8 2168.1,189.3 2168.2,190.8 2168.3,192.3 2168.3,193.8 2168.4,195.3 2168.5,196.8 2168.5,198.3 2168.6,199.8 2168.6,201.3 2168.7,202.8 2168.8,204.3 2168.8,205.8 2168.9,207.3 2168.9,208.8 2169,210.3 2169,211.8 2169.1,213.3 2169.2,214.8 2169.2,216.3 2169.3,217.8 2169.3,219.3 2169.4,220.8 2169.4,222.3 2169.5,223.8 2169.5,225.3 2169.6,226.8 2169.6,228.3 2169.7,229.8 2169.7,231.3 2169.8,232.8 2169.9,234.3 2169.9,235.8 2170,237.3 2170,238.8 2170.1,240.3 2170.1,241.8 2170.2,243.3 2170.2,244.8 2170.3,246.3 2170.3,247.8 2170.4,249.3 2170.4,250.8 2170.5,252.3 2170.5,253.8 2170.6,255.3 2170.6,256.8 2170.7,258.3 2170.8,259.8 2170.8,261.3 2170.9,262.8 2170.9,264.3 2171,265.8 2171,267.3 2171.1,268.8 2171.1,270.3 2171.2,271.8 2171.2,273.3 2171.3,274.8 2171.3,276.3 2171.4,277.8 2171.4,279.3 2171.5,280.8 2171.5,282.3 2171.6,283.8 2171.6,285.3 2171.7,286.8 2171.7,288.3 2171.8,289.8 2171.8,291.3 2171.9,292.8 2172,294.3 2172,295.8 2172.1,297.3 2172.1,298.8 2172.2,300.3 2172.2,301.8 2172.3,303.3 2172.3,304.8 2172.4,306.3 2172.4,307.8 2172.5,309.3 2172.5,310.8 2172.6,312.3 2172.6,313.8 2172.7,315.3 2172.7,316.8 2172.7,318.3 2172.8,319.8 2172.8,321.3 2172.9,322.8 2172.9,324.3 2173,325.8 2173,327.3 2173.1,328.8 2173.1,330.3 2173.2,331.8 2173.2,333.3 2173.3,334.8 2173.3,336.3 2173.4,337.8 2173.4,339.3 2173.5,340.8 2173.5,342.3 2173.5,343.8 2173.6,345.3 2173.6,346.8 2173.7,348.3 2173.7,349.8 2173.8,351.3 2173.8,352.8 2173.9,354.3 2173.9,355.8 2173.9,357.3 2174,358.8 2174,360.3 2174.1,361.8 2174.1,363.3 2174.2,364.8 2174.2,366.3 2174.2,367.8 2174.3,369.3 2174.3,370.8 2174.4,372.3 2174.4,373.8 2174.4,375.3 2174.5,376.8 2174.5,378.3 2174.6,379.8 2174.6,381.3 2174.6,382.8 2174.7,384.3 2174.7,385.8 2174.8,387.3 2174.8,388.8 2174.8,390.3 2174.9,391.8 2174.9,393.3 2174.9,394.8 2175,396.3 2175,397.8 2175.1,399.3 2175.1,400.8 2175.1,402.3 2175.2,403.8 2175.2,405.3 2175.2,406.8 2175.3,408.3 2175.3,409.8 2175.3,411.3 2175.4,412.8 2175.4,414.3 2175.4,415.8 2175.5,417.3 2175.5,418.8 2175.6,420.3 2175.6,421.8 2175.6,423.3 2175.7,424.8 2175.7,426.3 2175.7,427.8 2175.8,429.3 2175.8,430.8 2175.8,432.3 2175.9,433.8 2175.9,435.3 2175.9,436.8 2176,438.3 2176,439.8 2176,441.3 2176.1,442.8 2176.1,444.3 2176.1,445.8 2176.2,447.3 2176.2,448.8 2176.2,450.3 2176.3,451.8 2176.3,453.3 2176.3,454.8 2176.4,456.3 2176.4,457.8 2176.4,459.3 2176.5,460.8 2176.5,462.3 2176.5,463.8 2176.6,465.3 2176.6,466.8 2176.7,468.3 2176.7,469.8 2176.7,471.3 2176.8,472.8 2176.8,474.3 2176.8,475.8 2176.9,477.3 2176.9,478.8 2176.9,480.3 2177,481.8 2177,483.3 2177,484.8 2177.1,486.3 2177.1,487.8 2177.1,489.3 2177.2,490.8 2177.2,492.3 2177.2,493.8 2177.3,495.3 2177.3,496.8 2177.4,498.3 2177.4,499.8 2177.4,501.3 2177.5,502.8 2177.5,504.3 2177.5,505.8 2177.6,507.3 2177.6,508.8 2177.6,510.3 2177.7,511.8 2177.7,513.3 2177.8,514.8 2177.8,516.3 2177.8,517.8 2177.9,519.3 2177.9,520.8 2177.9,522.3 2178,523.8 2178,525.3 2178,526.8 2178.1,528.3 2178.1,529.8 2178.1,531.3 2178.2,532.8 2178.2,534.3 2178.3,535.8 2178.3,537.3 2178.3,538.8 2178.4,540.3 2178.4,541.8 2178.4,543.3 2178.5,544.8 2178.5,546.3 2178.5,547.8 2178.6,549.3 2178.6,550.8 2178.6,552.3 2178.7,553.8 2178.7,555.3 2178.7,556.8 2178.8,558.3 2178.8,559.8 2178.9,561.3 2178.9,562.8 2178.9,564.3 2179,565.8 2179,567.3 2179,568.8 2179.1,570.3 2179.1,571.8 2179.1,573.3 2179.2,574.8 2179.2,576.3 2179.3,577.8 2179.3,579.3 2179.3,580.8 2179.4,582.3 2179.4,583.8 2179.4,585.3 2179.5,586.8 2179.5,588.3 2179.6,589.8 2179.6,591.3 2179.6,592.8 2179.7,594.3 2179.7,595.8 2179.8,597.3 2179.8,598.8 2179.8,600.3 2179.9,601.8 2179.9,603.3 2180,604.8 2180,606.3 2180,607.8 2180.1,609.3 2180.1,610.8 2180.2,612.3 2180.2,613.8 2180.2,615.3 2180.3,616.8 2180.3,618.3 2180.4,619.8 2180.4,621.3 2180.5,622.8 2180.5,624.3 2180.6,625.8 2180.6,627.3 2180.6,628.8 2180.7,630.3 2180.7,631.8 2180.8,633.3 2180.8,634.8 2180.9,636.3 2180.9,637.8 2181,639.3 2181,640.8 2181.1,642.3 2181.1,643.8 2181.2,645.3 2181.2,646.8 2181.3,648.3 2181.3,649.8 2181.4,651.3 2181.5,652.8 2181.5,654.3 2181.6,655.8 2181.6,657.3 2181.7,658.8 2181.7,660.3 2181.8,661.8 2181.9,663.3 2181.9,664.8 2182,666.3 2182.1,667.8 2182.1,669.3 2182.2,670.8 2182.3,672.3 2182.3,673.8 2182.4,675.3 2182.5,676.8 2182.5,678.3 2182.6,679.8 2182.7,681.3 2182.8,682.8 2182.8,684.3 2182.9,685.8 2183,687.3 2183.1,688.8 2183.1,690.3 2183.2,691.8 2183.3,693.3 2183.4,694.8 2183.4,696.3 2183.5,697.8 2183.6,699.3 2183.7,700.8 2183.8,702.3 2183.8,703.8 2183.9,705.2 2184,706.7 2184.1,708.2 2184.2,709.7 2184.2,711.2 2184.3,712.7 2184.4,714.2 2184.5,715.7 2184.6,717.2 2184.7,718.7 2184.8,720.2 2184.8,721.7 2184.9,723.2 2185,724.7 2185.1,726.2 2185.2,727.7 2185.3,729.2 2185.4,730.7 2185.5,732.2 2185.5,733.7 2185.6,735.2 2185.7,736.7 2185.8,738.2 2185.9,739.7 2186,741.2 2186.1,742.7 2186.2,744.2 2186.2,745.7 2186.3,747.2 2186.4,748.7 2186.5,750.2 2186.6,751.7 2186.7,753.2 2186.8,754.7 2186.9,756.2 2187,757.7 2187.1,759.2 2187.1,760.7 2187.2,762.2 2187.3,763.7 2187.4,765.2 2187.5,766.7 2187.6,768.2 2187.7,769.7 2187.8,771.2 2187.9,772.7 2188,774.2 2188,775.7 2188.1,777.2 2188.2,778.7 2188.3,780.2 2188.4,781.7 2188.5,783.2 2188.6,784.7 2188.7,786.1 2188.8,787.6 2188.9,789.1 2189,790.6 2189.1,792.1 2189.2,793.6 2189.3,795.1 2189.4,796.6 2189.5,798.1 2189.6,799.6 2189.7,801.1 2189.8,802.6 2189.9,804.1 2190,805.6 2190.1,807.1 2190.2,808.6 2190.3,810.1 2190.4,811.6 2190.5,813.1 2190.7,814.6 2190.8,816.1 2190.9,817.6 2191,819.1 2191.1,820.6 2191.2,822.1 2191.3,823.6 2191.4,825.1 2191.5,826.6 2191.6,828.1 2191.7,829.6 2191.8,831.1 2191.9,832.6 2192,834.1 2192.2,835.6 2192.3,837 2192.4,838.5 2192.5,840 2192.6,841.5 2192.7,843 2192.8,844.5 2192.9,846 2193,847.5 2193.1,849 2193.2,850.5 2193.3,852 2193.4,853.5 2193.5,855 2193.7,856.5 2193.8,858 2193.9,859.5 2194,861 2194.1,862.5 2194.2,864 2194.3,865.5 2194.4,867 2194.5,868.5 2194.6,870 2194.7,871.5 2194.8,873 2194.9,874.5 2195,876 2195.1,877.5 2195.2,879 2195.3,880.5 2195.4,882 2195.5,883.5 2195.6,885 2195.7,886.4 2195.9,887.9 2196,889.4 2196.1,890.9 2196.2,892.4 2196.3,893.9 2196.4,895.4 2196.5,896.9 2196.7,898.4 2196.8,899.9 2196.9,901.4 2197.1,902.9 2197.2,904.4 2197.3,905.9 2197.5,907.4 2197.6,908.9 2197.8,910.4 2197.9,911.9 2198.1,913.4 2198.2,914.8 2198.4,916.3 2198.5,917.8 2198.7,919.3 2198.9,920.8 2199,922.3 2199.2,923.8 2199.3,925.3 2199.5,926.8 2199.6,928.3 2199.8,929.8 2199.9,931.3 2200.1,932.8 2200.2,934.3 2200.4,935.7 2200.5,937.2 2200.7,938.7 2200.8,940.2 2201,941.7 2201.1,943.2 2201.2,944.7 2201.4,946.2 2201.5,947.7 2201.7,949.2 2201.8,950.7 2202,952.2 2202.1,953.7 2202.3,955.2 2202.4,956.7 2202.6,958.1 2202.8,959.6 2202.9,961.1 2203.1,962.6 2203.3,964.1 2203.4,965.6 2203.6,967.1 2203.8,968.6 2204,970.1 2204.1,971.6 2204.3,973.1 2204.5,974.6 2204.7,976 2204.9,977.5 2205.1,979 2205.3,980.5 2205.5,982 2205.7,983.5 2205.9,984.9 2206.2,986.4 2206.4,987.9 2206.7,989.5 2207,991 2207.4,992.4 2207.7,993.9 2208.1,995.3 2208.5,996.7 2208.9,998.1 2209.5,999.5 2210.3,1000.8 2211.2,1002.2 2212.2,1003.3 2213.3,1004.3 2214.5,1005.1 2215.8,1005.8 2217.2,1006.4 2218.7,1006.9 2220.3,1007.3 2221.8,1007.5 2223.2,1007.5 2224.7,1007.2 2226.3,1006.6 2227.7,1005.8 2228.7,1004.8 2229.3,1003.7 2229.8,1002.3 2230.2,1000.8 2230.5,999.2 2230.8,997.7 2231,996.2 2231.3,994.7 2231.5,993.2 2231.7,991.8 2231.9,990.3 2232.1,988.8 2232.4,987.3 2232.5,985.8 2232.7,984.3 2232.9,982.8 2233.1,981.3 2233.3,979.8 2233.5,978.4 2233.6,976.9 2233.8,975.4 2234,973.9 2234.2,972.4 2234.3,970.9 2234.5,969.4 2234.7,967.9 2234.8,966.4 2235,964.9 2235.2,963.4 2235.3,962 2235.5,960.5 2235.7,959 2235.8,957.5 2236,956 2236.2,954.5 2236.3,953 2236.5,951.5 2236.7,950 2236.8,948.5 2237,947 2237.2,945.5 2237.3,944.1 2237.5,942.6 2237.7,941.1 2237.8,939.6 2238,938.1 2238.2,936.6 2238.3,935.1 2238.5,933.6 2238.7,932.1 2238.8,930.6 2239,929.1 2239.2,927.6 2239.3,926.2 2239.5,924.7 2239.7,923.2 2239.8,921.7 2240,920.2 2240.1,918.7 2240.3,917.2 2240.5,915.7 2240.6,914.2 2240.8,912.7 2240.9,911.2 2241.1,909.7 2241.2,908.2 2241.3,906.8 2241.5,905.3 2241.6,903.8 2241.7,902.3 2241.9,900.8 2242,899.3 2242.1,897.8 2242.2,896.3 2242.4,894.8 2242.5,893.3 2242.6,891.8 2242.7,890.3 2242.8,888.8 2242.9,887.3 2243.1,885.8 2243.2,884.3 2243.3,882.8 2243.4,881.3 2243.5,879.8 2243.6,878.3 2243.7,876.8 2243.8,875.3 2244,873.8 2244.1,872.3 2244.2,870.9 2244.3,869.4 2244.4,867.9 2244.5,866.4 2244.6,864.9 2244.7,863.4 2244.9,861.9 2245,860.4 2245.1,858.9 2245.2,857.4 2245.3,855.9 2245.4,854.4 2245.5,852.9 2245.7,851.4 2245.8,849.9 2245.9,848.4 2246,846.9 2246.1,845.4 2246.2,843.9 2246.3,842.4 2246.4,840.9 2246.6,839.4 2246.7,837.9 2246.8,836.4 2246.9,834.9 2247,833.4 2247.1,831.9 2247.3,830.4 2247.4,828.9 2247.5,827.5 2247.6,826 2247.7,824.5 2247.9,823 2248,821.5 2248.1,820 2248.3,818.5 2248.4,817 2248.5,815.5 2248.7,814 2248.9,812.5 2249,811 2249.2,809.5 2249.4,808 2249.5,806.6 2249.7,805.1 2249.9,803.6 2250.1,802.1 2250.3,800.6 2250.5,799.1 2250.7,797.6 2250.9,796.1 2251.2,794.6 2251.4,793.2 2251.6,791.7 2251.8,790.2 2252,788.7 2252.2,787.2 2252.4,785.7 2252.6,784.2 2252.8,782.7 2253,781.2 2253.2,779.7 2253.5,778.2 2253.7,776.7 2254.1,775.3 2254.4,773.9 2255.2,772.5 2256.4,771.3 2257.6,770.9 2258.8,771.5 2260,772.7 2261.1,773.9 2262,775.1 2262.9,776.3 2263.8,777.6 2264.6,778.9 2265.3,780.2 2266,781.6 2266.6,782.9 2267.2,784.3 2267.6,785.7 2268.1,787.1 2268.5,788.5 2268.9,789.9 2269.3,791.3 2269.7,792.8 2270.1,794.2 2270.5,795.7 2270.9,797.1 2271.2,798.6 2271.6,800.1 2272,801.5 2272.3,803 2272.7,804.5 2273,806 2273.3,807.5 2273.7,808.9 2274,810.4 2274.3,811.9 2274.6,813.4 2274.9,814.8 2275.3,816.3 2275.6,817.8 2275.9,819.2 2276.2,820.7 2276.5,822.2 2276.8,823.6 2277.1,825.1 2277.5,826.6 2277.8,828 2278.1,829.5 2278.4,831 2278.7,832.4 2279,833.9 2279.3,835.4 2279.6,836.9 2279.8,838.3 2280.1,839.8 2280.4,841.3 2280.7,842.8 2280.9,844.2 2281.2,845.7 2281.4,847.2 2281.7,848.7 2281.9,850.2 2282.2,851.6 2282.4,853.1 2282.6,854.6 2282.8,856.1 2283.1,857.6 2283.3,859.1 2283.5,860.5 2283.7,862 2283.9,863.5 2284.1,865 2284.3,866.5 2284.6,868 2284.8,869.5 2285,870.9 2285.2,872.4 2285.4,873.9 2285.6,875.4 2285.8,876.9 2286.1,878.4 2286.3,879.9 2286.5,881.3 2286.7,882.8 2286.9,884.3 2287.1,885.8 2287.3,887.3 2287.5,888.8 2287.7,890.3 2288,891.8 2288.2,893.2 2288.4,894.7 2288.6,896.2 2288.8,897.7 2289,899.2 2289.2,900.7 2289.5,902.2 2289.7,903.6 2289.9,905.1 2290.1,906.6 2290.4,908.1 2290.6,909.6 2290.9,911 2291.1,912.5 2291.4,914 2291.7,915.5 2292,916.9 2292.2,918.4 2292.5,919.9 2292.8,921.3 2293.1,922.8 2293.4,924.3 2293.8,925.8 2294.1,927.2 2294.4,928.7 2294.7,930.2 2295.1,931.6 2295.4,933.1 2295.8,934.6 2296.1,936 2296.5,937.5 2296.8,938.9 2297.2,940.4 2297.5,941.9 2297.9,943.3 2298.3,944.8 2298.6,946.2 2299,947.7 2299.4,949.1 2299.7,950.6 2300.1,952 2300.5,953.4 2300.9,954.9 2301.4,956.3 2301.8,957.8 2302.2,959.2 2302.7,960.7 2303.1,962.1 2303.6,963.5 2304.1,965 2304.6,966.4 2305,967.8 2305.5,969.2 2306,970.7 2306.6,972.1 2307.1,973.5 2307.6,974.9 2308.1,976.3 2308.7,977.7 2309.2,979.1 2309.8,980.4 2310.3,981.8 2310.9,983.2 2311.6,984.6 2312.2,985.9 2312.8,987.3 2313.5,988.6 2314.2,990 2314.9,991.3 2315.6,992.6 2316.3,994 2317.1,995.3 2317.8,996.6 2318.5,997.9 2319.3,999.2 2320,1000.5 2320.8,1001.7 2321.6,1003 2322.4,1004.3 2323.3,1005.5 2324.1,1006.8 2325,1008 2325.9,1009.2 2326.8,1010.4 2327.7,1011.7 2328.6,1012.8 2329.5,1014 2330.4,1015.2 2331.3,1016.4 2332.3,1017.6 2333.3,1018.7 2334.4,1019.7 2335.6,1020.6 2336.9,1021.5 2338.3,1022.2 2339.7,1022.6 2341.1,1022.5 2342.5,1021.9 2343.9,1021.1 2345.2,1020.2 2346.4,1019.3 2347.5,1018.4 2348.6,1017.3 2349.6,1016.2 2350.6,1015.1 2351.6,1014 2352.6,1012.8 2353.6,1011.7 2354.6,1010.5 2355.6,1009.4 2356.5,1008.2 2357.4,1007 2358.3,1005.7 2359,1004.5 2359.8,1003.2 2360.5,1001.9 2361.1,1000.6 2361.8,999.3 2362.5,997.9 2363.1,996.5 2363.7,995.1 2364.3,993.7 2364.9,992.3 2365.4,990.9 2365.9,989.4 2366.4,988 2366.8,986.6 2367.2,985.1 2367.5,983.7 2367.8,982.2 2368.2,980.8 2368.5,979.3 2368.8,977.9 2369.1,976.4 2369.3,975 2369.6,973.5 2369.9,972 2370.2,970.5 2370.4,969 2370.7,967.6 2371,966.1 2371.2,964.6 2371.5,963.1 2371.7,961.6 2371.9,960.1 2372.2,958.6 2372.4,957.1 2372.6,955.6 2372.9,954.1 2373.1,952.7 2373.3,951.2 2373.5,949.7 2373.7,948.2 2373.9,946.7 2374.1,945.2 2374.3,943.8 2374.5,942.3 2374.7,940.8 2374.9,939.3 2375.1,937.8 2375.3,936.3 2375.5,934.8 2375.7,933.3 2375.9,931.8 2376.1,930.4 2376.3,928.9 2376.5,927.4 2376.7,925.9 2376.9,924.4 2377.1,922.9 2377.3,921.4 2377.5,919.9 2377.7,918.5 2377.9,917 2378.1,915.5 2378.3,914 2378.5,912.5 2378.7,911 2378.8,909.5 2379,908 2379.2,906.5 2379.4,905.1 2379.6,903.6 2379.8,902.1 2380,900.6 2380.2,899.1 2380.4,897.6 2380.6,896.1 2380.8,894.6 2381,893.2 2381.2,891.7 2381.5,890.2 2381.7,888.7 2381.9,887.2 2382.1,885.7 2382.4,884.3 2382.6,882.8 2382.9,881.3 2383.1,879.8 2383.4,878.3 2383.6,876.9 2383.9,875.4 2384.2,873.9 2384.4,872.4 2384.7,871 2384.9,869.5 2385.2,868 2385.4,866.5 2385.7,865 2385.9,863.5 2386.1,862 2386.3,860.5 2386.5,859.1 2386.7,857.6 2386.9,856.1 2387.1,854.6 2387.4,853.1 2387.7,851.6 2388,850.2 2388.4,848.6 2389,846.8 2389.8,845.8 2390.5,846.2 2391.4,847.6 2392.1,849.3 2392.5,850.8 2392.9,852.2 2393.2,853.7 2393.5,855.2 2393.8,856.6 2394.1,858.1 2394.4,859.6 2394.6,861.1 2394.8,862.6 2395.1,864.1 2395.3,865.6 2395.6,867 2395.8,868.5 2396.1,870 2396.4,871.5 2396.6,873 2396.9,874.4 2397.1,875.9 2397.4,877.4 2397.6,878.9 2397.9,880.4 2398.1,881.8 2398.4,883.3 2398.6,884.8 2398.8,886.3 2399.1,887.8 2399.3,889.2 2399.5,890.7 2399.7,892.2 2400,893.7 2400.2,895.2 2400.4,896.7 2400.6,898.2 2400.8,899.6 2401,901.1 2401.2,902.6 2401.4,904.1 2401.6,905.6 2401.8,907.1 2402,908.6 2402.2,910.1 2402.4,911.5 2402.5,913 2402.7,914.5 2402.9,916 2403.1,917.5 2403.3,919 2403.5,920.5 2403.6,922 2403.8,923.5 2404,925 2404.2,926.4 2404.3,927.9 2404.5,929.4 2404.6,930.9 2404.8,932.4 2405,933.9 2405.1,935.4 2405.3,936.9 2405.4,938.4 2405.6,939.9 2405.7,941.4 2405.9,942.9 2406.1,944.4 2406.2,945.9 2406.4,947.3 2406.6,948.8 2406.7,950.3 2406.9,951.8 2407.1,953.3 2407.3,954.8 2407.5,956.3 2407.7,957.8 2407.9,959.2 2408.1,960.7 2408.3,962.2 2408.6,963.7 2408.8,965.2 2409,966.7 2409.3,968.2 2409.6,969.6 2409.8,971.1 2410.1,972.6 2410.3,974.1 2410.6,975.5 2410.9,977 2411.2,978.5 2411.4,980 2411.7,981.4 2412,982.9 2412.3,984.4 2412.6,985.9 2413,987.4 2413.3,988.9 2413.7,990.3 2414.1,991.8 2414.6,993.2 2415,994.6 2415.5,995.9 2416.1,997.3 2416.7,998.6 2417.5,999.9 2418.3,1001.2 2419.2,1002.4 2420.1,1003.6 2421.1,1004.9 2422,1006 2423,1007.2 2423.9,1008.3 2424.9,1009.5 2426,1010.6 2427,1011.6 2428.1,1012.7 2429.2,1013.7 2430.3,1014.7 2431.4,1015.7 2432.6,1016.7 2433.7,1017.7 2434.9,1018.6 2436.1,1019.5 2437.3,1020.4 2438.6,1021.2 2439.9,1022 2441.2,1022.7 2442.6,1023.5 2444,1024.2 2445.4,1024.8 2446.8,1025.4 2448.2,1025.8 2449.6,1026.1 2451,1026.1 2452.5,1025.7 2454,1025 2455.3,1024.2 2456.4,1023.3 2457.4,1022.2 2458.3,1020.9 2459.2,1019.6 2459.9,1018.3 2460.5,1017 2461.1,1015.6 2461.7,1014.2 2462.3,1012.8 2462.8,1011.4 2463.3,1010 2463.8,1008.6 2464.3,1007.1 2464.8,1005.7 2465.3,1004.3 2465.8,1002.9 2466.2,1001.5 2466.7,1000 2467.1,998.6 2467.6,997.2 2468.1,995.7 2468.5,994.3 2469,992.9 2469.6,991.5 2470.1,990.1 2470.6,988.7 2471.2,987.3 2471.7,985.9 2472.3,984.5 2472.9,983.1 2473.5,981.8 2474.2,980.4 2474.9,979 2475.6,977.7 2476.4,976.4 2477.3,975.2 2478.2,974.1 2479.3,973.1 2480.7,972.1 2482.1,971.3 2483.5,970.9 2484.8,971 2486.2,971.7 2487.5,972.6 2488.6,973.7 2489.5,974.8 2490.4,976.1 2491.2,977.4 2492,978.6 2492.9,979.8 2493.8,981.1 2494.7,982.3 2495.6,983.5 2496.5,984.7 2497.4,985.9 2498.3,987.1 2499.2,988.3 2500.1,989.5 2501,990.7 2501.9,991.9 2502.8,993 2503.8,994.2 2504.7,995.4 2505.5,996.6 2506.4,997.9 2507.3,999.1 2508.1,1000.3 2508.9,1001.6 2509.7,1002.9 2510.6,1004.1 2511.4,1005.4 2512.2,1006.6 2513.1,1007.9 2513.9,1009.1 2514.8,1010.3 2515.7,1011.5 2516.6,1012.8 2517.5,1014 2518.4,1015.1 2519.3,1016.3 2520.3,1017.5 2521.2,1018.6 2522.2,1019.8 2523.3,1020.9 2524.4,1022 2525.5,1022.9 2526.7,1023.7 2528,1024.3 2529.4,1025 2530.9,1025.5 2532.4,1026 2533.8,1026.2 2535.3,1026.4 2536.8,1026.5 2538.2,1026.6 2539.7,1026.7 2541.2,1026.8 2542.7,1026.9 2544.2,1027 2545.8,1027.1 2547.3,1027.2 2548.8,1027.3 2550.3,1027.4 2551.8,1027.4 2553.3,1027.5 2554.8,1027.6 2556.3,1027.7 2557.8,1027.8 2559.3,1027.8 2560.8,1027.9 2562.3,1028 2563.8,1028.1 2565.3,1028.2 2566.8,1028.2 2568.3,1028.3 2569.8,1028.3 2571.3,1028.4 2572.8,1028.4 2574.3,1028.4 2575.8,1028.4 2577.3,1028.3 2578.8,1028.2 2580.3,1028.1 2581.8,1028 2583.3,1027.8 2584.8,1027.6 2586.3,1027.4 2587.7,1027.3 2589.2,1027.1 2590.7,1026.9 2592.2,1026.6 2593.7,1026.3 2595.2,1026 2596.6,1025.8 2598.1,1025.6 2599.6,1025.6 2601.1,1025.6 2602.6,1025.6 2604.1,1025.6 2605.6,1025.6 2607.1,1025.6 2608.6,1025.6 2610.1,1025.6 2611.6,1025.6 2613.1,1025.6 2614.6,1025.6 2616.1,1025.6 2617.6,1025.6 2619.1,1025.6 2620.6,1025.6 2622.1,1025.6 2623.6,1025.6 2625.1,1025.6 2626.6,1025.6 2628.1,1025.6 2629.6,1025.6 2631.1,1025.6 2632.6,1025.6 2634.1,1025.6 2635.6,1025.6 2637.1,1025.6 2638.6,1025.6 2640.1,1025.6 2641.6,1025.6 2643.1,1025.6 2644.6,1025.6 2646.1,1025.6 2647.6,1025.6 2649.1,1025.6 2650.6,1025.6 2652.1,1025.6 2653.6,1025.6 2655.1,1025.6 2656.6,1025.6 2658.1,1025.6 2659.6,1025.6 2661.2,1025.6 2662.7,1025.6 2664.2,1025.6 2665.7,1025.6 2667.2,1025.6 2668.7,1025.6 2670.2,1025.6 2671.7,1025.6 2673.2,1025.6 2674.7,1025.6 2676.2,1025.6 2677.7,1025.6 2679.2,1025.6 2680.7,1025.6 2682.2,1025.6 2683.7,1025.6 2685.2,1025.6 2686.7,1025.6 2688.2,1025.6 2689.7,1025.6 2691.2,1025.6 2692.7,1025.6 2694.2,1025.6 2695.7,1025.6 2697.2,1025.6 2698.7,1025.6 2700.2,1025.6 2701.7,1025.6 2703.2,1025.6 2704.7,1025.6 2706.2,1025.6 2707.7,1025.6 2709.2,1025.6 2710.7,1025.6 2712.2,1025.6 2713.7,1025.6 2715.2,1025.6 2716.7,1025.6 2718.2,1025.6 2719.7,1025.6 2721.2,1025.6 2722.7,1025.6 2724.2,1025.6 2725.7,1025.6 2727.2,1025.6 2728.7,1025.6 2730.2,1025.6 2731.7,1025.6 2733.2,1025.6 2734.7,1025.6 2736.2,1025.6 2737.7,1025.6 2739.2,1025.6 2740.7,1025.6 2742.2,1025.6 2743.7,1025.6 2745.2,1025.6 2746.7,1025.6 2748.2,1025.6 2749.7,1025.6 2751.2,1025.6 2752.7,1025.6 2754.2,1025.6 2755.7,1025.6 2757.2,1025.6 2758.7,1025.6 2760.2,1025.6 2761.7,1025.6 2763.2,1025.6 2764.7,1025.6 2766.2,1025.6 2767.7,1025.6 2769.2,1025.6 2770.7,1025.6 2772.2,1025.6 2773.7,1025.6 2775.2,1025.6 2776.7,1025.6 2778.2,1025.6 2779.7,1025.6 2781.2,1025.6 2782.7,1025.6 2784.2,1025.6 2785.7,1025.6 2787.2,1025.6 2788.7,1025.6 2790.2,1025.6 2791.7,1025.6 2793.2,1025.6 2794.7,1025.6 2796.2,1025.6 2797.7,1025.6 2799.2,1025.6 2800.7,1025.6 2802.2,1025.6 2803.7,1025.6 2805.2,1025.6 2806.7,1025.6 2808.2,1025.6 2809.7,1025.6 2811.2,1025.6 2812.7,1025.6 2814.2,1025.6 2815.7,1025.6 2817.2,1025.6 2818.7,1025.6 2820.2,1025.6 2821.7,1025.6 2823.2,1025.6 2824.7,1025.6 2826.2,1025.6 2827.7,1025.6 2829.2,1025.6 2830.7,1025.6 2832.2,1025.6 2833.7,1025.6 2835.2,1025.6 2836.7,1025.6 2838.2,1025.6 2839.7,1025.6 2841.2,1025.6 2842.7,1025.6 2844.2,1025.6 2845.7,1025.6 2847.2,1025.6 2848.7,1025.6 2850.2,1025.6 2851.7,1025.6 2853.2,1025.6 2854.7,1025.6 2856.2,1025.6 2857.7,1025.6 2859.2,1025.6 2860.7,1025.6 2862.2,1025.6 2863.7,1025.6 2865.2,1025.6 2866.7,1025.6 2868.2,1025.6 2869.7,1025.6 2871.2,1025.6 2872.7,1025.6 2874.2,1025.6 2875.7,1025.6 2877.2,1025.6 2878.7,1025.6 2880.2,1025.6 2881.7,1025.6 2883.2,1025.6 2884.7,1025.6 2886.2,1025.6 2887.7,1025.6 2889.2,1025.6 2890.7,1025.6 2892.2,1025.6 2893.7,1025.6 2895.2,1025.6 2896.7,1025.6 2898.2,1025.6 2899.7,1025.6 2901.2,1025.6 2902.7,1025.6 2904.3,1025.6 2905.8,1025.6 2907.3,1025.6 2908.8,1025.6 2910.3,1025.6 2911.8,1025.6 2913.3,1025.6 2914.8,1025.6 2916.3,1025.6 2917.8,1025.6 2919.3,1025.6 2920.8,1025.6 2922.3,1025.6 2923.8,1025.6 2925.3,1025.6 2926.8,1025.6 2928.3,1025.6 2929.8,1025.6 2931.3,1025.6 2932.8,1025.6 2934.3,1025.6 2935.8,1025.6 2937.3,1025.6 2938.8,1025.6 2940.3,1025.6 2941.8,1025.6 2943.3,1025.6 2944.8,1025.6 2946.3,1025.6 2947.8,1025.6 2949.3,1025.6 2950.8,1025.6 2952.3,1025.6 2953.8,1025.6 2955.3,1025.6 2956.8,1025.6 2958.3,1025.6 2959.8,1025.6 2961.3,1025.6 2962.8,1025.6 2964.3,1025.6 2965.8,1025.6 2967.3,1025.6 2968.8,1025.6 2970.3,1025.6 2971.8,1025.6 2973.3,1025.6 2974.8,1025.6 2976.3,1025.6 2977.8,1025.6 2979.3,1025.6 2980.8,1025.6 2982.3,1025.6 2983.8,1025.6 2985.3,1025.6 2986.8,1025.6 2988.3,1025.6 2989.8,1025.6 2991.3,1025.6 2992.8,1025.6 2994.3,1025.6 2995.8,1025.6 2997.3,1025.6 2998.8,1025.6 3000.3,1025.6 3001.8,1025.6 3003.3,1025.6 3004.8,1025.6 3006.3,1025.6 3007.8,1025.6 3009.3,1025.6 3010.8,1025.6 3012.3,1025.6 3013.8,1025.6 3015.3,1025.6 3016.8,1025.6 3018.3,1025.6 3019.8,1025.6 3021.3,1025.6 3022.8,1025.6 3024.3,1025.6 3025.8,1025.6 3027.3,1025.6 3028.8,1025.6 3030.3,1025.6 3031.8,1025.6 3033.3,1025.6 3034.8,1025.6 3036.3,1025.6 3037.8,1025.6 3039.3,1025.6 3040.8,1025.6 3042.3,1025.6 3043.8,1025.6 3045.3,1025.6 3046.8,1025.6 3048.3,1025.6 3049.8,1025.6 3051.3,1025.6 3052.8,1025.6 3054.3,1025.6 3055.8,1025.6 3057.3,1025.6 3058.8,1025.6 3060.3,1025.6 3061.8,1025.6 3063.3,1025.6 3064.8,1025.6 3066.3,1025.6 3067.8,1025.6 3069.3,1025.6 3070.8,1025.6 3072.3,1025.6 3073.8,1025.6 3075.3,1025.6 3076.8,1025.6 3078.3,1025.6 3079.8,1025.6 3081.3,1025.6 3082.8,1025.6 3084.3,1025.6 3085.8,1025.6 3087.3,1025.6 3088.8,1025.6 3090.3,1025.6 3091.8,1025.6 3093.3,1025.6 3094.8,1025.6 3096.3,1025.6 3097.8,1025.6 3099.3,1025.6 3100.8,1025.6 3102.3,1025.6 3103.8,1025.6 3105.3,1025.6 3106.8,1025.6 3108.3,1025.6 3109.8,1025.6 3111.3,1025.6 3112.8,1025.6 3114.3,1025.6 3115.8,1025.6 3117.3,1025.6 3118.8,1025.6 3120.3,1025.6 3121.8,1025.6 3123.3,1025.6 3124.8,1025.6 3126.3,1025.6 3127.8,1025.6 3129.3,1025.6 3130.8,1025.6 3132.3,1025.6 3133.8,1025.6 3135.3,1025.6 3136.8,1025.6 3138.3,1025.6 3139.8,1025.6 3141.3,1025.6 3142.8,1025.6 3144.3,1025.6 3145.9,1025.6 3147.4,1025.6 3148.9,1025.6 3150.4,1025.6 3151.9,1025.6 3153.4,1025.6 3154.9,1025.6 3156.4,1025.6 3157.9,1025.6 3159.4,1025.6 3160.9,1025.6 3162.4,1025.6 3163.9,1025.6 3165.4,1025.6 3166.9,1025.6 3168.4,1025.6 3169.9,1025.6 3171.4,1025.6 3172.9,1025.6 3174.4,1025.6 3175.9,1025.6 3177.4,1025.6 3178.9,1025.6 3180.4,1025.6 3181.9,1025.6 3183.4,1025.6 3184.9,1025.6 3186.4,1025.6 3187.9,1025.6 3189.4,1025.6 3190.9,1025.6 3192.4,1025.6 3193.9,1025.6 3195.4,1025.6 3196.9,1025.6 3198.4,1025.6 3199.9,1025.6 3201.4,1025.6 3202.9,1025.6 3204.4,1025.6 3205.9,1025.6 3207.4,1025.6 3208.9,1025.6 3210.4,1025.6 3211.9,1025.6 3213.4,1025.6 3214.9,1025.6 3216.4,1025.6 3217.9,1025.6 3219.4,1025.6 3220.9,1025.6 3222.4,1025.6 3223.9,1025.6 3225.4,1025.6 3226.9,1025.6 3228.4,1025.6 3229.9,1025.6 3231.4,1025.6 3232.9,1025.6 3234.4,1025.6 3235.9,1025.6 3237.4,1025.6 3238.9,1025.6 3240.4,1025.6 3241.9,1025.6 3243.4,1025.6 3244.9,1025.6 3246.4,1025.6 3247.9,1025.6 3249.4,1025.6 3250.9,1025.6 3252.4,1025.6 3253.9,1025.6 3255.4,1025.6 3256.9,1025.6 3258.4,1025.6 3259.9,1025.6 3261.4,1025.6 3262.9,1025.6 3264.4,1025.6 3265.9,1025.6 3267.4,1025.6 3268.9,1025.6 3270.4,1025.6 3271.9,1025.6 3273.4,1025.6 3274.9,1025.6 3276.4,1025.6 3277.9,1025.6 3279.4,1025.6 3280.9,1025.6 3282.4,1025.6 3283.9,1025.6 3285.4,1025.6 3286.9,1025.6 3288.4,1025.6 3289.9,1025.6 3291.4,1025.6 3292.9,1025.6 3294.4,1025.6 3295.9,1025.6 3297.4,1025.6 3298.9,1025.6 3300.4,1025.6 3301.9,1025.6 3303.4,1025.6 3304.9,1025.6 3306.4,1025.6 3307.9,1025.6 3309.4,1025.6 3310.9,1025.6 3312.4,1025.6 3313.9,1025.6 3315.4,1025.6 3316.9,1025.6 3318.4,1025.6 3319.9,1025.6 3321.4,1025.6 3322.9,1025.6 3324.4,1025.6 3325.9,1025.6 3327.4,1025.6 3328.9,1025.6 3330.4,1025.6 3331.9,1025.6 3333.4,1025.6 3334.9,1025.6 3336.4,1025.6 3337.9,1025.6 3339.4,1025.6 3340.9,1025.6 3342.4,1025.6 3343.9,1025.6 3345.4,1025.6 3346.9,1025.6 3348.4,1025.6 3349.9,1025.6 3351.4,1025.6 3352.9,1025.6 3354.4,1025.6 3355.9,1025.6 3357.4,1025.6 3358.9,1025.6 3360.4,1025.6 3361.9,1025.6 3363.4,1025.6 3364.9,1025.6 3366.4,1025.6 3367.9,1025.6 3369.4,1025.6 3370.9,1025.6 3372.4,1025.6 3373.9,1025.6 3375.4,1025.6 3376.9,1025.6 3378.4,1025.6 3379.9,1025.6 3381.4,1025.6 3382.9,1025.6 3384.4,1025.6 3385.9,1025.6 3387.4,1025.6 3389,1025.6 3390.5,1025.6 3392,1025.6 3393.5,1025.6 3395,1025.6 3396.5,1025.6 3398,1025.6 3399.5,1025.6 3401,1025.6 3402.5,1025.6 3404,1025.6 3405.5,1025.6 3407,1025.6 3408.5,1025.6 3410,1025.6 3411.5,1025.6 3413,1025.6 3414.5,1025.6 3416,1025.6 3417.5,1025.6 3419,1025.6 3420.5,1025.6 3422,1025.6 3423.5,1025.6 3425,1025.6 3426.5,1025.6 3428,1025.6 3429.5,1025.6 3431,1025.6 3432.5,1025.6 3434,1025.6 3435.5,1025.6 3437,1025.6 3438.5,1025.6 3440,1025.6 3441.5,1025.6 3443,1025.6 3444.5,1025.6 3446,1025.6 3447.5,1025.6 3449,1025.6 3450.5,1025.6 3452,1025.6 3453.5,1025.6 3455,1025.6 3456.5,1025.6 3458,1025.6 3459.5,1025.6 3461,1025.6 3462.5,1025.6 3464,1025.6 3465.5,1025.6 3467,1025.6 3468.5,1025.6 3470,1025.6 3471.5,1025.6 3473,1025.6 3474.5,1025.6 3476,1025.6 3477.5,1025.6 3479,1025.6 3480.5,1025.6 3482,1025.6 3483.5,1025.6 3485,1025.6 3486.5,1025.6 3488,1025.6 3489.5,1025.6 3491,1025.6 3492.5,1025.6 3494,1025.6 3495.5,1025.6 3497,1025.6 3498.5,1025.6 3500,1025.6 3501.5,1025.6 3503,1025.6 3504.5,1025.6 3506,1025.6 3507.5,1025.6 3509,1025.6" fill="none" stroke="#2d58a8" stroke-width="4.2" stroke-linecap="round" stroke-linejoin="round"/>
<path d="M2138.5,1025.6 2138.5,1024.1 2138.5,1022.6 2138.5,1021.1 2138.6,1019.6 2138.6,1018.1 2138.6,1016.6 2138.6,1015.1 2138.6,1013.6 2138.6,1012.1 2138.7,1010.6 2138.7,1009.1 2138.7,1007.6 2138.7,1006.1 2138.7,1004.6 2138.7,1003.1 2138.8,1001.6 2138.8,1000.1 2138.8,998.6 2138.8,997.1 2138.8,995.6 2138.9,994.1 2138.9,992.6 2138.9,991.1 2138.9,989.6 2138.9,988.1 2139,986.6 2139,985.1 2139,983.6 2139,982 2139,980.5 2139.1,979 2139.1,977.5 2139.1,976 2139.1,974.5 2139.1,973 2139.2,971.5 2139.2,970 2139.2,968.5 2139.2,967 2139.3,965.5 2139.3,964 2139.3,962.5 2139.3,961 2139.4,959.5 2139.4,958 2139.4,956.5 2139.4,955 2139.5,953.5 2139.5,952 2139.5,950.5 2139.5,949 2139.6,947.5 2139.6,946 2139.6,944.5 2139.6,943 2139.7,941.5 2139.7,940 2139.7,938.5 2139.7,937 2139.8,935.5 2139.8,934 2139.8,932.5 2139.8,931 2139.9,929.5 2139.9,928 2139.9,926.5 2139.9,925 2140,923.5 2140,922 2140,920.5 2140,919 2140.1,917.5 2140.1,916 2140.1,914.5 2140.1,913 2140.2,911.5 2140.2,910 2140.2,908.5 2140.3,907 2140.3,905.5 2140.3,904 2140.3,902.5 2140.4,901 2140.4,899.5 2140.4,898 2140.5,896.5 2140.5,895 2140.5,893.5 2140.5,892 2140.6,890.4 2140.6,888.9 2140.6,887.4 2140.7,885.9 2140.7,884.4 2140.7,882.9 2140.8,881.4 2140.8,879.9 2140.8,878.4 2140.8,876.9 2140.9,875.4 2140.9,873.9 2140.9,872.4 2141,870.9 2141,869.4 2141,867.9 2141.1,866.4 2141.1,864.9 2141.1,863.4 2141.2,861.9 2141.2,860.4 2141.2,858.9 2141.3,857.4 2141.3,855.9 2141.3,854.4 2141.4,852.9 2141.4,851.4 2141.4,849.9 2141.5,848.4 2141.5,846.9 2141.5,845.4 2141.6,843.9 2141.6,842.4 2141.6,840.9 2141.7,839.4 2141.7,837.9 2141.7,836.4 2141.8,834.9 2141.8,833.4 2141.8,831.9 2141.9,830.4 2141.9,828.9 2142,827.4 2142,825.9 2142,824.4 2142.1,822.9 2142.1,821.4 2142.1,819.9 2142.2,818.4 2142.2,816.9 2142.2,815.4 2142.3,813.9 2142.3,812.4 2142.3,810.9 2142.4,809.4 2142.4,807.9 2142.4,806.4 2142.5,804.9 2142.5,803.4 2142.6,801.9 2142.6,800.4 2142.6,798.9 2142.7,797.4 2142.7,795.9 2142.7,794.4 2142.8,792.9 2142.8,791.4 2142.8,789.9 2142.9,788.3 2142.9,786.8 2142.9,785.3 2143,783.8 2143,782.3 2143,780.8 2143.1,779.3 2143.1,777.8 2143.2,776.3 2143.2,774.8 2143.2,773.3 2143.3,771.8 2143.3,770.3 2143.3,768.8 2143.4,767.3 2143.4,765.8 2143.4,764.3 2143.5,762.8 2143.5,761.3 2143.5,759.8 2143.6,758.3 2143.6,756.8 2143.6,755.3 2143.7,753.8 2143.7,752.3 2143.7,750.8 2143.8,749.3 2143.8,747.8 2143.9,746.3 2143.9,744.8 2143.9,743.3 2144,741.8 2144,740.3 2144,738.8 2144.1,737.3 2144.1,735.8 2144.1,734.3 2144.2,732.8 2144.2,731.3 2144.3,729.8 2144.3,728.3 2144.3,726.8 2144.4,725.3 2144.4,723.8 2144.4,722.3 2144.5,720.8 2144.5,719.3 2144.5,717.8 2144.6,716.3 2144.6,714.8 2144.6,713.3 2144.7,711.8 2144.7,710.3 2144.8,708.8 2144.8,707.3 2144.8,705.8 2144.9,704.3 2144.9,702.8 2144.9,701.3 2145,699.8 2145,698.3 2145.1,696.8 2145.1,695.3 2145.1,693.8 2145.2,692.3 2145.2,690.8 2145.2,689.3 2145.3,687.8 2145.3,686.3 2145.3,684.8 2145.4,683.2 2145.4,681.7 2145.4,680.2 2145.5,678.7 2145.5,677.2 2145.6,675.7 2145.6,674.2 2145.6,672.7 2145.7,671.2 2145.7,669.7 2145.7,668.2 2145.8,666.7 2145.8,665.2 2145.8,663.7 2145.9,662.2 2145.9,660.7 2146,659.2 2146,657.7 2146,656.2 2146.1,654.7 2146.1,653.2 2146.1,651.7 2146.2,650.2 2146.2,648.7 2146.2,647.2 2146.3,645.7 2146.3,644.2 2146.3,642.7 2146.4,641.2 2146.4,639.7 2146.4,638.2 2146.5,636.7 2146.5,635.2 2146.5,633.7 2146.6,632.2 2146.6,630.7 2146.6,629.2 2146.7,627.7 2146.7,626.2 2146.8,624.7 2146.8,623.2 2146.8,621.7 2146.9,620.2 2146.9,618.7 2146.9,617.2 2147,615.7 2147,614.2 2147,612.7 2147.1,611.2 2147.1,609.7 2147.1,608.2 2147.2,606.7 2147.2,605.2 2147.2,603.7 2147.3,602.2 2147.3,600.7 2147.3,599.2 2147.4,597.7 2147.4,596.2 2147.4,594.7 2147.5,593.2 2147.5,591.7 2147.5,590.2 2147.6,588.7 2147.6,587.2 2147.6,585.7 2147.7,584.2 2147.7,582.7 2147.7,581.2 2147.8,579.6 2147.8,578.1 2147.8,576.6 2147.9,575.1 2147.9,573.6 2147.9,572.1 2148,570.6 2148,569.1 2148,567.6 2148.1,566.1 2148.1,564.6 2148.1,563.1 2148.2,561.6 2148.2,560.1 2148.2,558.6 2148.3,557.1 2148.3,555.6 2148.3,554.1 2148.4,552.6 2148.4,551.1 2148.4,549.6 2148.5,548.1 2148.5,546.6 2148.5,545.1 2148.6,543.6 2148.6,542.1 2148.6,540.6 2148.7,539.1 2148.7,537.6 2148.7,536.1 2148.8,534.6 2148.8,533.1 2148.8,531.6 2148.9,530.1 2148.9,528.6 2148.9,527.1 2149,525.6 2149,524.1 2149,522.6 2149.1,521.1 2149.1,519.6 2149.1,518.1 2149.2,516.6 2149.2,515.1 2149.2,513.6 2149.2,512.1 2149.3,510.6 2149.3,509.1 2149.3,507.6 2149.4,506.1 2149.4,504.6 2149.4,503.1 2149.5,501.6 2149.5,500.1 2149.5,498.6 2149.6,497.1 2149.6,495.6 2149.6,494.1 2149.7,492.6 2149.7,491.1 2149.7,489.6 2149.7,488.1 2149.8,486.6 2149.8,485.1 2149.8,483.6 2149.9,482.1 2149.9,480.5 2149.9,479 2149.9,477.5 2150,476 2150,474.5 2150,473 2150.1,471.5 2150.1,470 2150.1,468.5 2150.2,467 2150.2,465.5 2150.2,464 2150.2,462.5 2150.3,461 2150.3,459.5 2150.3,458 2150.3,456.5 2150.4,455 2150.4,453.5 2150.4,452 2150.5,450.5 2150.5,449 2150.5,447.5 2150.5,446 2150.6,444.5 2150.6,443 2150.6,441.5 2150.7,440 2150.7,438.5 2150.7,437 2150.7,435.5 2150.8,434 2150.8,432.5 2150.8,431 2150.8,429.5 2150.9,428 2150.9,426.5 2150.9,425 2151,423.5 2151,422 2151,420.5 2151,419 2151.1,417.5 2151.1,416 2151.1,414.5 2151.2,413 2151.2,411.5 2151.2,410 2151.2,408.5 2151.3,407 2151.3,405.5 2151.3,404 2151.4,402.5 2151.4,401 2151.4,399.5 2151.4,398 2151.5,396.5 2151.5,395 2151.5,393.5 2151.6,392 2151.6,390.5 2151.6,389 2151.6,387.5 2151.7,385.9 2151.7,384.4 2151.7,382.9 2151.8,381.4 2151.8,379.9 2151.8,378.4 2151.9,376.9 2151.9,375.4 2151.9,373.9 2151.9,372.4 2152,370.9 2152,369.4 2152,367.9 2152.1,366.4 2152.1,364.9 2152.1,363.4 2152.2,361.9 2152.2,360.4 2152.2,358.9 2152.3,357.4 2152.3,355.9 2152.3,354.4 2152.4,352.9 2152.4,351.4 2152.4,349.9 2152.5,348.4 2152.5,346.9 2152.5,345.4 2152.6,343.9 2152.6,342.4 2152.6,340.9 2152.7,339.4 2152.7,337.9 2152.7,336.4 2152.8,334.9 2152.8,333.4 2152.8,331.9 2152.9,330.4 2152.9,328.9 2152.9,327.4 2153,325.9 2153,324.4 2153,322.9 2153.1,321.4 2153.1,319.9 2153.1,318.4 2153.2,316.9 2153.2,315.4 2153.2,313.9 2153.3,312.4 2153.3,310.9 2153.3,309.4 2153.4,307.9 2153.4,306.4 2153.4,304.9 2153.5,303.4 2153.5,301.9 2153.5,300.4 2153.6,298.9 2153.6,297.4 2153.6,295.9 2153.7,294.4 2153.7,292.9 2153.8,291.4 2153.8,289.9 2153.8,288.4 2153.9,286.8 2153.9,285.3 2153.9,283.8 2154,282.3 2154,280.8 2154.1,279.3 2154.1,277.8 2154.1,276.3 2154.2,274.8 2154.2,273.3 2154.2,271.8 2154.3,270.3 2154.3,268.8 2154.4,267.3 2154.4,265.8 2154.4,264.3 2154.5,262.8 2154.5,261.3 2154.6,259.8 2154.6,258.3 2154.6,256.8 2154.7,255.3 2154.7,253.8 2154.8,252.3 2154.8,250.8 2154.8,249.3 2154.9,247.8 2154.9,246.3 2155,244.8 2155,243.3 2155.1,241.8 2155.1,240.3 2155.1,238.8 2155.2,237.3 2155.2,235.8 2155.3,234.3 2155.3,232.8 2155.4,231.3 2155.4,229.8 2155.5,228.3 2155.5,226.8 2155.5,225.3 2155.6,223.8 2155.6,222.3 2155.7,220.8 2155.7,219.3 2155.8,217.8 2155.8,216.3 2155.9,214.8 2156,213.3 2156,211.8 2156.1,210.3 2156.1,208.8 2156.2,207.3 2156.2,205.8 2156.3,204.3 2156.4,202.8 2156.4,201.3 2156.5,199.8 2156.6,198.3 2156.6,196.8 2156.7,195.3 2156.7,193.8 2156.8,192.3 2156.9,190.8 2156.9,189.3 2157,187.8 2157.1,186.3 2157.1,184.8 2157.2,183.3 2157.3,181.8 2157.3,180.3 2157.4,178.8 2157.5,177.3 2157.5,175.8 2157.6,174.3 2157.7,172.8 2157.7,171.3 2157.8,169.8 2157.9,168.3 2157.9,166.8 2158,165.3 2158.1,163.8 2158.1,162.3 2158.2,160.8 2158.3,159.3 2158.3,157.8 2158.4,156.3 2158.5,154.8 2158.5,153.3 2158.6,151.8 2158.7,150.3 2158.8,148.8 2158.9,147.3 2158.9,145.8 2159,144.3 2159.1,142.8 2159.2,141.3 2159.2,139.8 2159.3,138.3 2159.4,136.8 2159.5,135.3 2159.6,133.8 2159.6,132.3 2159.7,130.8 2159.8,129.3 2159.9,127.8 2160,126.3 2160.1,124.8 2160.2,123.3 2160.3,121.8 2160.4,120.3 2160.5,118.8 2160.7,117.3 2160.8,115.8 2161,114 2161.3,112 2161.6,110.4 2161.8,109.6 2162.1,110 2162.5,111.4 2162.8,113.2 2163.1,115.1 2163.3,116.7 2163.4,118.2 2163.6,119.7 2163.7,121.2 2163.9,122.7 2164,124.2 2164.1,125.7 2164.2,127.2 2164.3,128.7 2164.4,130.2 2164.6,131.7 2164.7,133.2 2164.8,134.7 2164.9,136.2 2165,137.6 2165.1,139.1 2165.2,140.6 2165.4,142.1 2165.5,143.6 2165.6,145.1 2165.7,146.6 2165.8,148.1 2166,149.6 2166.1,151.1 2166.2,152.6 2166.3,154.1 2166.4,155.6 2166.5,157.1 2166.6,158.6 2166.7,160.1 2166.8,161.6 2166.9,163.1 2167,164.6 2167.1,166.1 2167.1,167.6 2167.2,169.1 2167.3,170.6 2167.4,172.1 2167.4,173.6 2167.5,175.1 2167.6,176.6 2167.6,178.1 2167.7,179.6 2167.8,181.1 2167.9,182.6 2167.9,184.1 2168,185.6 2168.1,187.1 2168.1,188.6 2168.2,190.1 2168.2,191.6 2168.3,193.1 2168.4,194.6 2168.4,196.1 2168.5,197.6 2168.6,199.1 2168.6,200.6 2168.7,202.1 2168.7,203.6 2168.8,205.1 2168.8,206.6 2168.9,208.1 2169,209.6 2169,211.1 2169.1,212.6 2169.1,214.1 2169.2,215.6 2169.2,217.1 2169.3,218.6 2169.3,220.1 2169.4,221.6 2169.5,223.1 2169.5,224.6 2169.6,226.1 2169.6,227.6 2169.7,229.1 2169.7,230.6 2169.8,232.1 2169.8,233.6 2169.9,235.1 2169.9,236.6 2170,238.1 2170,239.6 2170.1,241.1 2170.1,242.6 2170.2,244.1 2170.3,245.6 2170.3,247.1 2170.4,248.6 2170.4,250.1 2170.5,251.6 2170.5,253.1 2170.6,254.6 2170.6,256.1 2170.7,257.7 2170.7,259.2 2170.8,260.7 2170.8,262.2 2170.9,263.7 2170.9,265.2 2171,266.7 2171,268.2 2171.1,269.7 2171.2,271.2 2171.2,272.7 2171.3,274.2 2171.3,275.7 2171.4,277.2 2171.4,278.7 2171.5,280.2 2171.5,281.7 2171.6,283.2 2171.6,284.7 2171.7,286.2 2171.7,287.7 2171.8,289.2 2171.8,290.7 2171.9,292.2 2171.9,293.7 2172,295.2 2172,296.7 2172.1,298.2 2172.1,299.7 2172.2,301.2 2172.2,302.7 2172.3,304.2 2172.3,305.7 2172.4,307.2 2172.4,308.7 2172.5,310.2 2172.5,311.7 2172.6,313.2 2172.6,314.7 2172.7,316.2 2172.7,317.7 2172.8,319.2 2172.8,320.7 2172.9,322.2 2172.9,323.7 2173,325.2 2173,326.7 2173.1,328.2 2173.1,329.7 2173.2,331.2 2173.2,332.7 2173.3,334.2 2173.3,335.7 2173.3,337.2 2173.4,338.7 2173.4,340.2 2173.5,341.7 2173.5,343.2 2173.6,344.7 2173.6,346.2 2173.7,347.7 2173.7,349.2 2173.8,350.7 2173.8,352.2 2173.8,353.7 2173.9,355.2 2173.9,356.7 2174,358.2 2174,359.7 2174.1,361.2 2174.1,362.7 2174.1,364.2 2174.2,365.7 2174.2,367.2 2174.3,368.7 2174.3,370.2 2174.3,371.7 2174.4,373.2 2174.4,374.7 2174.5,376.2 2174.5,377.7 2174.5,379.2 2174.6,380.7 2174.6,382.2 2174.7,383.7 2174.7,385.2 2174.7,386.7 2174.8,388.2 2174.8,389.7 2174.9,391.3 2174.9,392.8 2174.9,394.3 2175,395.8 2175,397.3 2175,398.8 2175.1,400.3 2175.1,401.8 2175.1,403.3 2175.2,404.8 2175.2,406.3 2175.3,407.8 2175.3,409.3 2175.3,410.8 2175.4,412.3 2175.4,413.8 2175.4,415.3 2175.5,416.8 2175.5,418.3 2175.5,419.8 2175.6,421.3 2175.6,422.8 2175.6,424.3 2175.7,425.8 2175.7,427.3 2175.8,428.8 2175.8,430.3 2175.8,431.8 2175.9,433.3 2175.9,434.8 2175.9,436.3 2176,437.8 2176,439.3 2176,440.8 2176.1,442.3 2176.1,443.8 2176.1,445.3 2176.2,446.8 2176.2,448.3 2176.2,449.8 2176.3,451.3 2176.3,452.8 2176.3,454.3 2176.4,455.8 2176.4,457.3 2176.4,458.8 2176.5,460.3 2176.5,461.8 2176.5,463.3 2176.6,464.8 2176.6,466.3 2176.6,467.8 2176.7,469.3 2176.7,470.8 2176.7,472.3 2176.8,473.8 2176.8,475.3 2176.8,476.8 2176.9,478.3 2176.9,479.8 2177,481.3 2177,482.8 2177,484.3 2177.1,485.8 2177.1,487.3 2177.1,488.8 2177.2,490.3 2177.2,491.8 2177.2,493.3 2177.3,494.9 2177.3,496.4 2177.3,497.9 2177.4,499.4 2177.4,500.9 2177.5,502.4 2177.5,503.9 2177.5,505.4 2177.6,506.9 2177.6,508.4 2177.6,509.9 2177.7,511.4 2177.7,512.9 2177.7,514.4 2177.8,515.9 2177.8,517.4 2177.9,518.9 2177.9,520.4 2177.9,521.9 2178,523.4 2178,524.9 2178,526.4 2178.1,527.9 2178.1,529.4 2178.1,530.9 2178.2,532.4 2178.2,533.9 2178.2,535.4 2178.3,536.9 2178.3,538.4 2178.3,539.9 2178.4,541.4 2178.4,542.9 2178.5,544.4 2178.5,545.9 2178.5,547.4 2178.6,548.9 2178.6,550.4 2178.6,551.9 2178.7,553.4 2178.7,554.9 2178.7,556.4 2178.8,557.9 2178.8,559.4 2178.8,560.9 2178.9,562.4 2178.9,563.9 2179,565.4 2179,566.9 2179,568.4 2179.1,569.9 2179.1,571.4 2179.1,572.9 2179.2,574.4 2179.2,575.9 2179.2,577.4 2179.3,578.9 2179.3,580.4 2179.4,581.9 2179.4,583.4 2179.4,584.9 2179.5,586.4 2179.5,587.9 2179.5,589.4 2179.6,590.9 2179.6,592.4 2179.7,594 2179.7,595.5 2179.7,597 2179.8,598.5 2179.8,600 2179.9,601.5 2179.9,603 2179.9,604.5 2180,606 2180,607.5 2180.1,609 2180.1,610.5 2180.2,612 2180.2,613.5 2180.2,615 2180.3,616.5 2180.3,618 2180.4,619.5 2180.4,621 2180.5,622.5 2180.5,624 2180.5,625.5 2180.6,627 2180.6,628.5 2180.7,630 2180.7,631.5 2180.8,633 2180.8,634.5 2180.9,636 2180.9,637.5 2181,639 2181,640.5 2181.1,642 2181.1,643.5 2181.2,645 2181.2,646.5 2181.3,648 2181.3,649.5 2181.4,651 2181.4,652.5 2181.5,654 2181.6,655.5 2181.6,657 2181.7,658.5 2181.7,660 2181.8,661.5 2181.9,663 2181.9,664.5 2182,666 2182.1,667.5 2182.1,669 2182.2,670.5 2182.3,672 2182.3,673.5 2182.4,675 2182.5,676.5 2182.5,678 2182.6,679.5 2182.7,681 2182.7,682.5 2182.8,684 2182.9,685.5 2183,687 2183,688.5 2183.1,690 2183.2,691.5 2183.3,693 2183.3,694.5 2183.4,696 2183.5,697.5 2183.6,699 2183.7,700.5 2183.7,702 2183.8,703.5 2183.9,705 2184,706.5 2184.1,708 2184.2,709.5 2184.2,711 2184.3,712.5 2184.4,714 2184.5,715.5 2184.6,717 2184.7,718.5 2184.7,720 2184.8,721.5 2184.9,723 2185,724.5 2185.1,726 2185.2,727.5 2185.3,729 2185.3,730.5 2185.4,732 2185.5,733.5 2185.6,735 2185.7,736.5 2185.8,738 2185.9,739.5 2186,741 2186.1,742.5 2186.1,744 2186.2,745.5 2186.3,747 2186.4,748.5 2186.5,750 2186.6,751.5 2186.7,753 2186.8,754.5 2186.9,756 2187,757.5 2187,759 2187.1,760.5 2187.2,762 2187.3,763.5 2187.4,765 2187.5,766.5 2187.6,768 2187.7,769.5 2187.8,771 2187.8,772.5 2187.9,774 2188,775.5 2188.1,777 2188.2,778.5 2188.3,780 2188.4,781.5 2188.5,783 2188.6,784.5 2188.7,786 2188.8,787.5 2188.9,789 2189,790.5 2189.1,792 2189.2,793.5 2189.3,794.9 2189.4,796.4 2189.5,797.9 2189.6,799.4 2189.7,800.9 2189.8,802.4 2189.9,803.9 2190,805.4 2190.1,806.9 2190.2,808.4 2190.3,809.9 2190.4,811.4 2190.5,812.9 2190.6,814.4 2190.7,815.9 2190.9,817.4 2191,818.9 2191.1,820.4 2191.2,821.9 2191.3,823.4 2191.4,824.9 2191.5,826.4 2191.6,827.9 2191.7,829.4 2191.8,830.9 2191.9,832.4 2192,833.9 2192.1,835.4 2192.2,836.9 2192.4,838.4 2192.5,839.9 2192.6,841.4 2192.7,842.9 2192.8,844.4 2192.9,845.9 2193,847.4 2193.1,848.9 2193.2,850.4 2193.3,851.9 2193.4,853.4 2193.5,854.9 2193.6,856.4 2193.7,857.9 2193.9,859.4 2194,860.9 2194.1,862.4 2194.2,863.9 2194.3,865.4 2194.4,866.9 2194.5,868.4 2194.6,869.9 2194.7,871.4 2194.8,872.9 2194.9,874.4 2195,875.9 2195.1,877.4 2195.2,878.8 2195.3,880.3 2195.4,881.8 2195.5,883.3 2195.6,884.8 2195.7,886.3 2195.8,887.8 2196,889.3 2196.1,890.8 2196.2,892.3 2196.3,893.8 2196.4,895.3 2196.5,896.8 2196.7,898.3 2196.8,899.8 2196.9,901.3 2197,902.8 2197.2,904.3 2197.3,905.8 2197.5,907.3 2197.6,908.8 2197.8,910.3 2197.9,911.8 2198.1,913.3 2198.2,914.8 2198.4,916.3 2198.5,917.8 2198.7,919.2 2198.8,920.7 2199,922.2 2199.2,923.7 2199.3,925.2 2199.5,926.7 2199.6,928.2 2199.8,929.7 2199.9,931.2 2200.1,932.7 2200.2,934.2 2200.4,935.7 2200.5,937.2 2200.7,938.7 2200.8,940.2 2200.9,941.7 2201.1,943.2 2201.2,944.7 2201.4,946.1 2201.5,947.6 2201.7,949.1 2201.8,950.6 2202,952.1 2202.1,953.6 2202.3,955.1 2202.4,956.6 2202.6,958.1 2202.8,959.6 2202.9,961.1 2203.1,962.6 2203.2,964.1 2203.4,965.6 2203.6,967.1 2203.8,968.6 2203.9,970.1 2204.1,971.6 2204.3,973 2204.5,974.5 2204.7,976 2204.9,977.5 2205.1,979 2205.3,980.5 2205.5,982 2205.7,983.4 2205.9,984.9 2206.2,986.4 2206.5,987.9 2206.9,989.4 2207.3,990.9 2207.7,992.3 2208.2,993.8 2208.7,995.1 2209.2,996.4 2210,997.8 2211,999 2212.1,1000.2 2213.2,1001.1 2214.4,1001.8 2215.8,1002.4 2217.2,1003 2218.8,1003.4 2220.3,1003.6 2221.8,1003.7 2223.3,1003.6 2224.9,1003.2 2226.4,1002.6 2227.6,1001.8 2228.5,1000.9 2229.2,999.6 2229.8,998.1 2230.3,996.6 2230.6,995.1 2230.9,993.7 2231.2,992.2 2231.5,990.7 2231.8,989.2 2232,987.8 2232.3,986.3 2232.5,984.8 2232.7,983.3 2232.9,981.8 2233,980.3 2233.2,978.8 2233.4,977.3 2233.6,975.8 2233.8,974.4 2234,972.9 2234.1,971.4 2234.3,969.9 2234.5,968.4 2234.7,966.9 2234.9,965.4 2235,963.9 2235.2,962.4 2235.4,960.9 2235.5,959.4 2235.7,957.9 2235.9,956.4 2236,955 2236.2,953.5 2236.4,952 2236.5,950.5 2236.7,949 2236.8,947.5 2237,946 2237.1,944.5 2237.3,943 2237.4,941.5 2237.6,940 2237.7,938.5 2237.9,937 2238,935.5 2238.1,934 2238.3,932.5 2238.4,931 2238.6,929.5 2238.7,928 2238.8,926.5 2239,925.1 2239.1,923.6 2239.2,922.1 2239.4,920.6 2239.5,919.1 2239.6,917.6 2239.7,916.1 2239.9,914.6 2240,913.1 2240.1,911.6 2240.2,910.1 2240.3,908.6 2240.4,907.1 2240.6,905.6 2240.7,904.1 2240.8,902.6 2240.9,901.1 2241,899.6 2241.1,898.1 2241.2,896.6 2241.3,895.1 2241.4,893.6 2241.4,892.1 2241.5,890.6 2241.6,889.1 2241.7,887.6 2241.8,886.1 2241.9,884.6 2242,883.1 2242.1,881.6 2242.2,880.1 2242.3,878.6 2242.3,877.1 2242.4,875.6 2242.5,874.1 2242.6,872.6 2242.7,871.1 2242.8,869.6 2242.9,868.1 2243,866.6 2243.1,865.1 2243.2,863.6 2243.3,862.1 2243.4,860.6 2243.5,859.1 2243.6,857.6 2243.7,856.1 2243.8,854.6 2243.9,853.1 2244,851.6 2244.1,850.1 2244.2,848.6 2244.3,847.1 2244.4,845.6 2244.5,844.1 2244.6,842.6 2244.7,841.1 2244.8,839.6 2244.9,838.1 2245,836.6 2245.2,835.1 2245.3,833.7 2245.4,832.2 2245.5,830.7 2245.6,829.2 2245.7,827.7 2245.8,826.2 2245.9,824.7 2246,823.2 2246.2,821.7 2246.3,820.2 2246.4,818.7 2246.5,817.2 2246.6,815.7 2246.7,814.2 2246.9,812.7 2247,811.2 2247.1,809.7 2247.2,808.2 2247.4,806.7 2247.5,805.2 2247.6,803.7 2247.8,802.2 2247.9,800.7 2248.1,799.2 2248.2,797.7 2248.3,796.2 2248.5,794.7 2248.6,793.2 2248.8,791.7 2248.9,790.2 2249.1,788.7 2249.3,787.2 2249.4,785.7 2249.6,784.2 2249.7,782.7 2249.9,781.3 2250.1,779.8 2250.2,778.3 2250.4,776.8 2250.6,775.3 2250.7,773.8 2251,772.3 2251.2,770.8 2251.6,769.3 2251.9,767.9 2252.3,766.4 2252.8,765 2253.3,763.6 2253.9,762.2 2254.8,760.7 2255.8,759.5 2256.9,759 2258.1,759.7 2259.2,761 2260,762.4 2260.6,763.7 2261.1,765.1 2261.6,766.5 2262,768 2262.4,769.4 2262.8,770.9 2263.2,772.4 2263.6,773.8 2264.1,775.3 2264.6,776.7 2265.2,778.1 2265.8,779.5 2266.3,780.9 2266.9,782.3 2267.4,783.7 2267.8,785.1 2268.2,786.5 2268.6,788 2269,789.4 2269.4,790.9 2269.8,792.3 2270.2,793.8 2270.5,795.2 2270.9,796.7 2271.3,798.1 2271.6,799.6 2271.9,801.1 2272.3,802.5 2272.6,804 2272.9,805.5 2273.3,807 2273.6,808.4 2273.9,809.9 2274.2,811.4 2274.5,812.8 2274.8,814.3 2275.2,815.8 2275.5,817.2 2275.8,818.7 2276.1,820.2 2276.4,821.6 2276.7,823.1 2277,824.6 2277.3,826 2277.7,827.5 2278,829 2278.3,830.5 2278.6,831.9 2278.9,833.4 2279.2,834.9 2279.5,836.4 2279.7,837.8 2280,839.3 2280.3,840.8 2280.6,842.3 2280.8,843.7 2281.1,845.2 2281.3,846.7 2281.6,848.2 2281.8,849.7 2282.1,851.1 2282.3,852.6 2282.5,854.1 2282.8,855.6 2283,857.1 2283.2,858.6 2283.4,860 2283.6,861.5 2283.9,863 2284.1,864.5 2284.3,866 2284.5,867.5 2284.7,869 2284.9,870.5 2285.1,871.9 2285.3,873.4 2285.5,874.9 2285.8,876.4 2286,877.9 2286.2,879.4 2286.4,880.9 2286.6,882.4 2286.8,883.8 2287.1,885.3 2287.3,886.8 2287.5,888.3 2287.7,889.8 2287.9,891.3 2288.1,892.8 2288.3,894.3 2288.5,895.7 2288.7,897.2 2288.9,898.7 2289.2,900.2 2289.4,901.7 2289.6,903.2 2289.8,904.7 2290.1,906.1 2290.3,907.6 2290.5,909.1 2290.8,910.6 2291.1,912.1 2291.3,913.5 2291.6,915 2291.9,916.5 2292.1,918 2292.4,919.4 2292.7,920.9 2293,922.4 2293.3,923.9 2293.7,925.3 2294,926.8 2294.3,928.3 2294.6,929.7 2295,931.2 2295.3,932.7 2295.7,934.1 2296,935.6 2296.4,937.1 2296.7,938.5 2297.1,940 2297.4,941.4 2297.8,942.9 2298.2,944.4 2298.5,945.8 2298.9,947.3 2299.3,948.7 2299.6,950.2 2300,951.6 2300.4,953 2300.8,954.5 2301.2,955.9 2301.7,957.4 2302.1,958.8 2302.5,960.3 2303,961.7 2303.5,963.1 2303.9,964.6 2304.4,966 2304.9,967.4 2305.4,968.8 2305.9,970.3 2306.4,971.7 2306.9,973.1 2307.5,974.5 2308,975.9 2308.5,977.3 2309.1,978.7 2309.6,980.1 2310.2,981.4 2310.8,982.8 2311.4,984.2 2312,985.6 2312.7,986.9 2313.3,988.3 2314,989.6 2314.7,991 2315.4,992.3 2316.1,993.6 2316.9,995 2317.6,996.3 2318.4,997.6 2319.1,998.9 2319.9,1000.1 2320.6,1001.4 2321.4,1002.7 2322.2,1004 2323.1,1005.2 2323.9,1006.5 2324.8,1007.7 2325.7,1009 2326.6,1010.2 2327.6,1011.3 2328.5,1012.5 2329.5,1013.6 2330.5,1014.6 2331.5,1015.7 2332.6,1016.7 2333.7,1017.7 2334.9,1018.7 2336.1,1019.7 2337.3,1020.6 2338.5,1021.5 2339.8,1022.3" fill="none" stroke="#3daa5c" stroke-width="4.2" stroke-linecap="round" stroke-linejoin="round" stroke-dasharray="16 17.15" stroke-dashoffset="28.5"/>
<path d="M2339.8,1022.3 2340.9,1021.2 2341.9,1020.2 2342.9,1019 2343.9,1017.9 2344.8,1016.7 2345.7,1015.5 2346.7,1014.3 2347.5,1013 2348.4,1011.8 2349.2,1010.5 2349.9,1009.2 2350.5,1007.8 2351,1006.4 2351.5,1005 2351.9,1003.6 2352.4,1002.2 2352.8,1000.7 2353.2,999.3 2353.6,997.8 2354,996.3 2354.4,994.9 2354.8,993.4 2355.2,991.9 2355.5,990.5 2355.9,989 2356.2,987.6 2356.6,986.1 2356.9,984.6 2357.3,983.2 2357.6,981.7 2358,980.2 2358.3,978.8 2358.7,977.3 2359,975.8 2359.4,974.4 2359.8,972.9 2360.2,971.5 2360.5,970 2360.9,968.6 2361.3,967.1 2361.7,965.6 2362.1,964.2 2362.5,962.7 2362.9,961.3 2363.3,959.8 2363.6,958.4 2364,956.9 2364.4,955.5 2364.8,954 2365.2,952.6 2365.6,951.1 2366,949.7 2366.4,948.2 2366.8,946.7 2367.2,945.3 2367.5,943.8 2367.8,942.4 2368.2,940.9 2368.5,939.4 2368.8,937.9 2369.1,936.5 2369.4,935 2369.7,933.5 2370,932 2370.3,930.6 2370.6,929.1 2370.8,927.6 2371.1,926.1 2371.4,924.7 2371.7,923.2 2371.9,921.7 2372.2,920.2 2372.5,918.7 2372.7,917.2 2373,915.8 2373.3,914.3 2373.5,912.8 2373.8,911.3 2374.1,909.8 2374.4,908.4 2374.6,906.9 2374.9,905.4 2375.2,903.9 2375.4,902.4 2375.7,901 2376,899.5 2376.3,898 2376.6,896.5 2376.9,895.1 2377.2,893.6 2377.5,892.1 2377.8,890.6 2378.1,889.2 2378.4,887.7 2378.7,886.2 2379,884.7 2379.3,883.3 2379.5,881.8 2379.7,880.3 2379.9,878.8 2380.1,877.3 2380.2,875.8 2380.4,874.3 2380.5,872.8 2380.7,871.3 2380.8,869.8 2380.9,868.3 2381.1,866.8 2381.3,865.3 2381.5,863.8 2381.7,862.3 2382,860.9 2382.4,859.4 2382.8,858 2383.3,856.5 2383.9,855.1 2384.4,853.7 2385.1,852.2 2385.8,850.5 2386.7,849.1 2387.5,848.6 2388.4,849.2 2389.4,850.6 2390.2,852.3 2390.8,853.7 2391.2,855.1 2391.7,856.5 2392.1,858 2392.4,859.5 2392.8,861 2393.1,862.4 2393.4,863.9 2393.8,865.4 2394.1,866.8 2394.4,868.3 2394.8,869.8 2395.1,871.2 2395.5,872.7 2395.8,874.2 2396.1,875.7 2396.4,877.1 2396.6,878.6 2396.9,880.1 2397.1,881.6 2397.3,883.1 2397.6,884.5 2397.7,886 2397.9,887.5 2398.1,889 2398.3,890.5 2398.5,892 2398.7,893.5 2398.9,895 2399.1,896.5 2399.3,898 2399.5,899.5 2399.7,901 2399.9,902.5 2400.1,904 2400.3,905.4 2400.5,906.9 2400.7,908.4 2400.9,909.9 2401.1,911.4 2401.4,912.9 2401.6,914.4 2401.8,915.9 2402.1,917.4 2402.3,918.8 2402.6,920.3 2402.8,921.8 2403.1,923.3 2403.3,924.8 2403.5,926.3 2403.7,927.8 2403.9,929.3 2404.1,930.7 2404.3,932.2 2404.5,933.7 2404.6,935.2 2404.8,936.7 2405,938.2 2405.2,939.7 2405.3,941.2 2405.5,942.7 2405.7,944.2 2405.9,945.7 2406.1,947.2 2406.3,948.7 2406.5,950.2 2406.7,951.7 2406.8,953.2 2407,954.7 2407.2,956.1 2407.4,957.6 2407.6,959.1 2407.8,960.6 2408,962.1 2408.2,963.6 2408.4,965.1 2408.6,966.6 2408.8,968.1 2409,969.6 2409.3,971.1 2409.5,972.5 2409.7,974 2409.9,975.5 2410.1,977 2410.3,978.5 2410.5,980 2410.7,981.5 2410.9,983 2411,984.5 2411.2,986 2411.3,987.5 2411.5,989 2411.7,990.5 2411.8,992 2412.1,993.5 2412.4,994.9 2412.8,996.4 2413.2,997.8 2413.7,999.3 2414.2,1000.7 2414.7,1002.1 2415.2,1003.5 2415.8,1005 2416.4,1006.4 2417.1,1007.8 2417.9,1009.1 2418.7,1010.2 2419.8,1011.2 2421,1012 2422.4,1012.7 2423.9,1013.3 2425.4,1013.6 2426.8,1013.8 2428.3,1014 2429.8,1014.2 2431.3,1014.4 2432.8,1014.6 2434.3,1014.7 2435.8,1014.9 2437.3,1015 2438.8,1015.2 2440.3,1015.3 2441.8,1015.5 2443.3,1015.6 2444.8,1015.7 2446.3,1015.8 2447.8,1015.9 2449.3,1016.1 2450.8,1016.2 2452.3,1016.3 2453.8,1016.4 2455.3,1016.5 2456.9,1016.6 2458.4,1016.8 2459.8,1016.9 2461.3,1017 2462.8,1017.2 2464.3,1017.4 2465.8,1017.5 2467.3,1017.7 2468.8,1017.9 2470.3,1018.2 2471.8,1018.4 2473.3,1018.6 2474.8,1018.9 2476.2,1019.2 2477.7,1019.4 2479.2,1019.7 2480.7,1019.9 2482.2,1020.2 2483.7,1020.4 2485.1,1020.6 2486.6,1020.9 2488.1,1021.1 2489.6,1021.4 2491.1,1021.6 2492.6,1021.8 2494.1,1022.1 2495.6,1022.2 2497.1,1022.4 2498.6,1022.5 2500.1,1022.6 2501.6,1022.7 2503.1,1022.7 2504.6,1022.7 2506.1,1022.7 2507.6,1022.6 2509.1,1022.5 2510.6,1022.4 2512.1,1022.3 2513.6,1022.2 2515.1,1022 2516.6,1021.9 2518.1,1021.7 2519.6,1021.5 2521.1,1021.3 2522.6,1021 2524,1020.8 2525.5,1020.5 2527,1020.2 2528.5,1019.9 2530,1019.5 2531.4,1019.2 2532.9,1018.9 2534.3,1018.5 2535.8,1018.1 2537.2,1017.6 2538.7,1017.1 2540.1,1016.7 2541.5,1016.2 2543,1015.7 2544.4,1015.3 2545.8,1014.8 2547.3,1014.5 2548.8,1014.1 2550.2,1013.8 2551.7,1013.6 2553.2,1013.3 2554.7,1013.2 2556.2,1013 2557.7,1013 2559.2,1013 2560.7,1013.2 2562.2,1013.3 2563.7,1013.5 2565.2,1013.7 2566.7,1014 2568.2,1014.2 2569.7,1014.5 2571.1,1014.7 2572.6,1015 2574.1,1015.3 2575.6,1015.7 2577,1016 2578.5,1016.4 2580,1016.7 2581.4,1017.1 2582.9,1017.4 2584.3,1017.8 2585.8,1018.2 2587.2,1018.6 2588.7,1019 2590.1,1019.5 2591.6,1019.9 2593,1020.3 2594.4,1020.8 2595.9,1021.2 2597.3,1021.6 2598.8,1022 2600.3,1022.3 2601.7,1022.7 2603.2,1023.1 2604.6,1023.5 2606.1,1023.8 2607.6,1024.1 2609.1,1024.4 2610.5,1024.7 2612,1024.9 2613.5,1025.1 2615,1025.3 2616.5,1025.5 2618,1025.6" fill="none" stroke="#3daa5c" stroke-width="4.2" stroke-linecap="round" stroke-linejoin="round" stroke-dasharray="16 17.15" stroke-dashoffset="31.0"/>
<path d="M2618,1025.6 3509,1025.6" fill="none" stroke="#3daa5c" stroke-width="4.2" stroke-linecap="round" stroke-linejoin="round" stroke-dasharray="16 17.15" stroke-dashoffset="17.0"/>
<path d="M2138.5,1025.6 2138.5,1024.1 2138.5,1022.6 2138.5,1021.1 2138.6,1019.6 2138.6,1018.1 2138.6,1016.6 2138.6,1015.1 2138.6,1013.6 2138.6,1012.1 2138.7,1010.6 2138.7,1009.1 2138.7,1007.6 2138.7,1006.1 2138.7,1004.6 2138.7,1003.1 2138.8,1001.6 2138.8,1000.1 2138.8,998.6 2138.8,997.1 2138.8,995.6 2138.9,994.1 2138.9,992.6 2138.9,991.1 2138.9,989.6 2138.9,988.1 2139,986.6 2139,985.1 2139,983.6 2139,982.1 2139,980.6 2139.1,979.1 2139.1,977.6 2139.1,976.1 2139.1,974.6 2139.1,973.1 2139.2,971.6 2139.2,970.1 2139.2,968.6 2139.2,967.1 2139.3,965.6 2139.3,964.1 2139.3,962.6 2139.3,961.1 2139.4,959.6 2139.4,958.1 2139.4,956.6 2139.4,955.1 2139.5,953.6 2139.5,952.1 2139.5,950.6 2139.5,949.1 2139.6,947.6 2139.6,946.1 2139.6,944.6 2139.6,943.1 2139.7,941.6 2139.7,940.1 2139.7,938.6 2139.7,937.1 2139.8,935.6 2139.8,934.1 2139.8,932.5 2139.8,931 2139.9,929.5 2139.9,928 2139.9,926.5 2139.9,925 2140,923.5 2140,922 2140,920.5 2140,919 2140.1,917.5 2140.1,916 2140.1,914.5 2140.1,913 2140.2,911.5 2140.2,910 2140.2,908.5 2140.3,907 2140.3,905.5 2140.3,904 2140.3,902.5 2140.4,901 2140.4,899.5 2140.4,898 2140.5,896.5 2140.5,895 2140.5,893.5 2140.5,892 2140.6,890.5 2140.6,889 2140.6,887.5 2140.7,886 2140.7,884.5 2140.7,883 2140.7,881.5 2140.8,880 2140.8,878.5 2140.8,877 2140.9,875.5 2140.9,874 2140.9,872.5 2141,871 2141,869.5 2141,868 2141.1,866.5 2141.1,865 2141.1,863.5 2141.2,862 2141.2,860.5 2141.2,859 2141.3,857.5 2141.3,856 2141.3,854.5 2141.4,853 2141.4,851.5 2141.4,850 2141.5,848.5 2141.5,847 2141.5,845.5 2141.6,844 2141.6,842.5 2141.6,841 2141.7,839.5 2141.7,838 2141.7,836.5 2141.8,835 2141.8,833.5 2141.8,832 2141.9,830.5 2141.9,829 2141.9,827.5 2142,826 2142,824.5 2142.1,823 2142.1,821.5 2142.1,820 2142.2,818.5 2142.2,817 2142.2,815.5 2142.3,814 2142.3,812.5 2142.3,811 2142.4,809.5 2142.4,808 2142.4,806.5 2142.5,805 2142.5,803.5 2142.6,802 2142.6,800.5 2142.6,799 2142.7,797.5 2142.7,796 2142.7,794.5 2142.8,793 2142.8,791.5 2142.8,790 2142.9,788.5 2142.9,787 2142.9,785.5 2143,784 2143,782.5 2143,781 2143.1,779.5 2143.1,778 2143.2,776.5 2143.2,775 2143.2,773.5 2143.3,772 2143.3,770.5 2143.3,769 2143.4,767.5 2143.4,766 2143.4,764.5 2143.5,763 2143.5,761.5 2143.5,760 2143.6,758.5 2143.6,757 2143.6,755.5 2143.7,754 2143.7,752.5 2143.7,751 2143.8,749.5 2143.8,748 2143.9,746.5 2143.9,745 2143.9,743.5 2144,742 2144,740.5 2144,739 2144.1,737.5 2144.1,736 2144.1,734.5 2144.2,733 2144.2,731.5 2144.2,730 2144.3,728.5 2144.3,727 2144.4,725.5 2144.4,724 2144.4,722.5 2144.5,721 2144.5,719.5 2144.5,718 2144.6,716.5 2144.6,715 2144.6,713.5 2144.7,712 2144.7,710.5 2144.8,709 2144.8,707.5 2144.8,706 2144.9,704.5 2144.9,703 2144.9,701.5 2145,700 2145,698.5 2145,697 2145.1,695.5 2145.1,694 2145.2,692.5 2145.2,691 2145.2,689.5 2145.3,688 2145.3,686.5 2145.3,685 2145.4,683.5 2145.4,682 2145.4,680.5 2145.5,679 2145.5,677.5 2145.6,676 2145.6,674.5 2145.6,672.9 2145.7,671.4 2145.7,669.9 2145.7,668.4 2145.8,666.9 2145.8,665.4 2145.8,663.9 2145.9,662.4 2145.9,660.9 2145.9,659.4 2146,657.9 2146,656.4 2146.1,654.9 2146.1,653.4 2146.1,651.9 2146.2,650.4 2146.2,648.9 2146.2,647.4 2146.3,645.9 2146.3,644.4 2146.3,642.9 2146.4,641.4 2146.4,639.9 2146.4,638.4 2146.5,636.9 2146.5,635.4 2146.5,633.9 2146.6,632.4 2146.6,630.9 2146.6,629.4 2146.7,627.9 2146.7,626.4 2146.7,624.9 2146.8,623.4 2146.8,621.9 2146.8,620.4 2146.9,618.9 2146.9,617.4 2147,615.9 2147,614.4 2147,612.9 2147.1,611.4 2147.1,609.9 2147.1,608.4 2147.2,606.9 2147.2,605.4 2147.2,603.9 2147.3,602.4 2147.3,600.9 2147.3,599.4 2147.4,597.9 2147.4,596.4 2147.4,594.9 2147.5,593.4 2147.5,591.9 2147.5,590.4 2147.6,588.9 2147.6,587.4 2147.6,585.9 2147.7,584.4 2147.7,582.9 2147.7,581.4 2147.8,579.9 2147.8,578.4 2147.8,576.9 2147.9,575.4 2147.9,573.9 2147.9,572.4 2148,570.9 2148,569.4 2148,567.9 2148.1,566.4 2148.1,564.9 2148.1,563.4 2148.2,561.9 2148.2,560.4 2148.2,558.9 2148.3,557.4 2148.3,555.9 2148.3,554.4 2148.4,552.9 2148.4,551.4 2148.4,549.9 2148.5,548.4 2148.5,546.9 2148.5,545.4 2148.6,543.9 2148.6,542.4 2148.6,540.9 2148.7,539.4 2148.7,537.9 2148.7,536.4 2148.8,534.9 2148.8,533.4 2148.8,531.9 2148.9,530.4 2148.9,528.9 2148.9,527.4 2149,525.9 2149,524.4 2149,522.9 2149,521.4 2149.1,519.9 2149.1,518.4 2149.1,516.9 2149.2,515.4 2149.2,513.9 2149.2,512.4 2149.3,510.9 2149.3,509.4 2149.3,507.9 2149.4,506.4 2149.4,504.9 2149.4,503.4 2149.5,501.9 2149.5,500.4 2149.5,498.9 2149.6,497.4 2149.6,495.9 2149.6,494.4 2149.6,492.9 2149.7,491.4 2149.7,489.9 2149.7,488.4 2149.8,486.9 2149.8,485.4 2149.8,483.9 2149.9,482.4 2149.9,480.9 2149.9,479.4 2149.9,477.9 2150,476.4 2150,474.9 2150,473.4 2150.1,471.9 2150.1,470.4 2150.1,468.9 2150.1,467.4 2150.2,465.9 2150.2,464.4 2150.2,462.9 2150.2,461.4 2150.3,459.9 2150.3,458.4 2150.3,456.9 2150.4,455.4 2150.4,453.9 2150.4,452.4 2150.4,450.9 2150.5,449.4 2150.5,447.9 2150.5,446.4 2150.5,444.9 2150.6,443.4 2150.6,441.9 2150.6,440.4 2150.7,438.9 2150.7,437.4 2150.7,435.9 2150.7,434.4 2150.8,432.9 2150.8,431.4 2150.8,429.9 2150.8,428.3 2150.9,426.8 2150.9,425.3 2150.9,423.8 2151,422.3 2151,420.8 2151,419.3 2151,417.8 2151.1,416.3 2151.1,414.8 2151.1,413.3 2151.2,411.8 2151.2,410.3 2151.2,408.8 2151.2,407.3 2151.3,405.8 2151.3,404.3 2151.3,402.8 2151.4,401.3 2151.4,399.8 2151.4,398.3 2151.4,396.8 2151.5,395.3 2151.5,393.8 2151.5,392.3 2151.6,390.8 2151.6,389.3 2151.6,387.8 2151.7,386.3 2151.7,384.8 2151.7,383.3 2151.7,381.8 2151.8,380.3 2151.8,378.8 2151.8,377.3 2151.9,375.8 2151.9,374.3 2151.9,372.8 2152,371.3 2152,369.8 2152,368.3 2152.1,366.8 2152.1,365.3 2152.1,363.8 2152.2,362.3 2152.2,360.8 2152.2,359.3 2152.3,357.8 2152.3,356.3 2152.4,354.8 2152.4,353.3 2152.4,351.8 2152.5,350.3 2152.5,348.8 2152.5,347.3 2152.6,345.8 2152.6,344.3 2152.6,342.8 2152.7,341.3 2152.7,339.8 2152.8,338.3 2152.8,336.8 2152.8,335.3 2152.9,333.8 2152.9,332.3 2152.9,330.8 2153,329.3 2153,327.8 2153.1,326.3 2153.1,324.8 2153.1,323.3 2153.2,321.8 2153.2,320.3 2153.3,318.8 2153.3,317.3 2153.3,315.8 2153.4,314.3 2153.4,312.8 2153.5,311.3 2153.5,309.8 2153.6,308.3 2153.6,306.8 2153.6,305.3 2153.7,303.8 2153.7,302.3 2153.8,300.8 2153.8,299.3 2153.8,297.8 2153.9,296.3 2153.9,294.8 2154,293.3 2154,291.8 2154.1,290.3 2154.1,288.8 2154.1,287.3 2154.2,285.8 2154.2,284.3 2154.3,282.8 2154.3,281.3 2154.4,279.8 2154.4,278.3 2154.4,276.8 2154.5,275.3 2154.5,273.8 2154.6,272.3 2154.6,270.8 2154.7,269.3 2154.7,267.8 2154.7,266.3 2154.8,264.8 2154.8,263.3 2154.9,261.8 2154.9,260.3 2155,258.8 2155,257.3 2155,255.8 2155.1,254.3 2155.1,252.8 2155.2,251.3 2155.2,249.8 2155.3,248.3 2155.3,246.8 2155.4,245.3 2155.4,243.8 2155.4,242.3 2155.5,240.8 2155.5,239.3 2155.6,237.8 2155.6,236.3 2155.7,234.8 2155.7,233.3 2155.7,231.8 2155.8,230.3 2155.8,228.8 2155.9,227.3 2155.9,225.8 2156,224.3 2156,222.8 2156.1,221.3 2156.1,219.8 2156.1,218.3 2156.2,216.8 2156.2,215.3 2156.3,213.8 2156.3,212.3 2156.4,210.8 2156.4,209.3 2156.5,207.8 2156.5,206.3 2156.6,204.8 2156.6,203.3 2156.7,201.8 2156.7,200.3 2156.7,198.8 2156.8,197.3 2156.8,195.8 2156.9,194.3 2156.9,192.8 2157,191.3 2157,189.8 2157.1,188.3 2157.2,186.8 2157.2,185.3 2157.3,183.8 2157.3,182.3 2157.4,180.8 2157.4,179.3 2157.5,177.8 2157.5,176.3 2157.6,174.8 2157.7,173.3 2157.7,171.8 2157.8,170.3 2157.8,168.8 2157.9,167.3 2158,165.8 2158,164.3 2158.1,162.8 2158.2,161.3 2158.3,159.8 2158.4,158.3 2158.5,156.8 2158.6,155.3 2158.7,153.8 2158.8,152.3 2158.8,150.8 2158.9,149.3 2159,147.8 2159.1,146.3 2159.2,144.8 2159.3,143.3 2159.4,141.8 2159.5,140.2 2159.6,138.7 2159.7,137.2 2159.8,135.7 2159.8,134.2 2159.9,132.7 2160,131.2 2160.1,129.7 2160.3,128.2 2160.4,126.7 2160.5,125.3 2160.6,123.8 2160.7,122.3 2160.8,120.8 2160.9,119.4 2161.3,117.9 2161.7,116.4 2162.4,115 2163.3,113.7" fill="none" stroke="#e5332f" stroke-width="4.2" stroke-linecap="round" stroke-linejoin="round" stroke-dasharray="29 29.2" stroke-dashoffset="47.0"/>
<path d="M2163.3,113.7 2164.4,114 2164.9,115.5 2165.1,117 2165.2,118.5 2165.3,120 2165.4,121.5 2165.5,123 2165.5,124.5 2165.6,126 2165.7,127.5 2165.7,129 2165.8,130.5 2165.9,132 2165.9,133.5 2166,135 2166.1,136.5 2166.1,138 2166.2,139.5 2166.3,141 2166.3,142.5 2166.4,144 2166.5,145.5 2166.5,147 2166.6,148.5 2166.7,150 2166.8,151.5 2166.8,153 2166.9,154.5 2167,156 2167.1,157.5 2167.1,159 2167.2,160.5 2167.3,162 2167.3,163.5 2167.4,165 2167.5,166.5 2167.5,168 2167.6,169.5 2167.7,171 2167.7,172.5 2167.8,174 2167.8,175.5 2167.9,177 2168,178.5 2168,180 2168.1,181.5 2168.2,183 2168.2,184.5 2168.3,186 2168.3,187.5 2168.4,189 2168.4,190.5 2168.5,192 2168.6,193.5 2168.6,195 2168.7,196.5 2168.7,198 2168.8,199.5 2168.9,201 2168.9,202.5 2169,204 2169,205.5 2169.1,207 2169.1,208.5 2169.2,210 2169.2,211.5 2169.3,213 2169.4,214.5 2169.4,216 2169.5,217.5 2169.5,219 2169.6,220.5 2169.6,222 2169.7,223.5 2169.7,225 2169.8,226.5 2169.8,228 2169.9,229.5 2169.9,231 2170,232.5 2170,234 2170.1,235.5 2170.1,237 2170.2,238.5 2170.2,240 2170.3,241.5 2170.3,243 2170.4,244.5 2170.4,246 2170.5,247.5 2170.5,249 2170.6,250.5 2170.6,252 2170.7,253.5 2170.7,255 2170.8,256.5 2170.9,258 2170.9,259.5 2171,261 2171,262.5 2171.1,264 2171.1,265.5 2171.2,267 2171.2,268.5 2171.3,270 2171.3,271.5 2171.4,273 2171.4,274.5 2171.5,276 2171.5,277.5 2171.5,279 2171.6,280.5 2171.6,282 2171.7,283.5 2171.7,285 2171.8,286.5 2171.8,288 2171.9,289.5 2171.9,291 2172,292.5 2172,294 2172.1,295.5 2172.1,297 2172.2,298.5 2172.2,300 2172.3,301.5 2172.3,303 2172.4,304.5 2172.4,306 2172.5,307.5 2172.5,309 2172.6,310.5 2172.6,312 2172.7,313.5 2172.7,315 2172.7,316.5 2172.8,318 2172.8,319.5 2172.9,321 2172.9,322.5 2173,324 2173,325.5 2173.1,327 2173.1,328.5 2173.2,330 2173.2,331.5 2173.3,333 2173.3,334.5 2173.3,336 2173.4,337.5 2173.4,339 2173.5,340.5 2173.5,342 2173.6,343.5 2173.6,345 2173.6,346.5 2173.7,348 2173.7,349.5 2173.8,351 2173.8,352.5 2173.9,354 2173.9,355.5 2173.9,357 2174,358.5 2174,360 2174.1,361.5 2174.1,363 2174.2,364.5 2174.2,366 2174.2,367.5 2174.3,369 2174.3,370.5 2174.4,372 2174.4,373.5 2174.4,375 2174.5,376.5 2174.5,378 2174.6,379.5 2174.6,381 2174.6,382.5 2174.7,384 2174.7,385.5 2174.7,387 2174.8,388.5 2174.8,390 2174.9,391.5 2174.9,393 2174.9,394.5 2175,396 2175,397.5 2175,399 2175.1,400.5 2175.1,402 2175.1,403.5 2175.2,405 2175.2,406.5 2175.3,408 2175.3,409.5 2175.3,411 2175.4,412.5 2175.4,414 2175.4,415.5 2175.5,417 2175.5,418.5 2175.5,420 2175.6,421.5 2175.6,423 2175.6,424.5 2175.7,426 2175.7,427.5 2175.7,429 2175.8,430.5 2175.8,432 2175.9,433.5 2175.9,435 2175.9,436.5 2176,438 2176,439.5 2176,441 2176.1,442.5 2176.1,444 2176.1,445.5 2176.2,447 2176.2,448.5 2176.2,450 2176.3,451.5 2176.3,453 2176.3,454.5 2176.4,456 2176.4,457.5 2176.4,459 2176.5,460.5 2176.5,462 2176.5,463.5 2176.6,465 2176.6,466.5 2176.6,468 2176.7,469.5 2176.7,471 2176.7,472.5 2176.8,474 2176.8,475.5 2176.9,477 2176.9,478.5 2176.9,480 2177,481.5 2177,483 2177,484.5 2177.1,486 2177.1,487.5 2177.1,489 2177.2,490.5 2177.2,492 2177.2,493.6 2177.3,495.1 2177.3,496.6 2177.4,498.1 2177.4,499.6 2177.4,501.1 2177.5,502.6 2177.5,504.1 2177.5,505.6 2177.6,507.1 2177.6,508.6 2177.6,510.1 2177.7,511.6 2177.7,513.1 2177.8,514.6 2177.8,516.1 2177.8,517.6 2177.9,519.1 2177.9,520.6 2177.9,522.1 2178,523.6 2178,525.1 2178,526.6 2178.1,528.1 2178.1,529.6 2178.1,531.1 2178.2,532.6 2178.2,534.1 2178.2,535.6 2178.3,537.1 2178.3,538.6 2178.4,540.1 2178.4,541.6 2178.4,543.1 2178.5,544.6 2178.5,546.1 2178.5,547.6 2178.6,549.1 2178.6,550.6 2178.6,552.1 2178.7,553.6 2178.7,555.1 2178.7,556.6 2178.8,558.1 2178.8,559.6 2178.8,561.1 2178.9,562.6 2178.9,564.1 2179,565.6 2179,567.1 2179,568.6 2179.1,570.1 2179.1,571.6 2179.1,573.1 2179.2,574.6 2179.2,576.1 2179.2,577.6 2179.3,579.1 2179.3,580.6 2179.4,582.1 2179.4,583.6 2179.4,585.1 2179.5,586.6 2179.5,588.1 2179.6,589.6 2179.6,591.1 2179.6,592.6 2179.7,594.1 2179.7,595.6 2179.7,597.1 2179.8,598.6 2179.8,600.1 2179.9,601.6 2179.9,603.1 2180,604.6 2180,606.1 2180,607.6 2180.1,609.1 2180.1,610.6 2180.2,612.1 2180.2,613.6 2180.2,615.1 2180.3,616.6 2180.3,618.1 2180.4,619.6 2180.4,621.1 2180.5,622.6 2180.5,624.1 2180.6,625.6 2180.6,627.1 2180.6,628.6 2180.7,630.1 2180.7,631.6 2180.8,633.1 2180.8,634.6 2180.9,636.1 2180.9,637.6 2181,639.1 2181,640.6 2181.1,642.1 2181.1,643.6 2181.2,645.1 2181.2,646.6 2181.3,648.1 2181.3,649.6 2181.4,651.1 2181.4,652.6 2181.5,654.1 2181.6,655.6 2181.6,657.1 2181.7,658.6 2181.7,660.1 2181.8,661.6 2181.9,663.1 2181.9,664.6 2182,666.1 2182.1,667.6 2182.1,669.1 2182.2,670.6 2182.3,672.1 2182.3,673.6 2182.4,675.1 2182.5,676.6 2182.5,678.1 2182.6,679.6 2182.7,681.1 2182.7,682.6 2182.8,684.1 2182.9,685.6 2183,687.1 2183,688.6 2183.1,690.1 2183.2,691.6 2183.3,693.1 2183.4,694.6 2183.4,696.1 2183.5,697.6 2183.6,699.1 2183.7,700.6 2183.7,702.1 2183.8,703.6 2183.9,705.1 2184,706.6 2184.1,708.1 2184.2,709.6 2184.2,711.1 2184.3,712.6 2184.4,714.1 2184.5,715.6 2184.6,717.1 2184.7,718.6 2184.7,720.1 2184.8,721.6 2184.9,723.1 2185,724.6 2185.1,726.1 2185.2,727.5 2185.3,729 2185.4,730.5 2185.4,732 2185.5,733.5 2185.6,735 2185.7,736.5 2185.8,738 2185.9,739.5 2186,741 2186.1,742.5 2186.1,744 2186.2,745.5 2186.3,747 2186.4,748.5 2186.5,750 2186.6,751.5 2186.7,753 2186.8,754.5 2186.9,756 2187,757.5 2187,759 2187.1,760.5 2187.2,762 2187.3,763.5 2187.4,765 2187.5,766.5 2187.6,768 2187.7,769.5 2187.8,771 2187.9,772.5 2187.9,774 2188,775.5 2188.1,777 2188.2,778.5 2188.3,780 2188.4,781.5 2188.5,783 2188.6,784.5 2188.7,786 2188.8,787.5 2188.9,789 2189,790.5 2189.1,792 2189.2,793.5 2189.3,795 2189.4,796.5 2189.5,798 2189.6,799.5 2189.7,801 2189.8,802.5 2189.9,804 2190,805.5 2190.1,806.9 2190.2,808.4 2190.3,809.9 2190.4,811.4 2190.5,812.9 2190.6,814.4 2190.7,815.9 2190.9,817.4 2191,818.9 2191.1,820.4 2191.2,821.9 2191.3,823.4 2191.4,824.9 2191.5,826.4 2191.6,827.9 2191.7,829.4 2191.8,830.9 2191.9,832.4 2192,833.9 2192.1,835.4 2192.2,836.9 2192.4,838.4 2192.5,839.9 2192.6,841.4 2192.7,842.9 2192.8,844.4 2192.9,845.9 2193,847.4 2193.1,848.9 2193.2,850.4 2193.3,851.9 2193.4,853.4 2193.5,854.9 2193.6,856.4 2193.7,857.9 2193.9,859.4 2194,860.8 2194.1,862.3 2194.2,863.8 2194.3,865.3 2194.4,866.8 2194.5,868.3 2194.6,869.8 2194.7,871.3 2194.8,872.8 2194.9,874.3 2195,875.8 2195.1,877.3 2195.2,878.8 2195.3,880.3 2195.4,881.8 2195.5,883.3 2195.6,884.8 2195.7,886.3 2195.8,887.8 2196,889.3 2196.1,890.8 2196.2,892.3 2196.3,893.8 2196.4,895.3 2196.5,896.8 2196.7,898.3 2196.8,899.8 2196.9,901.3 2197,902.8 2197.2,904.3 2197.3,905.7 2197.5,907.2 2197.6,908.7 2197.8,910.2 2197.9,911.7 2198.1,913.2 2198.2,914.7 2198.4,916.2 2198.5,917.7 2198.7,919.2 2198.8,920.7 2199,922.2 2199.2,923.7 2199.3,925.2 2199.5,926.7 2199.6,928.1 2199.8,929.6 2199.9,931.1 2200.1,932.6 2200.2,934.1 2200.4,935.6 2200.5,937.1 2200.7,938.6 2200.8,940.1 2200.9,941.6 2201.1,943.1 2201.2,944.6 2201.4,946.1 2201.5,947.6 2201.7,949.1 2201.8,950.6 2202,952.1 2202.1,953.5 2202.3,955 2202.4,956.5 2202.6,958 2202.7,959.5 2202.9,961 2203.1,962.5 2203.2,964 2203.4,965.5 2203.6,967 2203.7,968.5 2203.9,970 2204.1,971.5 2204.3,973 2204.4,974.5 2204.6,976 2204.8,977.5 2205,979 2205.2,980.4 2205.5,981.9 2205.7,983.4 2206,984.8 2206.4,986.3 2206.9,987.7 2207.5,989.1 2208.1,990.4 2208.8,991.8 2209.6,993.2 2210.5,994.6 2211.5,995.7 2212.6,996.6 2213.8,997.2 2215.2,997.7 2216.7,998 2218.3,998.2 2219.8,998.3 2221.4,998.2 2222.9,997.8 2224.4,997.3 2225.7,996.7 2226.7,995.9 2227.6,994.7 2228.4,993.3 2229,991.8 2229.4,990.3 2229.7,988.9 2230,987.4 2230.3,986 2230.6,984.5 2230.8,983 2231.1,981.5 2231.3,980 2231.5,978.5 2231.7,977 2231.9,975.5 2232.1,974 2232.3,972.5 2232.5,971 2232.7,969.6 2232.9,968.1 2233.2,966.6 2233.4,965.1 2233.6,963.6 2233.8,962.1 2234,960.6 2234.2,959.1 2234.4,957.7 2234.6,956.2 2234.8,954.7 2235,953.2 2235.1,951.7 2235.3,950.2 2235.5,948.7 2235.7,947.2 2235.9,945.7 2236,944.2 2236.2,942.7 2236.4,941.3 2236.5,939.8 2236.7,938.3 2236.8,936.8 2237,935.3 2237.1,933.8 2237.2,932.3 2237.4,930.8 2237.5,929.3 2237.7,927.8 2237.8,926.3 2237.9,924.8 2238.1,923.3 2238.2,921.8 2238.3,920.3 2238.5,918.8 2238.6,917.3 2238.7,915.8 2238.8,914.3 2238.9,912.9 2239.1,911.4 2239.2,909.9 2239.3,908.4 2239.4,906.9 2239.5,905.4 2239.6,903.9 2239.7,902.4 2239.8,900.9 2239.9,899.4 2239.9,897.9 2240,896.4 2240.1,894.9 2240.2,893.4 2240.3,891.9 2240.4,890.4 2240.5,888.9 2240.6,887.4 2240.6,885.9 2240.7,884.4 2240.8,882.9 2240.9,881.4 2241,879.9 2241,878.4 2241.1,876.9 2241.2,875.4 2241.3,873.9 2241.4,872.4 2241.4,870.9 2241.5,869.4 2241.6,867.9 2241.7,866.4 2241.7,864.9 2241.8,863.4 2241.9,861.9 2242,860.4 2242.1,858.9 2242.1,857.4 2242.2,855.9 2242.3,854.4 2242.4,852.9 2242.4,851.4 2242.5,849.9 2242.6,848.4 2242.7,846.9 2242.7,845.4 2242.8,843.9 2242.9,842.4 2243,840.9 2243,839.4 2243.1,837.9 2243.2,836.4 2243.3,834.9 2243.3,833.4 2243.4,831.9 2243.5,830.4 2243.6,828.9 2243.6,827.4 2243.7,825.9 2243.8,824.4 2243.9,822.9 2243.9,821.4 2244,819.9 2244.1,818.4 2244.2,816.9 2244.2,815.4 2244.3,813.9 2244.4,812.4 2244.4,810.9 2244.5,809.4 2244.6,807.9 2244.7,806.4 2244.7,804.9 2244.8,803.4 2244.9,801.9 2245,800.4 2245,798.9 2245.1,797.4 2245.2,795.9 2245.3,794.4 2245.4,793 2245.5,791.5 2245.7,790 2245.8,788.5 2245.9,787 2246.1,785.5 2246.2,784 2246.4,782.5 2246.6,781 2246.8,779.5 2246.9,778 2247.1,776.5 2247.3,775 2247.5,773.6 2247.7,772.1 2247.9,770.6 2248,769.1 2248.2,767.6 2248.4,766.1 2248.6,764.6 2248.7,763.1 2248.9,761.6 2249.1,760.1 2249.2,758.6 2249.4,757.1 2249.6,755.6 2249.7,754.1 2249.9,752.6 2250,751.1 2250.2,749.6 2250.4,748.1 2250.5,746.7 2250.7,745.2 2250.9,743.7 2251.1,742.2 2251.2,740.7 2251.4,739.2 2251.6,737.8 2251.9,736.3 2252.2,734.8 2252.7,733.3 2253.2,731.9 2253.8,730.6 2254.8,729.2 2255.9,728.9 2256.9,729.9 2257.7,731.5 2258.4,732.8 2259,734.2 2259.6,735.6 2260.2,737 2260.7,738.4 2261.2,739.8 2261.7,741.3 2262.2,742.7 2262.6,744.2 2263,745.6 2263.3,747.1 2263.5,748.5 2263.8,750 2264,751.4 2264.3,752.9 2264.5,754.4 2264.7,755.9 2264.9,757.3 2265.1,758.8 2265.2,760.3 2265.4,761.8 2265.6,763.3 2265.8,764.8 2265.9,766.3 2266.1,767.8 2266.2,769.3 2266.4,770.8 2266.6,772.3 2266.8,773.8 2267,775.3 2267.2,776.8 2267.4,778.3 2267.6,779.8 2267.8,781.3 2268.1,782.8 2268.4,784.2 2268.6,785.7 2268.9,787.2 2269.2,788.6 2269.6,790.1 2269.9,791.6 2270.2,793 2270.6,794.5 2270.9,796 2271.3,797.4 2271.6,798.9 2272,800.3 2272.3,801.8 2272.7,803.3 2273,804.7 2273.4,806.2 2273.7,807.6 2274.1,809.1 2274.4,810.6 2274.7,812 2275.1,813.5 2275.4,815 2275.7,816.4 2276,817.9 2276.3,819.4 2276.6,820.8 2276.9,822.3 2277.2,823.8 2277.5,825.2 2277.8,826.7 2278.1,828.2 2278.4,829.7 2278.7,831.1 2279,832.6 2279.3,834.1 2279.6,835.6 2279.9,837 2280.1,838.5 2280.4,840 2280.7,841.5 2280.9,842.9 2281.2,844.4 2281.4,845.9 2281.7,847.4 2281.9,848.9 2282.1,850.3 2282.4,851.8 2282.6,853.3 2282.8,854.8 2283,856.3 2283.2,857.8 2283.4,859.2 2283.6,860.7 2283.8,862.2 2284,863.7 2284.2,865.2 2284.4,866.7 2284.6,868.2 2284.8,869.7 2285,871.2 2285.2,872.6 2285.5,874.1 2285.7,875.6 2285.9,877.1 2286.1,878.6 2286.3,880.1 2286.5,881.6 2286.7,883 2286.9,884.5 2287.1,886 2287.3,887.5 2287.5,889 2287.8,890.5 2288,892 2288.2,893.5 2288.4,894.9 2288.6,896.4 2288.8,897.9 2289,899.4 2289.3,900.9 2289.5,902.4 2289.7,903.9 2289.9,905.3 2290.2,906.8 2290.4,908.3 2290.7,909.8 2290.9,911.2 2291.2,912.7 2291.4,914.2 2291.7,915.7 2292,917.1 2292.3,918.6 2292.6,920.1 2292.9,921.6 2293.2,923 2293.5,924.5 2293.8,926 2294.1,927.5 2294.5,928.9 2294.8,930.4 2295.1,931.9 2295.5,933.3 2295.8,934.8 2296.2,936.3 2296.5,937.7 2296.9,939.2 2297.2,940.6 2297.6,942.1 2297.9,943.5 2298.3,945 2298.7,946.4 2299.1,947.9 2299.4,949.3 2299.8,950.8 2300.2,952.2 2300.6,953.7 2301,955.1 2301.4,956.6 2301.9,958 2302.3,959.4 2302.7,960.9 2303.2,962.3 2303.7,963.8 2304.1,965.2 2304.6,966.6 2305.1,968 2305.6,969.5 2306.1,970.9 2306.6,972.3 2307.2,973.7 2307.7,975.1 2308.2,976.5 2308.8,977.9 2309.3,979.3 2309.9,980.7 2310.4,982 2311,983.4 2311.6,984.8 2312.3,986.1 2312.9,987.5 2313.6,988.8 2314.3,990.2 2315,991.5 2315.7,992.9 2316.4,994.2 2317.2,995.5 2317.9,996.8 2318.7,998.1 2319.4,999.4 2320.2,1000.7 2321,1001.9 2321.8,1003.2 2322.6,1004.5 2323.5,1005.7 2324.3,1007 2325.2,1008.2 2326.1,1009.4 2327,1010.6 2328,1011.8 2328.9,1012.9 2329.9,1014 2330.9,1015.1 2331.9,1016.2 2333,1017.3 2334,1018.3 2335.1,1019.4 2336.3,1020.4 2337.4,1021.4 2338.6,1022.3" fill="none" stroke="#e5332f" stroke-width="4.2" stroke-linecap="round" stroke-linejoin="round" stroke-dasharray="29 29.2" stroke-dashoffset="57.0"/>
<path d="M2338.6,1022.3 2339.3,1021 2340,1019.6 2340.7,1018.3 2341.3,1016.9 2342,1015.5 2342.6,1014.2 2343.2,1012.8 2343.7,1011.4 2344.3,1010 2344.9,1008.6 2345.4,1007.2 2346,1005.8 2346.5,1004.4 2347.1,1003 2347.6,1001.6 2348,1000.1 2348.5,998.7 2348.9,997.2 2349.3,995.8 2349.6,994.4 2350,992.9 2350.3,991.4 2350.7,990 2351,988.5 2351.4,987 2351.7,985.6 2352,984.1 2352.3,982.6 2352.6,981.1 2352.9,979.6 2353.2,978.2 2353.5,976.7 2353.7,975.2 2354,973.7 2354.3,972.2 2354.5,970.7 2354.8,969.3 2355,967.8 2355.3,966.3 2355.5,964.8 2355.8,963.3 2356,961.8 2356.2,960.3 2356.5,958.9 2356.7,957.4 2356.9,955.9 2357.2,954.4 2357.4,952.9 2357.6,951.4 2357.8,949.9 2358,948.4 2358.3,946.9 2358.5,945.5 2358.7,944 2358.9,942.5 2359.2,941 2359.4,939.5 2359.6,938 2359.9,936.5 2360.1,935 2360.3,933.5 2360.6,932.1 2360.8,930.6 2361,929.1 2361.3,927.6 2361.5,926.1 2361.7,924.6 2362,923.1 2362.2,921.6 2362.5,920.1 2362.7,918.6 2363,917.2 2363.2,915.7 2363.5,914.2 2363.7,912.7 2364,911.3 2364.3,909.8 2364.6,908.3 2364.9,906.8 2365.3,905.4 2365.6,903.9 2366,902.4 2366.4,901 2366.8,899.5 2367.3,898.1 2367.7,896.6 2368.2,895.2 2368.7,893.8 2369.2,892.4 2369.8,891 2370.5,889.7 2371.2,888.3 2371.9,887 2372.7,885.7 2373.5,884.4 2374.3,883.1 2375,881.8 2375.8,880.5 2376.6,879.2 2377.5,877.9 2378.4,876.6 2379.4,875.6 2380.5,874.7 2381.8,873.9 2383.3,873.3 2384.8,873.1 2386.2,873.3 2387.7,874 2388.9,874.9 2389.9,876 2390.7,877.2 2391.4,878.6 2392,880 2392.5,881.5 2392.8,883 2393.1,884.4 2393.3,885.9 2393.6,887.3 2393.8,888.8 2394,890.3 2394.2,891.8 2394.4,893.3 2394.6,894.8 2394.8,896.3 2395,897.8 2395.2,899.3 2395.4,900.8 2395.6,902.3 2395.8,903.8 2396,905.3 2396.2,906.8 2396.4,908.3 2396.6,909.8 2396.9,911.3 2397.1,912.8 2397.3,914.3 2397.6,915.8 2397.8,917.3 2398.1,918.7 2398.3,920.2 2398.6,921.7 2398.8,923.2 2399.1,924.7 2399.3,926.2 2399.6,927.7 2399.8,929.1 2400.1,930.6 2400.3,932.1 2400.5,933.6 2400.8,935.1 2401,936.6 2401.3,938.1 2401.5,939.5 2401.7,941 2402,942.5 2402.2,944 2402.4,945.5 2402.7,947 2402.9,948.5 2403.1,950 2403.4,951.4 2403.6,952.9 2403.8,954.4 2404.1,955.9 2404.3,957.4 2404.5,958.9 2404.7,960.4 2405,961.9 2405.2,963.4 2405.4,964.8 2405.7,966.3 2405.9,967.8 2406.1,969.3 2406.4,970.8 2406.6,972.3 2406.8,973.8 2407.1,975.3 2407.3,976.8 2407.5,978.3 2407.7,979.8 2408,981.3 2408.2,982.8 2408.4,984.3 2408.6,985.8 2408.9,987.3 2409.1,988.8 2409.4,990.3 2409.6,991.8 2409.9,993.2 2410.2,994.7 2410.5,996.1 2410.8,997.5 2411.1,999 2411.6,1000.5 2412.2,1002 2412.9,1003.4 2413.7,1004.8 2414.6,1006 2415.5,1007.1 2416.5,1007.9 2417.6,1008.7 2418.9,1009.4 2420.2,1010.1 2421.6,1010.8 2423,1011.4 2424.5,1011.9 2426,1012.5 2427.5,1013 2429,1013.5 2430.5,1014 2431.9,1014.4 2433.3,1014.9 2434.7,1015.3 2436.2,1015.8 2437.6,1016.2 2439.1,1016.6 2440.5,1017.1 2442,1017.5 2443.4,1017.9 2444.9,1018.3 2446.3,1018.7 2447.8,1019.1 2449.3,1019.4 2450.7,1019.8 2452.2,1020.2 2453.6,1020.6 2455.1,1020.9 2456.6,1021.3 2458,1021.7 2459.5,1022 2460.9,1022.4 2462.4,1022.8 2463.8,1023.3 2465.3,1023.7 2466.7,1024.1 2468.2,1024.5 2469.7,1024.8 2471.1,1025.2 2472.6,1025.4 2474.1,1025.7 2475.6,1025.9 2477.1,1026.1 2478.6,1026.2 2480.1,1026.4 2481.6,1026.5 2483.1,1026.6 2484.6,1026.7 2486.1,1026.8 2487.6,1026.8 2489.1,1026.8 2490.6,1026.7 2492.1,1026.7 2493.6,1026.6 2495.1,1026.4 2496.6,1026.3 2498.1,1026.2 2499.6,1026 2501.1,1025.8 2502.6,1025.6 2504.1,1025.5 2505.6,1025.2 2507.1,1025 2508.5,1024.7 2510,1024.3 2511.5,1024 2513,1023.6 2514.4,1023.2 2515.9,1022.8 2517.3,1022.3 2518.7,1021.9 2520.1,1021.3 2521.5,1020.8 2522.9,1020.1 2524.2,1019.5 2525.6,1018.8 2527,1018.1 2528.3,1017.5 2529.7,1016.9 2531.1,1016.3 2532.5,1015.8 2533.9,1015.3 2535.4,1014.9 2536.8,1014.4 2538.3,1014 2539.7,1013.6 2541.2,1013.3 2542.7,1013 2544.2,1012.7 2545.7,1012.5 2547.2,1012.3 2548.7,1012.3 2550.2,1012.4 2551.6,1012.5 2553.1,1012.8 2554.6,1013.1 2556.1,1013.4 2557.6,1013.8 2559,1014.2 2560.5,1014.6 2561.9,1015.1 2563.3,1015.6 2564.7,1016.1 2566.1,1016.6 2567.5,1017.2 2569,1017.7 2570.4,1018.3 2571.8,1018.8 2573.2,1019.3 2574.6,1019.8 2576.1,1020.2 2577.5,1020.7 2578.9,1021.2 2580.4,1021.7 2581.8,1022.1 2583.2,1022.5 2584.7,1022.9 2586.1,1023.3 2587.6,1023.6 2589.1,1024 2590.5,1024.3 2592,1024.6 2593.5,1024.8 2595,1025.1 2596.5,1025.3 2598,1025.5 2599.5,1025.6" fill="none" stroke="#e5332f" stroke-width="4.2" stroke-linecap="round" stroke-linejoin="round" stroke-dasharray="29 29.2" stroke-dashoffset="28.8"/>
<path d="M2599.5,1025.6 3509,1025.6" fill="none" stroke="#e5332f" stroke-width="4.2" stroke-linecap="round" stroke-linejoin="round" stroke-dasharray="29 29.2" stroke-dashoffset="55.3"/>
<text transform="translate(2114.7,882.3) scale(1,1.045)" text-anchor="end">300</text>
<text transform="translate(2114.7,717.1) scale(1,1.045)" text-anchor="end">600</text>
<text transform="translate(2114.7,551.8) scale(1,1.045)" text-anchor="end">900</text>
<text transform="translate(2114.7,386.5) scale(1,1.045)" text-anchor="end">1 200</text>
<text transform="translate(2114.7,221.3) scale(1,1.045)" text-anchor="end">1 500</text>
<text transform="translate(2114.7,56.0) scale(1,1.045)" text-anchor="end">1 800</text>
<text transform="translate(2098.2,1103.8) scale(1,1.045)" text-anchor="middle">0</text>
<text transform="translate(2366.3,1103.8) scale(1,1.045)" text-anchor="middle">10</text>
<text transform="translate(2594.6,1103.8) scale(1,1.045)" text-anchor="middle">20</text>
<text transform="translate(2822.6,1103.8) scale(1,1.045)" text-anchor="middle">30</text>
<text transform="translate(3050.2,1103.8) scale(1,1.045)" text-anchor="middle">40</text>
<text transform="translate(3278.0,1103.8) scale(1,1.045)" text-anchor="middle">50</text>
<text transform="translate(3506.8,1103.8) scale(1,1.045)" text-anchor="middle">60</text>
<text transform="translate(2823.0,1200.2) scale(1,1.015)" text-anchor="middle">Time/ms</text>
<text transform="translate(2703.8,1303.7) scale(1,1.015)" text-anchor="middle">(b) Base-column impact</text>
<text transform="translate(1923.1,531) rotate(-90) scale(1,1.015)" text-anchor="middle">Impact force/kN</text>
<path d="M2861.6,117.5H3070.9" fill="none" stroke="#2d58a8" stroke-width="4.2" stroke-linecap="round"/>
<text transform="translate(3093.5,138.4) scale(1,1.02)" text-anchor="start">B-6-600-0.2</text>
<path d="M2861.6,193.8H3070.9" fill="none" stroke="#3daa5c" stroke-width="4.2" stroke-linecap="round" stroke-dasharray="16 17.15"/>
<text transform="translate(3093.5,214.8) scale(1,1.02)" text-anchor="start">B-6-600-0.3</text>
<path d="M2861.6,270.1H3070.9" fill="none" stroke="#e5332f" stroke-width="4.2" stroke-linecap="round" stroke-dasharray="29 29.2"/>
<text transform="translate(3093.5,291.2) scale(1,1.02)" text-anchor="start">B-6-600-0.4</text>
</g>
</svg>
</body>
</html>
